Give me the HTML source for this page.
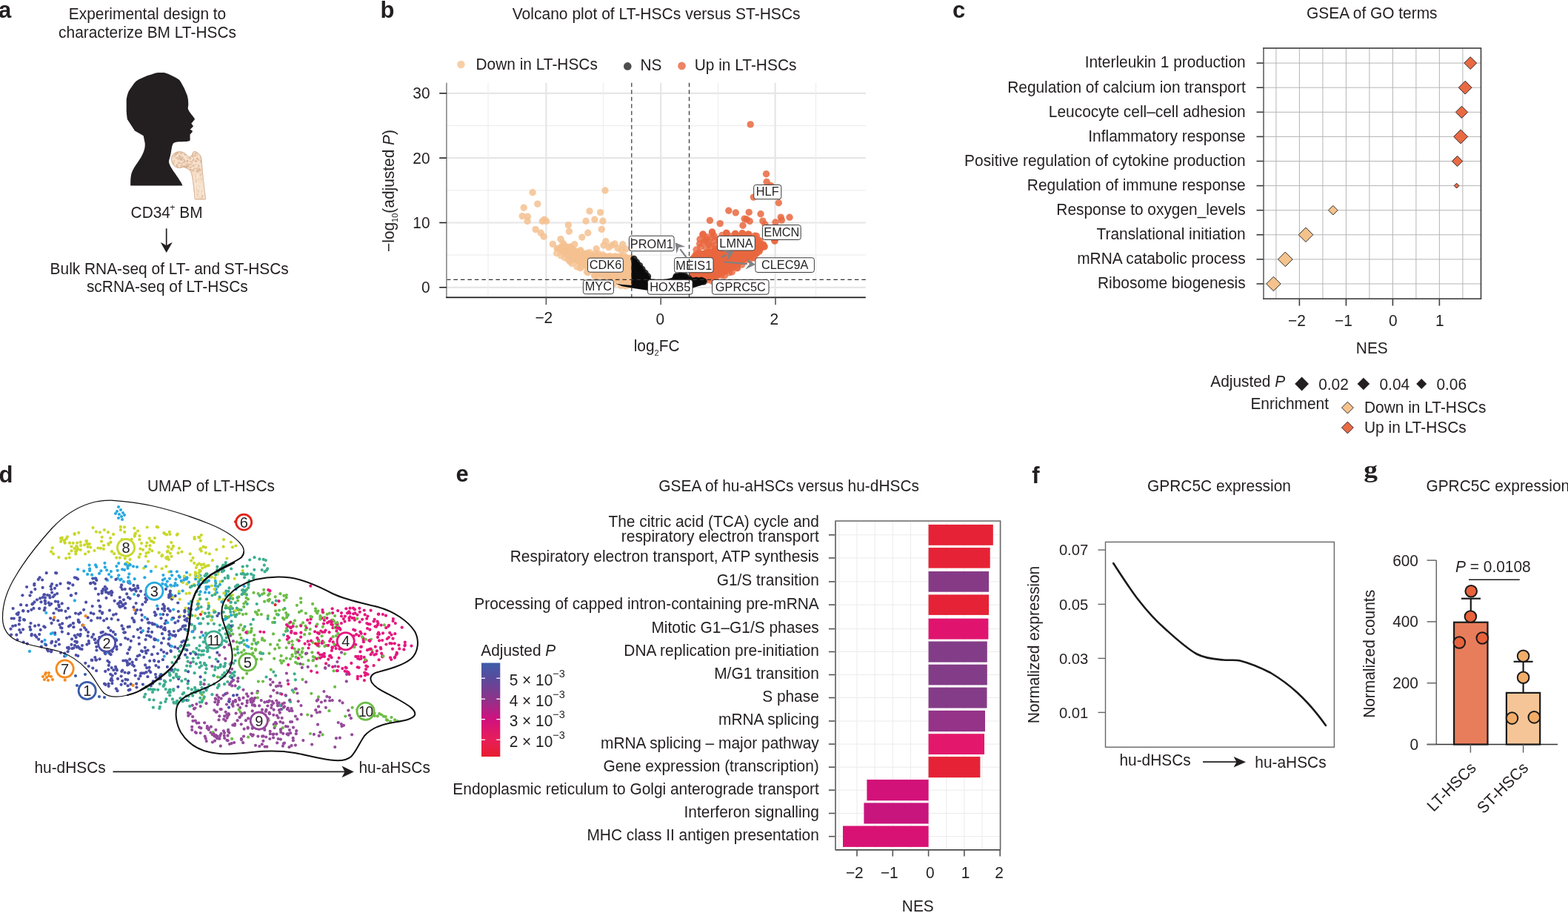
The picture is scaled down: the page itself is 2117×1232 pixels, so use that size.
<!DOCTYPE html>
<html><head><meta charset="utf-8"><title>Figure</title>
<style>html,body{margin:0;padding:0;background:#fff;}svg{display:block;}
text{font-family:'Liberation Sans', sans-serif;fill:#231f20;}</style></head>
<body><svg width="2117" height="1232" viewBox="0 0 2117 1232">
<rect width="2117" height="1232" fill="#fff"/>
<text x="-2" y="24.4" font-size="31" font-weight="bold" style="font-family:'Liberation Sans', sans-serif">a</text>
<text x="513.5" y="24.4" font-size="31" font-weight="bold" style="font-family:'Liberation Sans', sans-serif">b</text>
<text x="1286" y="24.4" font-size="31" font-weight="bold" style="font-family:'Liberation Sans', sans-serif">c</text>
<text x="-1.5" y="651" font-size="31" font-weight="bold" style="font-family:'Liberation Sans', sans-serif">d</text>
<text x="615.5" y="649.5" font-size="31" font-weight="bold" style="font-family:'Liberation Sans', sans-serif">e</text>
<text x="1393.3" y="652" font-size="31" font-weight="bold" style="font-family:'Liberation Sans', sans-serif">f</text>
<text transform="translate(1841.3 644.3) scale(1.17 1)" font-size="32" font-weight="bold" style="font-family:'Liberation Serif', serif">g</text>
<text transform="translate(199 25.6) scale(1 1.035)" font-size="20.9" text-anchor="middle" >Experimental design to</text>
<text transform="translate(199 51.2) scale(1 1.035)" font-size="20.9" text-anchor="middle" >characterize BM LT-HSCs</text>
<path d="M176.2 250.4 C176 243 176.5 238 177.5 234 C179.5 228 183 223 186 219 C190 213 194 207 195.5 199 C196 195 195.8 192 195 190 C194.5 186.5 194 184 193.4 182.9 L182 176.4 L171.9 161 C171 155 170.6 150 170.7 147.2 L170.7 134.2 C171.5 129 172.5 126 173.9 122.8 L181.2 112.3 C183 110 185 108.5 187.7 107 L199.1 102.1 C204 100.5 209 98.3 213.7 97.9 L221.8 97.9 C229 100 236 103.5 242.1 107.8 C244.5 111 246.5 115 248.6 118.8 L252.7 128.5 C253.8 132 254.3 136.5 254.3 140.7 C254.3 143 253.5 145.5 253.9 147.2 C255.5 151 259.5 155.5 262.4 159.4 C263.2 160.5 263 161.2 262.4 161.8 L258.3 166.7 C259.5 168 261 169.5 260.8 170.7 L256.7 174.8 C258 175.5 260 176.3 259.9 177.2 C259.5 178.8 257.5 180 256.7 181.3 C256.3 184 256.8 187 256.5 189.4 C254.5 191.5 248 191.2 242 191.2 C238 191.4 235 192 233.5 194 C231.5 198 231.5 204 230 210 C229 214 227.5 217 228.3 220 C230 226 236 233 240.5 240 C243 244 245.5 247.5 246.4 250.4 Z" fill="#231f20"/>
<defs><clipPath id="bonec"><path d="M231.5 215.2 C231.2 209.5 236 205 241.7 204.8 C246.5 204.6 250 206.5 251.8 209.2 C253 211.2 254.8 212.2 256.5 211.8 C259 211.2 259.5 208 260.5 206 C261.2 204.6 262.3 204.2 263.2 204.5 C267.5 205.8 271 209 271.8 214 C272.5 222 273.5 235 275 248 C276 257 277 264 277.5 268.9 L263.2 268.9 C262.3 258 261 246 259.5 238 C258.5 232.5 256.5 229 253.6 227.8 C251 226.5 248.5 225.2 246.8 225.4 C244.5 226.5 242 226.8 240 226.2 C235 225 231.8 220.5 231.5 215.2 Z"/></clipPath></defs>
<path d="M231.5 215.2 C231.2 209.5 236 205 241.7 204.8 C246.5 204.6 250 206.5 251.8 209.2 C253 211.2 254.8 212.2 256.5 211.8 C259 211.2 259.5 208 260.5 206 C261.2 204.6 262.3 204.2 263.2 204.5 C267.5 205.8 271 209 271.8 214 C272.5 222 273.5 235 275 248 C276 257 277 264 277.5 268.9 L263.2 268.9 C262.3 258 261 246 259.5 238 C258.5 232.5 256.5 229 253.6 227.8 C251 226.5 248.5 225.2 246.8 225.4 C244.5 226.5 242 226.8 240 226.2 C235 225 231.8 220.5 231.5 215.2 Z" fill="#f6ddc6" stroke="#d9b79b" stroke-width="0.8"/>
<g clip-path="url(#bonec)" fill="#c99d7c" fill-opacity="0.45"><circle cx="242.3" cy="220.1" r="0.9"/><circle cx="256.6" cy="222.3" r="0.7"/><circle cx="233.5" cy="227.8" r="0.8"/><circle cx="242.1" cy="231.9" r="1"/><circle cx="265.6" cy="218.4" r="1.2"/><circle cx="238.9" cy="222.5" r="1.4"/><circle cx="253.4" cy="225.3" r="1.2"/><circle cx="235.5" cy="225.7" r="1.1"/><circle cx="244.7" cy="206.8" r="1.4"/><circle cx="251.4" cy="224.7" r="1.4"/><circle cx="260.9" cy="229.9" r="1"/><circle cx="264.2" cy="217.6" r="1.4"/><circle cx="267.3" cy="208.5" r="0.7"/><circle cx="241.5" cy="231.1" r="1"/><circle cx="257.4" cy="213.8" r="1.1"/><circle cx="248" cy="215.1" r="1.1"/><circle cx="255.8" cy="229.5" r="1.2"/><circle cx="269.2" cy="228.3" r="1.5"/><circle cx="259.2" cy="210.2" r="1.4"/><circle cx="270.6" cy="229.5" r="1.1"/><circle cx="260.8" cy="211.5" r="1.3"/><circle cx="255.4" cy="213.4" r="0.7"/><circle cx="266.3" cy="231.7" r="0.7"/><circle cx="264.2" cy="216.7" r="0.7"/><circle cx="244.5" cy="226" r="1.4"/><circle cx="234.7" cy="222" r="0.6"/><circle cx="261" cy="214.6" r="1.4"/><circle cx="271.2" cy="219.1" r="1.5"/><circle cx="245.1" cy="208" r="1.1"/><circle cx="234.2" cy="211.1" r="1"/><circle cx="256.8" cy="210.1" r="0.6"/><circle cx="266.8" cy="214.2" r="1.5"/><circle cx="268" cy="215.8" r="1"/><circle cx="253.3" cy="222.7" r="1.1"/><circle cx="254.8" cy="222.1" r="1.4"/><circle cx="252.8" cy="217.2" r="1.2"/><circle cx="242.3" cy="213.8" r="1.5"/><circle cx="253.3" cy="220.3" r="0.6"/><circle cx="249.2" cy="221.1" r="0.6"/><circle cx="257" cy="222.4" r="0.7"/><circle cx="257.5" cy="218.1" r="1.2"/><circle cx="246.8" cy="224.4" r="1.3"/><circle cx="233.9" cy="207.6" r="1.2"/><circle cx="270.6" cy="212.5" r="1"/><circle cx="256.1" cy="214.3" r="0.9"/><circle cx="245.2" cy="215.6" r="1.1"/><circle cx="244.7" cy="215.8" r="1.3"/><circle cx="234" cy="220.8" r="1.3"/><circle cx="245.1" cy="211.8" r="1.3"/><circle cx="242.3" cy="210.9" r="1"/><circle cx="260.2" cy="208.6" r="0.9"/><circle cx="246" cy="227.7" r="1"/><circle cx="266.4" cy="210.4" r="0.9"/><circle cx="258.4" cy="229" r="1"/><circle cx="241.8" cy="209.1" r="1.1"/><circle cx="240.4" cy="227" r="1.4"/><circle cx="240.2" cy="213.2" r="1.3"/><circle cx="258" cy="227" r="0.9"/><circle cx="238.1" cy="213.6" r="1.3"/><circle cx="243.6" cy="215" r="1"/><circle cx="249.4" cy="216.6" r="1.4"/><circle cx="239.1" cy="206.1" r="1.4"/><circle cx="267.3" cy="231.7" r="1"/><circle cx="270.1" cy="230.1" r="0.8"/><circle cx="262.1" cy="227.8" r="1.2"/><circle cx="253.2" cy="213.5" r="0.9"/><circle cx="241.9" cy="207.8" r="1.1"/><circle cx="244.2" cy="227.1" r="0.6"/><circle cx="268.2" cy="224" r="1.4"/><circle cx="268" cy="229.4" r="1.1"/><circle cx="233.5" cy="225.4" r="0.8"/><circle cx="244.7" cy="223.2" r="1.1"/><circle cx="249.1" cy="230.4" r="1.2"/><circle cx="246.3" cy="212.6" r="1.4"/><circle cx="251.6" cy="226.3" r="0.9"/><circle cx="240.7" cy="219.9" r="1.3"/><circle cx="239.7" cy="226.6" r="1.4"/><circle cx="264.4" cy="227.4" r="0.6"/><circle cx="257.5" cy="228.4" r="0.6"/><circle cx="243.6" cy="213" r="1.1"/><circle cx="249.5" cy="218.3" r="1.3"/><circle cx="233.1" cy="207.4" r="0.7"/><circle cx="237.9" cy="207.8" r="1.5"/><circle cx="266.3" cy="208.2" r="1.1"/><circle cx="245.3" cy="214.2" r="0.9"/><circle cx="258.2" cy="221.3" r="0.9"/><circle cx="240.5" cy="214.5" r="0.7"/><circle cx="254.7" cy="224.6" r="0.9"/><circle cx="236.1" cy="210.6" r="0.9"/><circle cx="256.6" cy="226.3" r="0.9"/><circle cx="264.2" cy="222.2" r="1"/><circle cx="247.5" cy="218.9" r="1.2"/><circle cx="249.4" cy="224" r="1"/><circle cx="242.6" cy="219.9" r="1.2"/><circle cx="235.8" cy="217" r="1"/><circle cx="267.3" cy="230.3" r="0.9"/><circle cx="268" cy="226.6" r="0.8"/><circle cx="251.1" cy="209.2" r="1.3"/><circle cx="258.8" cy="229.1" r="1.3"/><circle cx="259" cy="225.1" r="1.1"/><circle cx="237" cy="221.3" r="0.6"/><circle cx="238.6" cy="226.1" r="0.6"/><circle cx="236.6" cy="208.6" r="1.4"/><circle cx="240" cy="206.6" r="1.4"/><circle cx="237.7" cy="227.9" r="1.2"/><circle cx="265.6" cy="230.8" r="1.1"/><circle cx="264.2" cy="206.9" r="1.3"/><circle cx="252.9" cy="224.6" r="0.7"/><circle cx="262.2" cy="230.3" r="0.7"/><circle cx="245.6" cy="220.7" r="1.3"/><circle cx="242.4" cy="210.7" r="0.8"/><circle cx="257" cy="225.6" r="1"/><circle cx="247.3" cy="216.3" r="0.9"/><circle cx="249.3" cy="208.2" r="1.1"/><circle cx="270.9" cy="216.7" r="1.3"/><circle cx="239.3" cy="224" r="1.3"/><circle cx="259.3" cy="219.4" r="1"/><circle cx="258.1" cy="229.3" r="0.7"/><circle cx="236.7" cy="225.5" r="1.4"/><circle cx="253.2" cy="217.5" r="1.2"/><circle cx="240.3" cy="213" r="0.8"/><circle cx="255.8" cy="214.2" r="0.8"/><circle cx="260" cy="230.8" r="0.9"/><circle cx="260.5" cy="216.7" r="1.4"/><circle cx="255.8" cy="212.9" r="0.8"/><circle cx="233.9" cy="218.5" r="0.9"/><circle cx="239.7" cy="215.4" r="0.9"/><circle cx="263.2" cy="209.7" r="1.5"/><circle cx="251.7" cy="221.6" r="1"/><circle cx="265.5" cy="227.4" r="1.1"/><circle cx="251.8" cy="224.7" r="1.4"/><circle cx="248.6" cy="225.1" r="1.5"/><circle cx="251.2" cy="212" r="0.8"/><circle cx="261" cy="223.6" r="1.5"/><circle cx="266.3" cy="212.3" r="0.8"/><circle cx="243.1" cy="210.9" r="1.2"/><circle cx="266.5" cy="229.4" r="0.8"/><circle cx="266.7" cy="214.1" r="1"/><circle cx="261.4" cy="208.2" r="0.7"/><circle cx="265.5" cy="213.6" r="0.9"/><circle cx="270.1" cy="255.7" r="0.4"/><circle cx="266.7" cy="246.6" r="0.6"/><circle cx="264.9" cy="252.2" r="0.9"/><circle cx="267.5" cy="250.7" r="0.5"/><circle cx="265.8" cy="255.3" r="0.5"/><circle cx="274.4" cy="264.5" r="0.4"/><circle cx="275.2" cy="244.2" r="0.8"/><circle cx="272.6" cy="241.2" r="0.7"/><circle cx="271.2" cy="260.6" r="0.5"/><circle cx="272.6" cy="266.5" r="0.7"/><circle cx="269.5" cy="234.3" r="0.6"/><circle cx="266.9" cy="257.3" r="0.7"/><circle cx="269.9" cy="236.9" r="0.7"/><circle cx="270.8" cy="236.8" r="0.8"/><circle cx="271.2" cy="234.7" r="0.9"/><circle cx="264" cy="242.6" r="0.8"/><circle cx="270.4" cy="251.1" r="0.7"/><circle cx="268.4" cy="241.9" r="0.5"/><circle cx="263" cy="257.2" r="0.8"/><circle cx="269.6" cy="258.1" r="0.6"/><circle cx="265.7" cy="244.6" r="0.8"/><circle cx="262.6" cy="249.2" r="0.5"/><circle cx="272.8" cy="243.5" r="0.6"/><circle cx="267.6" cy="250.6" r="0.8"/><circle cx="266.9" cy="262.2" r="0.5"/><circle cx="265.8" cy="233.8" r="0.5"/><circle cx="272.9" cy="257.6" r="0.5"/><circle cx="264.6" cy="245.8" r="0.8"/><circle cx="273.4" cy="258.5" r="0.7"/><circle cx="264.1" cy="245.1" r="0.5"/><circle cx="269.4" cy="251.6" r="0.5"/><circle cx="265.5" cy="259.7" r="0.4"/><circle cx="273.2" cy="263.9" r="0.9"/><circle cx="267.4" cy="251" r="0.7"/><circle cx="270.9" cy="267.1" r="0.7"/><circle cx="266.2" cy="262.7" r="0.6"/><circle cx="270.4" cy="257.6" r="0.4"/><circle cx="272.8" cy="255.2" r="0.6"/><circle cx="269.3" cy="247.5" r="0.5"/><circle cx="269.4" cy="231.4" r="0.7"/><circle cx="271" cy="246.9" r="0.7"/><circle cx="275.4" cy="263.9" r="0.5"/><circle cx="273.1" cy="253.7" r="0.4"/><circle cx="267" cy="238.9" r="0.4"/><circle cx="269.5" cy="265.3" r="0.6"/><circle cx="274.2" cy="256.4" r="0.5"/><circle cx="274" cy="252.8" r="0.9"/><circle cx="272" cy="258.1" r="0.6"/><circle cx="273.3" cy="265.4" r="0.8"/><circle cx="268.1" cy="258.8" r="0.6"/><circle cx="263.5" cy="231.6" r="0.4"/><circle cx="264.8" cy="236.1" r="0.6"/><circle cx="271.8" cy="250.4" r="0.6"/><circle cx="271.1" cy="241.6" r="0.6"/><circle cx="272.6" cy="245.3" r="0.5"/><circle cx="274.6" cy="257.3" r="0.6"/><circle cx="267.2" cy="250.1" r="0.7"/><circle cx="265.1" cy="230.1" r="0.5"/><circle cx="273" cy="235.5" r="0.6"/><circle cx="264.7" cy="238" r="0.5"/></g>
<g clip-path="url(#bonec)"><path d="M248.5 210.9 l-4.7 -3.1 M240.1 218.3 l-4.4 -3.8 M250.1 216.4 l2 -3.6 M248.5 216.1 l-4.7 3.7 M241.9 209.2 l-0.3 -2.7 M256.4 215 l-3.8 -3.6 M260.2 213.3 l2.9 -0.3 M267.6 213.9 l-2.5 -1.9 M263.3 221.5 l-1.6 -3.3 M258.6 229.3 l0.9 -4 M235.1 209.1 l-3.3 -3.7 M235.9 222 l4 -2.4 M269.1 218 l3 3.3 M267.8 207.8 l-2 0.9 M268.1 209 l-2.1 2.8 M238.1 216 l-1.7 1.4 M267.4 211 l2.4 1.9 M264.1 219.7 l4.2 -1.1 M248.9 212.3 l2.8 -0.2 M243.7 210.9 l2.2 0.8 M259.6 215.9 l-0.1 -2.8 M259.6 207.5 l-0.3 2.1 M258.4 209.2 l-2.6 2.7 M257.1 227.2 l3.7 -0.4 M266.3 223.9 l-1.7 -1 M236.6 216.2 l4.6 -3.2 M254.5 209.5 l-4.2 1.2 M242.7 208.1 l-3.5 1.2 M255.1 207.3 l-2.7 3.7 M241.9 219.9 l-0.8 2.2 M270 255.7 l0.1 5.8 M265.8 234.4 l0.5 5.5 M264.2 261 l-0.5 8.6 M264.9 246 l-0.4 8.3 M270.2 251.3 l0.4 8.5 M267.5 250.1 l-0.1 5.4 M272.4 249.8 l0.5 5.8 M269.4 245.9 l0.4 5.3 M267.5 246.5 l-0.7 7.2 M271.4 244.7 l0.2 7.4 M266.1 242.5 l0.8 6.3 M268.3 234.5 l-0.5 5.7 M273.3 253.8 l0.6 8.9 M270.1 259.9 l0.1 6.7" stroke="#fff4ea" stroke-width="0.8" fill="none" opacity="0.85"/><path d="M264.5 268.9 C263.5 256 262.5 246 261.5 238 M276 268.9 C275 258 274 246 273.3 236" stroke="#f9e6d4" stroke-width="1.6" fill="none"/></g>
<path d="M231.5 215.2 C231.2 209.5 236 205 241.7 204.8 C246.5 204.6 250 206.5 251.8 209.2 C253 211.2 254.8 212.2 256.5 211.8 C259 211.2 259.5 208 260.5 206 C261.2 204.6 262.3 204.2 263.2 204.5 C267.5 205.8 271 209 271.8 214 C272.5 222 273.5 235 275 248 C276 257 277 264 277.5 268.9 L263.2 268.9 C262.3 258 261 246 259.5 238 C258.5 232.5 256.5 229 253.6 227.8 C251 226.5 248.5 225.2 246.8 225.4 C244.5 226.5 242 226.8 240 226.2 C235 225 231.8 220.5 231.5 215.2 Z" fill="none" stroke="#d7b295" stroke-width="0.8"/>
<text transform="translate(176.6 294) scale(1 1.035)" font-size="20.9">CD34<tspan dy="-10" dx="-0.8" font-size="12.5">+</tspan><tspan dy="10"> BM</tspan></text>
<line x1="224.7" y1="308.3" x2="224.7" y2="333" stroke="#231f20" stroke-width="1.7" />
<path d="M216.8 327 Q221 328.5 224.7 331.5 Q228.5 328.5 232.8 327 L224.7 341 Z" fill="#231f20"/>
<text transform="translate(228.7 369.8) scale(1 1.035)" font-size="20.9" text-anchor="middle" >Bulk RNA-seq of LT- and ST-HSCs</text>
<text transform="translate(225.8 394.3) scale(1 1.035)" font-size="20.9" text-anchor="middle" >scRNA-seq of LT-HSCs</text>
<text transform="translate(691.7 25.9) scale(1 1.035)" font-size="21.05" text-anchor="start" >Volcano plot of LT-HSCs versus ST-HSCs</text>
<circle cx="622.4" cy="87" r="5.3" fill="#f7cfa6"/>
<text transform="translate(642.5 94.1) scale(1 1.035)" font-size="20.9" text-anchor="start" >Down in LT-HSCs</text>
<circle cx="847.3" cy="89.4" r="5.3" fill="#4d4d4d"/>
<text transform="translate(864.5 95.3) scale(1 1.035)" font-size="20.9" text-anchor="start" >NS</text>
<circle cx="920.5" cy="88.9" r="5.3" fill="#ed8264"/>
<text transform="translate(937.7 95.3) scale(1 1.035)" font-size="20.9" text-anchor="start" >Up in LT-HSCs</text>
<line x1="602.9" y1="387.8" x2="1168.8" y2="387.8" stroke="#e6e6e6" stroke-width="2.2" />
<line x1="602.9" y1="300.5" x2="1168.8" y2="300.5" stroke="#e6e6e6" stroke-width="2.2" />
<line x1="602.9" y1="213.2" x2="1168.8" y2="213.2" stroke="#e6e6e6" stroke-width="2.2" />
<line x1="602.9" y1="125.9" x2="1168.8" y2="125.9" stroke="#e6e6e6" stroke-width="2.2" />
<line x1="602.9" y1="344.1" x2="1168.8" y2="344.1" stroke="#eeeeee" stroke-width="1.2" />
<line x1="602.9" y1="256.9" x2="1168.8" y2="256.9" stroke="#eeeeee" stroke-width="1.2" />
<line x1="602.9" y1="169.6" x2="1168.8" y2="169.6" stroke="#eeeeee" stroke-width="1.2" />
<line x1="737.4" y1="111.7" x2="737.4" y2="401.4" stroke="#e6e6e6" stroke-width="2.2" />
<line x1="892.2" y1="111.7" x2="892.2" y2="401.4" stroke="#e6e6e6" stroke-width="2.2" />
<line x1="1046.6" y1="111.7" x2="1046.6" y2="401.4" stroke="#e6e6e6" stroke-width="2.2" />
<line x1="659" y1="111.7" x2="659" y2="401.4" stroke="#eeeeee" stroke-width="1.2" />
<line x1="814.5" y1="111.7" x2="814.5" y2="401.4" stroke="#eeeeee" stroke-width="1.2" />
<line x1="969.5" y1="111.7" x2="969.5" y2="401.4" stroke="#eeeeee" stroke-width="1.2" />
<line x1="1101.5" y1="111.7" x2="1101.5" y2="401.4" stroke="#eeeeee" stroke-width="1.2" />
<g><path d="M749 334 L753 331.5 L767 329.5 L776.4 334.5 L790 338.5 L800.5 340.5 L813.9 341.5 L827.3 342.5 L840 343 L853 344.5 L853 385 L840.7 383 L828 380.5 L808.5 373.5 L789 362.5 L768.5 350.5 L754 340.5 L748 337 Z" fill="#f5c190" fill-opacity="1"/><circle cx="752.2" cy="335.2" r="4.7" fill="#f5c190" fill-opacity="0.8"/><circle cx="757.7" cy="333.2" r="4.7" fill="#f5c190" fill-opacity="0.8"/><circle cx="760.4" cy="333.2" r="4.7" fill="#f5c190" fill-opacity="0.8"/><circle cx="763.6" cy="332.6" r="4.7" fill="#f5c190" fill-opacity="0.8"/><circle cx="768.3" cy="334.1" r="4.7" fill="#f5c190" fill-opacity="0.8"/><circle cx="771.3" cy="333.9" r="4.7" fill="#f5c190" fill-opacity="0.8"/><circle cx="775.8" cy="338" r="4.7" fill="#f5c190" fill-opacity="0.8"/><circle cx="783.8" cy="337.7" r="4.7" fill="#f5c190" fill-opacity="0.8"/><circle cx="788.8" cy="342.3" r="4.7" fill="#f5c190" fill-opacity="0.8"/><circle cx="792.9" cy="342" r="4.7" fill="#f5c190" fill-opacity="0.8"/><circle cx="795.9" cy="340.6" r="4.7" fill="#f5c190" fill-opacity="0.8"/><circle cx="804" cy="341.9" r="4.7" fill="#f5c190" fill-opacity="0.8"/><circle cx="808.3" cy="342.8" r="4.7" fill="#f5c190" fill-opacity="0.8"/><circle cx="813.9" cy="343.9" r="4.7" fill="#f5c190" fill-opacity="0.8"/><circle cx="823.3" cy="345.8" r="4.7" fill="#f5c190" fill-opacity="0.8"/><circle cx="830.5" cy="345.6" r="4.7" fill="#f5c190" fill-opacity="0.8"/><circle cx="836.7" cy="345.9" r="4.7" fill="#f5c190" fill-opacity="0.8"/><circle cx="842.8" cy="345.1" r="4.7" fill="#f5c190" fill-opacity="0.8"/><circle cx="852.5" cy="348.6" r="4.7" fill="#f5c190" fill-opacity="0.8"/><circle cx="847.7" cy="385" r="4.7" fill="#f5c190" fill-opacity="0.8"/><circle cx="844.5" cy="386" r="4.7" fill="#f5c190" fill-opacity="0.8"/><circle cx="838.3" cy="385.5" r="4.7" fill="#f5c190" fill-opacity="0.8"/><circle cx="829.1" cy="382.6" r="4.7" fill="#f5c190" fill-opacity="0.8"/><circle cx="823.2" cy="380.8" r="4.7" fill="#f5c190" fill-opacity="0.8"/><circle cx="818.3" cy="377.4" r="4.7" fill="#f5c190" fill-opacity="0.8"/><circle cx="817.4" cy="379.3" r="4.7" fill="#f5c190" fill-opacity="0.8"/><circle cx="808.4" cy="375.2" r="4.7" fill="#f5c190" fill-opacity="0.8"/><circle cx="802.8" cy="372.4" r="4.7" fill="#f5c190" fill-opacity="0.8"/><circle cx="802.7" cy="371.5" r="4.7" fill="#f5c190" fill-opacity="0.8"/><circle cx="793.9" cy="367.8" r="4.7" fill="#f5c190" fill-opacity="0.8"/><circle cx="792.4" cy="366.8" r="4.7" fill="#f5c190" fill-opacity="0.8"/><circle cx="784.7" cy="360.8" r="4.7" fill="#f5c190" fill-opacity="0.8"/><circle cx="783.2" cy="361.8" r="4.7" fill="#f5c190" fill-opacity="0.8"/><circle cx="778.9" cy="360" r="4.7" fill="#f5c190" fill-opacity="0.8"/><circle cx="772.2" cy="355.6" r="4.7" fill="#f5c190" fill-opacity="0.8"/><circle cx="769.5" cy="353" r="4.7" fill="#f5c190" fill-opacity="0.8"/><circle cx="767.1" cy="350.5" r="4.7" fill="#f5c190" fill-opacity="0.8"/><circle cx="762.4" cy="347.6" r="4.7" fill="#f5c190" fill-opacity="0.8"/><circle cx="757.3" cy="344.9" r="4.7" fill="#f5c190" fill-opacity="0.8"/><circle cx="751.6" cy="341.7" r="4.7" fill="#f5c190" fill-opacity="0.8"/><path d="M931 347 L936.8 341.5 L941.9 339 L949.2 338 L956.5 337 L963.8 334.5 L969 332 L985 329 L1000 328.5 L1012 327.5 L1020.8 323 L1029.6 326.5 L1034.5 331.5 L1028.1 341 L1021 347 L1012 350 L1000 358 L990 365 L976 372.5 L962 378 L950 381 L934.6 383.8 L931 384 Z" fill="#e9673f" fill-opacity="1"/><circle cx="939" cy="344.2" r="4.7" fill="#e9673f" fill-opacity="0.8"/><circle cx="940" cy="344.1" r="4.7" fill="#e9673f" fill-opacity="0.8"/><circle cx="943.7" cy="340.9" r="4.7" fill="#e9673f" fill-opacity="0.8"/><circle cx="955.8" cy="340.1" r="4.7" fill="#e9673f" fill-opacity="0.8"/><circle cx="958.5" cy="340.6" r="4.7" fill="#e9673f" fill-opacity="0.8"/><circle cx="965.7" cy="335.5" r="4.7" fill="#e9673f" fill-opacity="0.8"/><circle cx="973.5" cy="333.1" r="4.7" fill="#e9673f" fill-opacity="0.8"/><circle cx="976.1" cy="331.8" r="4.7" fill="#e9673f" fill-opacity="0.8"/><circle cx="980.7" cy="332.6" r="4.7" fill="#e9673f" fill-opacity="0.8"/><circle cx="986.3" cy="331.8" r="4.7" fill="#e9673f" fill-opacity="0.8"/><circle cx="991.9" cy="331.1" r="4.7" fill="#e9673f" fill-opacity="0.8"/><circle cx="999.9" cy="331" r="4.7" fill="#e9673f" fill-opacity="0.8"/><circle cx="1003.8" cy="331.9" r="4.7" fill="#e9673f" fill-opacity="0.8"/><circle cx="1007.2" cy="329.3" r="4.7" fill="#e9673f" fill-opacity="0.8"/><circle cx="1017.6" cy="328.6" r="4.7" fill="#e9673f" fill-opacity="0.8"/><circle cx="1018.2" cy="326" r="4.7" fill="#e9673f" fill-opacity="0.8"/><circle cx="1022.6" cy="327.9" r="4.7" fill="#e9673f" fill-opacity="0.8"/><circle cx="1024.6" cy="328.8" r="4.7" fill="#e9673f" fill-opacity="0.8"/><circle cx="1031.9" cy="332.9" r="4.7" fill="#e9673f" fill-opacity="0.8"/><circle cx="1032.1" cy="332.8" r="4.7" fill="#e9673f" fill-opacity="0.8"/><circle cx="1027.9" cy="334.2" r="4.7" fill="#e9673f" fill-opacity="0.8"/><circle cx="1025.2" cy="339.3" r="4.7" fill="#e9673f" fill-opacity="0.8"/><circle cx="1021.4" cy="342.1" r="4.7" fill="#e9673f" fill-opacity="0.8"/><circle cx="1018.4" cy="348" r="4.7" fill="#e9673f" fill-opacity="0.8"/><circle cx="1015.3" cy="347.6" r="4.7" fill="#e9673f" fill-opacity="0.8"/><circle cx="1011.9" cy="350.5" r="4.7" fill="#e9673f" fill-opacity="0.8"/><circle cx="1004.9" cy="352.8" r="4.7" fill="#e9673f" fill-opacity="0.8"/><circle cx="1001.7" cy="357.1" r="4.7" fill="#e9673f" fill-opacity="0.8"/><circle cx="995.7" cy="361.6" r="4.7" fill="#e9673f" fill-opacity="0.8"/><circle cx="995.1" cy="361.8" r="4.7" fill="#e9673f" fill-opacity="0.8"/><circle cx="988.3" cy="366.9" r="4.7" fill="#e9673f" fill-opacity="0.8"/><circle cx="984.5" cy="367.9" r="4.7" fill="#e9673f" fill-opacity="0.8"/><circle cx="978.3" cy="372" r="4.7" fill="#e9673f" fill-opacity="0.8"/><circle cx="973.7" cy="371.5" r="4.7" fill="#e9673f" fill-opacity="0.8"/><circle cx="966.4" cy="375.2" r="4.7" fill="#e9673f" fill-opacity="0.8"/><circle cx="963.2" cy="376.7" r="4.7" fill="#e9673f" fill-opacity="0.8"/><circle cx="961.4" cy="379.2" r="4.7" fill="#e9673f" fill-opacity="0.8"/><circle cx="955.5" cy="377.8" r="4.7" fill="#e9673f" fill-opacity="0.8"/><circle cx="946" cy="379.7" r="4.7" fill="#e9673f" fill-opacity="0.8"/><circle cx="944.6" cy="381" r="4.7" fill="#e9673f" fill-opacity="0.8"/><circle cx="937" cy="382.1" r="4.7" fill="#e9673f" fill-opacity="0.8"/><circle cx="948.8" cy="316.4" r="4.7" fill="#e9673f" fill-opacity="0.8"/><circle cx="961.4" cy="313.5" r="4.7" fill="#e9673f" fill-opacity="0.8"/><circle cx="962.4" cy="320.3" r="4.7" fill="#e9673f" fill-opacity="0.8"/><circle cx="954.6" cy="323.2" r="4.7" fill="#e9673f" fill-opacity="0.8"/><circle cx="950.7" cy="326.1" r="4.7" fill="#e9673f" fill-opacity="0.8"/><circle cx="957.5" cy="327.1" r="4.7" fill="#e9673f" fill-opacity="0.8"/><circle cx="964.3" cy="325.2" r="4.7" fill="#e9673f" fill-opacity="0.8"/><circle cx="944.5" cy="329" r="4.7" fill="#e9673f" fill-opacity="0.8"/><circle cx="980.9" cy="314.5" r="4.7" fill="#e9673f" fill-opacity="0.8"/><circle cx="992.6" cy="315.4" r="4.7" fill="#e9673f" fill-opacity="0.8"/><circle cx="1002.3" cy="314.9" r="4.7" fill="#e9673f" fill-opacity="0.8"/><circle cx="1010.1" cy="315.9" r="4.7" fill="#e9673f" fill-opacity="0.8"/><circle cx="1018.9" cy="318.3" r="4.7" fill="#e9673f" fill-opacity="0.8"/><circle cx="975" cy="317.4" r="4.7" fill="#e9673f" fill-opacity="0.8"/><circle cx="1022.8" cy="323.2" r="4.7" fill="#e9673f" fill-opacity="0.8"/><circle cx="1030.6" cy="330" r="4.7" fill="#e9673f" fill-opacity="0.8"/><circle cx="1024.7" cy="328.1" r="4.7" fill="#e9673f" fill-opacity="0.8"/><circle cx="1046.1" cy="325.2" r="4.7" fill="#e9673f" fill-opacity="0.8"/><circle cx="986" cy="319" r="4.7" fill="#e9673f" fill-opacity="0.8"/><circle cx="997" cy="320" r="4.7" fill="#e9673f" fill-opacity="0.8"/><circle cx="1008" cy="321" r="4.7" fill="#e9673f" fill-opacity="0.8"/><circle cx="970" cy="323" r="4.7" fill="#e9673f" fill-opacity="0.8"/><circle cx="1015" cy="324" r="4.7" fill="#e9673f" fill-opacity="0.8"/><circle cx="978" cy="325" r="4.7" fill="#e9673f" fill-opacity="0.8"/><circle cx="992" cy="326" r="4.7" fill="#e9673f" fill-opacity="0.8"/><circle cx="1004" cy="327" r="4.7" fill="#e9673f" fill-opacity="0.8"/><circle cx="946" cy="333" r="4.7" fill="#e9673f" fill-opacity="0.8"/><circle cx="953" cy="334" r="4.7" fill="#e9673f" fill-opacity="0.8"/><circle cx="960" cy="333" r="4.7" fill="#e9673f" fill-opacity="0.8"/><circle cx="966" cy="331" r="4.7" fill="#e9673f" fill-opacity="0.8"/><circle cx="940" cy="337" r="4.7" fill="#e9673f" fill-opacity="0.8"/><circle cx="957" cy="330.5" r="4.7" fill="#e9673f" fill-opacity="0.8"/><circle cx="719.1" cy="259.7" r="4.7" fill="#f5c190" fill-opacity="0.85"/><circle cx="817" cy="257" r="4.7" fill="#f5c190" fill-opacity="0.85"/><circle cx="725.8" cy="275.1" r="4.7" fill="#f5c190" fill-opacity="0.85"/><circle cx="707.2" cy="280.2" r="4.7" fill="#f5c190" fill-opacity="0.85"/><circle cx="705.2" cy="291.6" r="4.7" fill="#f5c190" fill-opacity="0.85"/><circle cx="712.4" cy="292.2" r="4.7" fill="#f5c190" fill-opacity="0.85"/><circle cx="712.1" cy="298.5" r="4.7" fill="#f5c190" fill-opacity="0.85"/><circle cx="734.9" cy="296.2" r="4.7" fill="#f5c190" fill-opacity="0.85"/><circle cx="732.2" cy="298.5" r="4.7" fill="#f5c190" fill-opacity="0.85"/><circle cx="737.6" cy="298.5" r="4.7" fill="#f5c190" fill-opacity="0.85"/><circle cx="723.1" cy="309.6" r="4.7" fill="#f5c190" fill-opacity="0.85"/><circle cx="730.2" cy="314.3" r="4.7" fill="#f5c190" fill-opacity="0.85"/><circle cx="734.2" cy="319.3" r="4.7" fill="#f5c190" fill-opacity="0.85"/><circle cx="796" cy="284.9" r="4.7" fill="#f5c190" fill-opacity="0.85"/><circle cx="810.6" cy="286.6" r="4.7" fill="#f5c190" fill-opacity="0.85"/><circle cx="791.1" cy="298.2" r="4.7" fill="#f5c190" fill-opacity="0.85"/><circle cx="802.9" cy="296.2" r="4.7" fill="#f5c190" fill-opacity="0.85"/><circle cx="813.9" cy="298.2" r="4.7" fill="#f5c190" fill-opacity="0.85"/><circle cx="767.3" cy="303.6" r="4.7" fill="#f5c190" fill-opacity="0.85"/><circle cx="768.4" cy="312.3" r="4.7" fill="#f5c190" fill-opacity="0.85"/><circle cx="793.8" cy="314.3" r="4.7" fill="#f5c190" fill-opacity="0.85"/><circle cx="812.3" cy="309.4" r="4.7" fill="#f5c190" fill-opacity="0.85"/><circle cx="785.8" cy="320.1" r="4.7" fill="#f5c190" fill-opacity="0.85"/><circle cx="757" cy="322.6" r="4.7" fill="#f5c190" fill-opacity="0.85"/><circle cx="746.3" cy="329.4" r="4.7" fill="#f5c190" fill-opacity="0.85"/><circle cx="817.9" cy="325.7" r="4.7" fill="#f5c190" fill-opacity="0.85"/><circle cx="830" cy="329" r="4.7" fill="#f5c190" fill-opacity="0.85"/><circle cx="840.7" cy="329.7" r="4.7" fill="#f5c190" fill-opacity="0.85"/><circle cx="821.9" cy="333.7" r="4.7" fill="#f5c190" fill-opacity="0.85"/><circle cx="839.3" cy="337.8" r="4.7" fill="#f5c190" fill-opacity="0.85"/><circle cx="805.2" cy="335.7" r="4.7" fill="#f5c190" fill-opacity="0.85"/><circle cx="783.8" cy="339.1" r="4.7" fill="#f5c190" fill-opacity="0.85"/><circle cx="775.7" cy="329.7" r="4.7" fill="#f5c190" fill-opacity="0.85"/><circle cx="762" cy="331" r="4.7" fill="#f5c190" fill-opacity="0.85"/><circle cx="770" cy="333" r="4.7" fill="#f5c190" fill-opacity="0.85"/><circle cx="826" cy="331" r="4.7" fill="#f5c190" fill-opacity="0.85"/><circle cx="834" cy="335" r="4.7" fill="#f5c190" fill-opacity="0.85"/><circle cx="815" cy="331" r="4.7" fill="#f5c190" fill-opacity="0.85"/><circle cx="760" cy="328" r="4.7" fill="#f5c190" fill-opacity="0.85"/><circle cx="845" cy="336" r="4.7" fill="#f5c190" fill-opacity="0.85"/><circle cx="1013.2" cy="167.9" r="4.7" fill="#e9673f" fill-opacity="0.85"/><circle cx="1034.5" cy="234.8" r="4.7" fill="#e9673f" fill-opacity="0.85"/><circle cx="1035.1" cy="245.4" r="4.7" fill="#e9673f" fill-opacity="0.85"/><circle cx="1040.6" cy="250.4" r="4.7" fill="#e9673f" fill-opacity="0.85"/><circle cx="1017.3" cy="266.1" r="4.7" fill="#e9673f" fill-opacity="0.85"/><circle cx="1051.3" cy="273.8" r="4.7" fill="#e9673f" fill-opacity="0.85"/><circle cx="983.8" cy="284.3" r="4.7" fill="#e9673f" fill-opacity="0.85"/><circle cx="993.3" cy="287" r="4.7" fill="#e9673f" fill-opacity="0.85"/><circle cx="1011.2" cy="286.4" r="4.7" fill="#e9673f" fill-opacity="0.85"/><circle cx="1027" cy="288.8" r="4.7" fill="#e9673f" fill-opacity="0.85"/><circle cx="1054.2" cy="293.1" r="4.7" fill="#e9673f" fill-opacity="0.85"/><circle cx="1066" cy="293.3" r="4.7" fill="#e9673f" fill-opacity="0.85"/><circle cx="1055.4" cy="297.1" r="4.7" fill="#e9673f" fill-opacity="0.85"/><circle cx="1005.1" cy="295.1" r="4.7" fill="#e9673f" fill-opacity="0.85"/><circle cx="1012.2" cy="298.5" r="4.7" fill="#e9673f" fill-opacity="0.85"/><circle cx="1029.8" cy="298.1" r="4.7" fill="#e9673f" fill-opacity="0.85"/><circle cx="1003" cy="304.2" r="4.7" fill="#e9673f" fill-opacity="0.85"/><circle cx="958.4" cy="297.5" r="4.7" fill="#e9673f" fill-opacity="0.85"/><circle cx="972.2" cy="301.6" r="4.7" fill="#e9673f" fill-opacity="0.85"/><circle cx="949.3" cy="316" r="4.7" fill="#e9673f" fill-opacity="0.85"/><circle cx="961.5" cy="313" r="4.7" fill="#e9673f" fill-opacity="0.85"/><circle cx="980.7" cy="314.4" r="4.7" fill="#e9673f" fill-opacity="0.85"/><circle cx="992.9" cy="315.4" r="4.7" fill="#e9673f" fill-opacity="0.85"/><circle cx="1002" cy="314.8" r="4.7" fill="#e9673f" fill-opacity="0.85"/><circle cx="1011.2" cy="316.4" r="4.7" fill="#e9673f" fill-opacity="0.85"/><circle cx="1021.3" cy="318.4" r="4.7" fill="#e9673f" fill-opacity="0.85"/><circle cx="1045.7" cy="324.5" r="4.7" fill="#e9673f" fill-opacity="0.85"/><circle cx="1030.4" cy="330.6" r="4.7" fill="#e9673f" fill-opacity="0.85"/><circle cx="952.3" cy="324.5" r="4.7" fill="#e9673f" fill-opacity="0.85"/><circle cx="1008" cy="296" r="4.7" fill="#e9673f" fill-opacity="0.85"/><circle cx="1033" cy="303" r="4.7" fill="#e9673f" fill-opacity="0.85"/><circle cx="1040" cy="310" r="4.7" fill="#e9673f" fill-opacity="0.85"/><circle cx="1036" cy="318" r="4.7" fill="#e9673f" fill-opacity="0.85"/><circle cx="1026" cy="325" r="4.7" fill="#e9673f" fill-opacity="0.85"/><circle cx="1016" cy="322" r="4.7" fill="#e9673f" fill-opacity="0.85"/><circle cx="955" cy="320" r="4.7" fill="#e9673f" fill-opacity="0.85"/><circle cx="964" cy="318" r="4.7" fill="#e9673f" fill-opacity="0.85"/><circle cx="945" cy="323" r="4.7" fill="#e9673f" fill-opacity="0.85"/><circle cx="1042" cy="257" r="4.7" fill="#e9673f" fill-opacity="0.85"/><circle cx="1047" cy="300" r="4.7" fill="#e9673f" fill-opacity="0.85"/><path d="M852.5 345.5 L857 349 L862 354 L866 359 L871 366 L876.5 372.5 L879 376.5 L891 377 L900 376.5 L907 375 L911 370 L917 368 L923 368.5 L928 371.5 L932 374.5 L945 374.5 L951 375.5 L954 379.5 L951 383.5 L934 389 L917 391.8 L900 392.6 L885 392.4 L874 391.7 L857 389.3 L840 386.3 L831 382.5 L840 384 L852.5 385 Z" fill="#0b0b0b" fill-opacity="1"/><circle cx="856" cy="349.5" r="4.7" fill="#0b0b0b" fill-opacity="0.85"/><circle cx="859.5" cy="354" r="4.7" fill="#0b0b0b" fill-opacity="0.85"/><circle cx="863.5" cy="358.5" r="4.7" fill="#0b0b0b" fill-opacity="0.85"/><circle cx="867" cy="363.5" r="4.7" fill="#0b0b0b" fill-opacity="0.85"/><circle cx="871" cy="368.5" r="4.7" fill="#0b0b0b" fill-opacity="0.85"/><circle cx="874.5" cy="373" r="4.7" fill="#0b0b0b" fill-opacity="0.85"/><circle cx="913" cy="373" r="4.7" fill="#0b0b0b" fill-opacity="0.85"/><circle cx="919" cy="371.5" r="4.7" fill="#0b0b0b" fill-opacity="0.85"/><circle cx="925" cy="372.5" r="4.7" fill="#0b0b0b" fill-opacity="0.85"/><circle cx="930" cy="376" r="4.7" fill="#0b0b0b" fill-opacity="0.85"/><circle cx="940" cy="378.5" r="4.7" fill="#0b0b0b" fill-opacity="0.85"/><circle cx="947" cy="378.5" r="4.7" fill="#0b0b0b" fill-opacity="0.85"/><circle cx="950" cy="380" r="4.7" fill="#0b0b0b" fill-opacity="0.85"/></g>
<rect x="793.5" y="348.2" width="47.9" height="19" rx="3" fill="#fff" stroke="#3a3a3a" stroke-width="1"/>
<text transform="translate(817.5 362.9) scale(1 1.035)" font-size="16.3" text-anchor="middle">CDK6</text>
<rect x="787.4" y="377.9" width="41" height="18.8" rx="3" fill="#fff" stroke="#3a3a3a" stroke-width="1"/>
<text transform="translate(807.9 392.4) scale(1 1.035)" font-size="16.3" text-anchor="middle">MYC</text>
<rect x="849.4" y="318.3" width="60.7" height="20.5" rx="3" fill="#fff" stroke="#3a3a3a" stroke-width="1"/>
<text transform="translate(879.8 334.5) scale(1 1.035)" font-size="16.3" text-anchor="middle">PROM1</text>
<rect x="910.6" y="347.7" width="52.4" height="20.1" rx="3" fill="#fff" stroke="#3a3a3a" stroke-width="1"/>
<text transform="translate(936.8 363.5) scale(1 1.035)" font-size="16.3" text-anchor="middle">MEIS1</text>
<rect x="874.5" y="377.6" width="60.5" height="19.6" rx="3" fill="#fff" stroke="#3a3a3a" stroke-width="1"/>
<text transform="translate(904.8 392.9) scale(1 1.035)" font-size="16.3" text-anchor="middle">HOXB5</text>
<rect x="961.5" y="377.5" width="76.5" height="19.7" rx="3" fill="#fff" stroke="#3a3a3a" stroke-width="1"/>
<text transform="translate(999.8 392.9) scale(1 1.035)" font-size="16.3" text-anchor="middle">GPRC5C</text>
<rect x="968.7" y="318.4" width="50.6" height="19.6" rx="3" fill="#fff" stroke="#3a3a3a" stroke-width="1"/>
<text transform="translate(994 333.7) scale(1 1.035)" font-size="16.3" text-anchor="middle">LMNA</text>
<rect x="1017.7" y="249.4" width="37.1" height="19.3" rx="3" fill="#fff" stroke="#3a3a3a" stroke-width="1"/>
<text transform="translate(1036.2 264.4) scale(1 1.035)" font-size="16.3" text-anchor="middle">HLF</text>
<rect x="1029.4" y="303.6" width="51.8" height="19.9" rx="3" fill="#fff" stroke="#3a3a3a" stroke-width="1"/>
<text transform="translate(1055.3 319.2) scale(1 1.035)" font-size="16.3" text-anchor="middle">EMCN</text>
<rect x="1019.9" y="347.8" width="79.5" height="19.7" rx="3" fill="#fff" stroke="#3a3a3a" stroke-width="1"/>
<text transform="translate(1059.7 363.2) scale(1 1.035)" font-size="16.3" text-anchor="middle">CLEC9A</text>
<line x1="926.5" y1="347" x2="918.2" y2="336.1" stroke="#808285" stroke-width="2.2" />
<path d="M911.6 327.3 L925.4 333.1 L916.5 333.7 L913.5 342.2 Z" fill="#808285"/>
<line x1="973.6" y1="347.2" x2="980.9" y2="343.8" stroke="#808285" stroke-width="2.2" />
<path d="M990.9 339.1 L982.3 351.4 L983.6 342.5 L975.9 337.8 Z" fill="#808285"/>
<line x1="977.7" y1="353.5" x2="1008.9" y2="356.1" stroke="#808285" stroke-width="2.2" />
<path d="M1019.9 357 L1006.3 363.4 L1011.9 356.3 L1007.6 348.5 Z" fill="#808285"/>
<line x1="852.8" y1="111.7" x2="852.8" y2="401.4" stroke="#333" stroke-width="1.2" stroke-dasharray="5.5 4"/>
<line x1="930.5" y1="111.7" x2="930.5" y2="401.4" stroke="#333" stroke-width="1.2" stroke-dasharray="5.5 4"/>
<line x1="602.9" y1="377.4" x2="1168.8" y2="377.4" stroke="#333" stroke-width="1.2" stroke-dasharray="5.5 4"/>
<line x1="602.9" y1="111.7" x2="602.9" y2="401.4" stroke="#888" stroke-width="1.6" />
<line x1="602.1" y1="401.4" x2="1168.8" y2="401.4" stroke="#1a1a1a" stroke-width="1.6" />
<line x1="593.2" y1="387.8" x2="602.9" y2="387.8" stroke="#222" stroke-width="1.6" />
<text transform="translate(580.6 395.1) scale(1 1.035)" font-size="20.9" text-anchor="end" >0</text>
<line x1="593.2" y1="300.5" x2="602.9" y2="300.5" stroke="#222" stroke-width="1.6" />
<text transform="translate(580.6 307.8) scale(1 1.035)" font-size="20.9" text-anchor="end" >10</text>
<line x1="593.2" y1="213.2" x2="602.9" y2="213.2" stroke="#222" stroke-width="1.6" />
<text transform="translate(580.6 220.5) scale(1 1.035)" font-size="20.9" text-anchor="end" >20</text>
<line x1="593.2" y1="125.9" x2="602.9" y2="125.9" stroke="#222" stroke-width="1.6" />
<text transform="translate(580.6 133.2) scale(1 1.035)" font-size="20.9" text-anchor="end" >30</text>
<line x1="737.4" y1="401.4" x2="737.4" y2="411.2" stroke="#5a5a5a" stroke-width="1.6" />
<text transform="translate(734.3 435.6) scale(1 1.035)" font-size="20.9" text-anchor="middle" >−2</text>
<line x1="892.2" y1="401.4" x2="892.2" y2="411.2" stroke="#5a5a5a" stroke-width="1.6" />
<text transform="translate(891.2 437.5) scale(1 1.035)" font-size="20.9" text-anchor="middle" >0</text>
<line x1="1047" y1="401.4" x2="1047" y2="411.2" stroke="#5a5a5a" stroke-width="1.6" />
<text transform="translate(1045.2 437.5) scale(1 1.035)" font-size="20.9" text-anchor="middle" >2</text>
<text transform="translate(855.7 474) scale(1 1.035)" font-size="20.9">log<tspan dy="5.5" font-size="11">2</tspan><tspan dy="-5.5">FC</tspan></text>
<text transform="translate(531.5 257.5) rotate(-90) scale(1 1.035)" font-size="20.9" text-anchor="middle">−log<tspan dy="5.5" font-size="11">10</tspan><tspan dy="-5.5">(adjusted </tspan><tspan font-style="italic">P</tspan>)</text>
<text transform="translate(1852.3 25.3) scale(1 1.035)" font-size="20.9" text-anchor="middle" >GSEA of GO terms</text>
<line x1="1722.9" y1="65" x2="1722.9" y2="403.2" stroke="#b5b5b5" stroke-width="1" />
<line x1="1754.4" y1="65" x2="1754.4" y2="403.2" stroke="#b5b5b5" stroke-width="1" />
<line x1="1785.9" y1="65" x2="1785.9" y2="403.2" stroke="#b5b5b5" stroke-width="1" />
<line x1="1817.4" y1="65" x2="1817.4" y2="403.2" stroke="#b5b5b5" stroke-width="1" />
<line x1="1848.9" y1="65" x2="1848.9" y2="403.2" stroke="#b5b5b5" stroke-width="1" />
<line x1="1880.4" y1="65" x2="1880.4" y2="403.2" stroke="#b5b5b5" stroke-width="1" />
<line x1="1911.9" y1="65" x2="1911.9" y2="403.2" stroke="#b5b5b5" stroke-width="1" />
<line x1="1943.4" y1="65" x2="1943.4" y2="403.2" stroke="#b5b5b5" stroke-width="1" />
<line x1="1974.9" y1="65" x2="1974.9" y2="403.2" stroke="#b5b5b5" stroke-width="1" />
<line x1="1705.8" y1="85.1" x2="1999.5" y2="85.1" stroke="#b5b5b5" stroke-width="1" />
<line x1="1705.8" y1="118.2" x2="1999.5" y2="118.2" stroke="#b5b5b5" stroke-width="1" />
<line x1="1705.8" y1="151.3" x2="1999.5" y2="151.3" stroke="#b5b5b5" stroke-width="1" />
<line x1="1705.8" y1="184.4" x2="1999.5" y2="184.4" stroke="#b5b5b5" stroke-width="1" />
<line x1="1705.8" y1="217.5" x2="1999.5" y2="217.5" stroke="#b5b5b5" stroke-width="1" />
<line x1="1705.8" y1="250.6" x2="1999.5" y2="250.6" stroke="#b5b5b5" stroke-width="1" />
<line x1="1705.8" y1="283.7" x2="1999.5" y2="283.7" stroke="#b5b5b5" stroke-width="1" />
<line x1="1705.8" y1="316.8" x2="1999.5" y2="316.8" stroke="#b5b5b5" stroke-width="1" />
<line x1="1705.8" y1="349.9" x2="1999.5" y2="349.9" stroke="#b5b5b5" stroke-width="1" />
<line x1="1705.8" y1="383" x2="1999.5" y2="383" stroke="#b5b5b5" stroke-width="1" />
<rect x="1705.8" y="65" width="293.7" height="338.2" fill="none" stroke="#3c3c3c" stroke-width="1.6"/>
<line x1="1705.8" y1="65.8" x2="1705.8" y2="402.4" stroke="#7f7f7f" stroke-width="1.6" />
<line x1="1696.5" y1="85.1" x2="1705.8" y2="85.1" stroke="#3c3c3c" stroke-width="1.6" />
<text transform="translate(1681.7 91.4) scale(1 1.035)" font-size="20.9" text-anchor="end" >Interleukin 1 production</text>
<line x1="1696.5" y1="118.2" x2="1705.8" y2="118.2" stroke="#3c3c3c" stroke-width="1.6" />
<text transform="translate(1681.7 124.5) scale(1 1.035)" font-size="20.9" text-anchor="end" >Regulation of calcium ion transport</text>
<line x1="1696.5" y1="151.3" x2="1705.8" y2="151.3" stroke="#3c3c3c" stroke-width="1.6" />
<text transform="translate(1681.7 157.6) scale(1 1.035)" font-size="20.9" text-anchor="end" >Leucocyte cell–cell adhesion</text>
<line x1="1696.5" y1="184.4" x2="1705.8" y2="184.4" stroke="#3c3c3c" stroke-width="1.6" />
<text transform="translate(1681.7 190.7) scale(1 1.035)" font-size="20.9" text-anchor="end" >Inflammatory response</text>
<line x1="1696.5" y1="217.5" x2="1705.8" y2="217.5" stroke="#3c3c3c" stroke-width="1.6" />
<text transform="translate(1681.7 223.8) scale(1 1.035)" font-size="20.9" text-anchor="end" >Positive regulation of cytokine production</text>
<line x1="1696.5" y1="250.6" x2="1705.8" y2="250.6" stroke="#3c3c3c" stroke-width="1.6" />
<text transform="translate(1681.7 256.9) scale(1 1.035)" font-size="20.9" text-anchor="end" >Regulation of immune response</text>
<line x1="1696.5" y1="283.7" x2="1705.8" y2="283.7" stroke="#3c3c3c" stroke-width="1.6" />
<text transform="translate(1681.7 290) scale(1 1.035)" font-size="20.9" text-anchor="end" >Response to oxygen_levels</text>
<line x1="1696.5" y1="316.8" x2="1705.8" y2="316.8" stroke="#3c3c3c" stroke-width="1.6" />
<text transform="translate(1681.7 323.1) scale(1 1.035)" font-size="20.9" text-anchor="end" >Translational initiation</text>
<line x1="1696.5" y1="349.9" x2="1705.8" y2="349.9" stroke="#3c3c3c" stroke-width="1.6" />
<text transform="translate(1681.7 356.2) scale(1 1.035)" font-size="20.9" text-anchor="end" >mRNA catabolic process</text>
<line x1="1696.5" y1="383" x2="1705.8" y2="383" stroke="#3c3c3c" stroke-width="1.6" />
<text transform="translate(1681.7 389.3) scale(1 1.035)" font-size="20.9" text-anchor="end" >Ribosome biogenesis</text>
<line x1="1754.4" y1="403.2" x2="1754.4" y2="412.6" stroke="#3c3c3c" stroke-width="1.6" />
<text transform="translate(1750.9 440.2) scale(1 1.035)" font-size="20.9" text-anchor="middle" >−2</text>
<line x1="1817.4" y1="403.2" x2="1817.4" y2="412.6" stroke="#3c3c3c" stroke-width="1.6" />
<text transform="translate(1813.9 440.2) scale(1 1.035)" font-size="20.9" text-anchor="middle" >−1</text>
<line x1="1880.4" y1="403.2" x2="1880.4" y2="412.6" stroke="#3c3c3c" stroke-width="1.6" />
<text transform="translate(1880.9 440.2) scale(1 1.035)" font-size="20.9" text-anchor="middle" >0</text>
<line x1="1943.4" y1="403.2" x2="1943.4" y2="412.6" stroke="#3c3c3c" stroke-width="1.6" />
<text transform="translate(1943.9 440.2) scale(1 1.035)" font-size="20.9" text-anchor="middle" >1</text>
<text transform="translate(1852.3 476.5) scale(1 1.035)" font-size="20.9" text-anchor="middle" >NES</text>
<path d="M1985.2 76.7 L1993.6 85.1 L1985.2 93.5 L1976.8 85.1 Z" fill="#e96a43" stroke="#2a2a2a" stroke-width="1"/>
<path d="M1978.2 109.3 L1987.1 118.2 L1978.2 127.1 L1969.3 118.2 Z" fill="#e96a43" stroke="#2a2a2a" stroke-width="1"/>
<path d="M1973.5 143.2 L1981.6 151.3 L1973.5 159.4 L1965.4 151.3 Z" fill="#e96a43" stroke="#2a2a2a" stroke-width="1"/>
<path d="M1972.2 174.9 L1981.7 184.4 L1972.2 193.9 L1962.7 184.4 Z" fill="#e96a43" stroke="#2a2a2a" stroke-width="1"/>
<path d="M1967.6 210.4 L1974.7 217.5 L1967.6 224.6 L1960.5 217.5 Z" fill="#e96a43" stroke="#2a2a2a" stroke-width="1"/>
<path d="M1966.6 247.2 L1970 250.6 L1966.6 254 L1963.2 250.6 Z" fill="#e96a43" stroke="#2a2a2a" stroke-width="1"/>
<path d="M1799.8 277.4 L1806.1 283.7 L1799.8 290 L1793.5 283.7 Z" fill="#f6c28c" stroke="#2a2a2a" stroke-width="1"/>
<path d="M1763 307.1 L1772.7 316.8 L1763 326.5 L1753.3 316.8 Z" fill="#f6c28c" stroke="#2a2a2a" stroke-width="1"/>
<path d="M1735.3 340.1 L1745.1 349.9 L1735.3 359.7 L1725.5 349.9 Z" fill="#f6c28c" stroke="#2a2a2a" stroke-width="1"/>
<path d="M1719.4 373.3 L1729.1 383 L1719.4 392.7 L1709.7 383 Z" fill="#f6c28c" stroke="#2a2a2a" stroke-width="1"/>
<text transform="translate(1634.2 522.1) scale(1 1.035)" font-size="20.9">Adjusted <tspan font-style="italic">P</tspan></text>
<path d="M1757.6 508.6 L1767 518 L1757.6 527.4 L1748.2 518 Z" fill="#231f20" stroke="none" stroke-width="1"/>
<text transform="translate(1780.2 525.5) scale(1 1.035)" font-size="20.9" text-anchor="start" >0.02</text>
<path d="M1840.9 509.7 L1849.2 518 L1840.9 526.3 L1832.6 518 Z" fill="#231f20" stroke="none" stroke-width="1"/>
<text transform="translate(1862.5 525.5) scale(1 1.035)" font-size="20.9" text-anchor="start" >0.04</text>
<path d="M1919.2 511 L1926.2 518 L1919.2 525 L1912.2 518 Z" fill="#231f20" stroke="none" stroke-width="1"/>
<text transform="translate(1939.4 525.5) scale(1 1.035)" font-size="20.9" text-anchor="start" >0.06</text>
<text transform="translate(1688.4 552.4) scale(1 1.035)" font-size="20.9" text-anchor="start" >Enrichment</text>
<path d="M1819.4 542.2 L1827.3 550.1 L1819.4 558 L1811.5 550.1 Z" fill="#f6c28c" stroke="#2a2a2a" stroke-width="1"/>
<text transform="translate(1842 557.1) scale(1 1.035)" font-size="20.9" text-anchor="start" >Down in LT-HSCs</text>
<path d="M1819.4 569.1 L1827.3 577 L1819.4 584.9 L1811.5 577 Z" fill="#e96a43" stroke="#2a2a2a" stroke-width="1"/>
<text transform="translate(1842 583.6) scale(1 1.035)" font-size="20.9" text-anchor="start" >Up in LT-HSCs</text>
<text transform="translate(198.9 662.9) scale(1 1.035)" font-size="20.9" text-anchor="start" >UMAP of LT-HSCs</text>
<g><circle cx="143" cy="865.9" r="2.1" fill="#29a9e0"/><circle cx="521.4" cy="869.5" r="2.1" fill="#e5177e"/><circle cx="270.9" cy="829" r="2.1" fill="#e2231a"/><circle cx="42.2" cy="799.2" r="2.1" fill="#4c4fa6"/><circle cx="399.2" cy="881.6" r="2.1" fill="#6cbd45"/><circle cx="241.9" cy="739.8" r="2.1" fill="#c9d82c"/><circle cx="186.3" cy="793.5" r="2.1" fill="#4c4fa6"/><circle cx="135.3" cy="833.9" r="2.1" fill="#4c4fa6"/><circle cx="246.5" cy="845.7" r="2.1" fill="#4c4fa6"/><circle cx="313.2" cy="925.4" r="2.1" fill="#954a9b"/><circle cx="276.5" cy="785.8" r="2.1" fill="#29a9e0"/><circle cx="493" cy="911.3" r="2.1" fill="#e5177e"/><circle cx="416.4" cy="891.2" r="2.1" fill="#6cbd45"/><circle cx="215.9" cy="912.5" r="2.1" fill="#4c4fa6"/><circle cx="459.5" cy="849.6" r="2.1" fill="#e5177e"/><circle cx="438.3" cy="852.8" r="2.1" fill="#e5177e"/><circle cx="255.7" cy="828.9" r="2.1" fill="#3dae8f"/><circle cx="250.5" cy="820.6" r="2.1" fill="#c9d82c"/><circle cx="324.4" cy="960.8" r="2.1" fill="#6cbd45"/><circle cx="134.8" cy="824.6" r="2.1" fill="#4c4fa6"/><circle cx="470.4" cy="907.3" r="2.1" fill="#e5177e"/><circle cx="289.3" cy="958.4" r="2.1" fill="#954a9b"/><circle cx="298.7" cy="957.2" r="2.1" fill="#954a9b"/><circle cx="151.7" cy="879.1" r="2.1" fill="#4c4fa6"/><circle cx="158.9" cy="780.3" r="2.1" fill="#29a9e0"/><circle cx="397.6" cy="875.6" r="2.1" fill="#6cbd45"/><circle cx="444" cy="898.1" r="2.1" fill="#954a9b"/><circle cx="397.9" cy="854.6" r="2.1" fill="#e5177e"/><circle cx="326.2" cy="964.9" r="2.1" fill="#954a9b"/><circle cx="483.1" cy="888.6" r="2.1" fill="#e5177e"/><circle cx="229.7" cy="871.3" r="2.1" fill="#4c4fa6"/><circle cx="89.2" cy="753.4" r="2.1" fill="#c9d82c"/><circle cx="225.9" cy="829.6" r="2.1" fill="#4c4fa6"/><circle cx="46.4" cy="787.8" r="2.1" fill="#4c4fa6"/><circle cx="507.9" cy="882.6" r="2.1" fill="#e5177e"/><circle cx="274.9" cy="934" r="2.1" fill="#3dae8f"/><circle cx="477.2" cy="849.6" r="2.1" fill="#e5177e"/><circle cx="462.3" cy="902.1" r="2.1" fill="#e5177e"/><circle cx="172.7" cy="846" r="2.1" fill="#4c4fa6"/><circle cx="394.9" cy="870.2" r="2.1" fill="#6cbd45"/><circle cx="355.1" cy="882" r="2.1" fill="#3dae8f"/><circle cx="292.9" cy="938.1" r="2.1" fill="#954a9b"/><circle cx="304.6" cy="855.3" r="2.1" fill="#3dae8f"/><circle cx="258.6" cy="935.7" r="2.1" fill="#3dae8f"/><circle cx="253.1" cy="850" r="2.1" fill="#3dae8f"/><circle cx="272.7" cy="781.9" r="2.1" fill="#3dae8f"/><circle cx="274.3" cy="857.4" r="2.1" fill="#29a9e0"/><circle cx="213.3" cy="864.1" r="2.1" fill="#29a9e0"/><circle cx="131.7" cy="833.8" r="2.1" fill="#4c4fa6"/><circle cx="313.1" cy="902.8" r="2.1" fill="#954a9b"/><circle cx="321.1" cy="919.3" r="2.1" fill="#954a9b"/><circle cx="485.3" cy="889.3" r="2.1" fill="#e5177e"/><circle cx="400.2" cy="986.2" r="2.1" fill="#954a9b"/><circle cx="358.1" cy="964.9" r="2.1" fill="#954a9b"/><circle cx="169" cy="820.5" r="2.1" fill="#4c4fa6"/><circle cx="325" cy="843.4" r="2.1" fill="#6cbd45"/><circle cx="166.2" cy="848.4" r="2.1" fill="#4c4fa6"/><circle cx="172.1" cy="897.5" r="2.1" fill="#4c4fa6"/><circle cx="303" cy="923.2" r="2.1" fill="#3dae8f"/><circle cx="293.1" cy="996.3" r="2.1" fill="#954a9b"/><circle cx="436.3" cy="826.4" r="2.1" fill="#6cbd45"/><circle cx="546.8" cy="870" r="2.1" fill="#e5177e"/><circle cx="229.1" cy="860.7" r="2.1" fill="#29a9e0"/><circle cx="18.8" cy="834.6" r="2.1" fill="#4c4fa6"/><circle cx="245.3" cy="918.9" r="2.1" fill="#3dae8f"/><circle cx="295.8" cy="808.6" r="2.1" fill="#c9d82c"/><circle cx="194.8" cy="940.4" r="2.1" fill="#3dae8f"/><circle cx="163.7" cy="781.6" r="2.1" fill="#29a9e0"/><circle cx="87.2" cy="885.5" r="2.1" fill="#4c4fa6"/><circle cx="142.3" cy="882.3" r="2.1" fill="#4c4fa6"/><circle cx="325.9" cy="996.9" r="2.1" fill="#954a9b"/><circle cx="364" cy="963.2" r="2.1" fill="#954a9b"/><circle cx="399.4" cy="879.3" r="2.1" fill="#6cbd45"/><circle cx="307.5" cy="852.1" r="2.1" fill="#3dae8f"/><circle cx="309.6" cy="943.5" r="2.1" fill="#954a9b"/><circle cx="28.1" cy="816.2" r="2.1" fill="#4c4fa6"/><circle cx="259.3" cy="830.5" r="2.1" fill="#3dae8f"/><circle cx="322.5" cy="847.4" r="2.1" fill="#6cbd45"/><circle cx="92.1" cy="786.4" r="2.1" fill="#4c4fa6"/><circle cx="142.4" cy="796.7" r="2.1" fill="#4c4fa6"/><circle cx="192.3" cy="815.7" r="2.1" fill="#4c4fa6"/><circle cx="457" cy="845.9" r="2.1" fill="#6cbd45"/><circle cx="426.9" cy="898.7" r="2.1" fill="#6cbd45"/><circle cx="362.3" cy="796.1" r="2.1" fill="#e5177e"/><circle cx="408.9" cy="896.5" r="2.1" fill="#6cbd45"/><circle cx="31.7" cy="866.6" r="2.1" fill="#4c4fa6"/><circle cx="284.5" cy="988.5" r="2.1" fill="#954a9b"/><circle cx="294.3" cy="901.1" r="2.1" fill="#3dae8f"/><circle cx="496" cy="848" r="2.1" fill="#e5177e"/><circle cx="281.8" cy="982.7" r="2.1" fill="#954a9b"/><circle cx="396" cy="841.4" r="2.1" fill="#6cbd45"/><circle cx="209.6" cy="830.5" r="2.1" fill="#4c4fa6"/><circle cx="471.4" cy="834" r="2.1" fill="#e5177e"/><circle cx="306.6" cy="968.8" r="2.1" fill="#954a9b"/><circle cx="420.2" cy="905.6" r="2.1" fill="#e5177e"/><circle cx="305.2" cy="803.3" r="2.1" fill="#3dae8f"/><circle cx="113.3" cy="770.6" r="2.1" fill="#29a9e0"/><circle cx="198.4" cy="802.8" r="2.1" fill="#4c4fa6"/><circle cx="454.4" cy="851.4" r="2.1" fill="#e5177e"/><circle cx="456.7" cy="975" r="2.1" fill="#954a9b"/><circle cx="430.1" cy="887.8" r="2.1" fill="#6cbd45"/><circle cx="306.3" cy="753.5" r="2.1" fill="#c9d82c"/><circle cx="223.5" cy="789" r="2.1" fill="#29a9e0"/><circle cx="490.5" cy="861.3" r="2.1" fill="#e5177e"/><circle cx="24.1" cy="829.3" r="2.1" fill="#4c4fa6"/><circle cx="502.2" cy="877.6" r="2.1" fill="#6cbd45"/><circle cx="146" cy="718.2" r="2.1" fill="#c9d82c"/><circle cx="452.4" cy="899" r="2.1" fill="#954a9b"/><circle cx="94.2" cy="787.1" r="2.1" fill="#4c4fa6"/><circle cx="78.3" cy="837.5" r="2.1" fill="#4c4fa6"/><circle cx="105.1" cy="768.3" r="2.1" fill="#29a9e0"/><circle cx="267.6" cy="887.5" r="2.1" fill="#3dae8f"/><circle cx="470.3" cy="958.6" r="2.1" fill="#954a9b"/><circle cx="137.1" cy="862.6" r="2.1" fill="#4c4fa6"/><circle cx="301.3" cy="769.4" r="2.1" fill="#3dae8f"/><circle cx="231.6" cy="790.7" r="2.1" fill="#29a9e0"/><circle cx="87.2" cy="881.5" r="2.1" fill="#4c4fa6"/><circle cx="205.5" cy="841.1" r="2.1" fill="#4c4fa6"/><circle cx="239.4" cy="946" r="2.1" fill="#3dae8f"/><circle cx="271.5" cy="883.8" r="2.1" fill="#3dae8f"/><circle cx="253.4" cy="851.4" r="2.1" fill="#4c4fa6"/><circle cx="375.7" cy="829.7" r="2.1" fill="#3dae8f"/><circle cx="401.4" cy="863.3" r="2.1" fill="#6cbd45"/><circle cx="280" cy="927.8" r="2.1" fill="#3dae8f"/><circle cx="341.9" cy="835.9" r="2.1" fill="#3dae8f"/><circle cx="271.8" cy="722.1" r="2.1" fill="#c9d82c"/><circle cx="474.3" cy="894.9" r="2.1" fill="#e5177e"/><circle cx="495.3" cy="841.1" r="2.1" fill="#e5177e"/><circle cx="501" cy="862.8" r="2.1" fill="#6cbd45"/><circle cx="403.4" cy="876.6" r="2.1" fill="#6cbd45"/><circle cx="236.5" cy="903.2" r="2.1" fill="#3dae8f"/><circle cx="157.4" cy="764.1" r="2.1" fill="#29a9e0"/><circle cx="239.2" cy="789.8" r="2.1" fill="#29a9e0"/><circle cx="419.3" cy="790.7" r="2.1" fill="#e5177e"/><circle cx="95.1" cy="843.7" r="2.1" fill="#4c4fa6"/><circle cx="308.8" cy="847.9" r="2.1" fill="#3dae8f"/><circle cx="306.4" cy="998.8" r="2.1" fill="#954a9b"/><circle cx="125.5" cy="712.1" r="2.1" fill="#c9d82c"/><circle cx="509.5" cy="838.5" r="2.1" fill="#e5177e"/><circle cx="115.3" cy="894.8" r="2.1" fill="#4c4fa6"/><circle cx="178.6" cy="893.6" r="2.1" fill="#4c4fa6"/><circle cx="506.5" cy="845.3" r="2.1" fill="#e5177e"/><circle cx="125.3" cy="901.6" r="2.1" fill="#4c4fa6"/><circle cx="357.1" cy="811.7" r="2.1" fill="#6cbd45"/><circle cx="369.2" cy="948.8" r="2.1" fill="#954a9b"/><circle cx="240.1" cy="904.3" r="2.1" fill="#3dae8f"/><circle cx="249.3" cy="781.9" r="2.1" fill="#c9d82c"/><circle cx="313.5" cy="950.5" r="2.1" fill="#954a9b"/><circle cx="419.4" cy="831.8" r="2.1" fill="#6cbd45"/><circle cx="363.5" cy="881.7" r="2.1" fill="#6cbd45"/><circle cx="316.7" cy="906.9" r="2.1" fill="#3dae8f"/><circle cx="258.1" cy="756.5" r="2.1" fill="#c9d82c"/><circle cx="316.3" cy="875.8" r="2.1" fill="#6cbd45"/><circle cx="297.4" cy="785.1" r="2.1" fill="#c9d82c"/><circle cx="293.3" cy="764.8" r="2.1" fill="#3dae8f"/><circle cx="282" cy="924.1" r="2.1" fill="#3dae8f"/><circle cx="274.7" cy="866.3" r="2.1" fill="#3dae8f"/><circle cx="342.7" cy="886.1" r="2.1" fill="#6cbd45"/><circle cx="309.1" cy="843.4" r="2.1" fill="#3dae8f"/><circle cx="102.5" cy="800.8" r="2.1" fill="#4c4fa6"/><circle cx="297.5" cy="767.8" r="2.1" fill="#3dae8f"/><circle cx="173.8" cy="786.3" r="2.1" fill="#4c4fa6"/><circle cx="69.2" cy="814.8" r="2.1" fill="#4c4fa6"/><circle cx="456.7" cy="899.5" r="2.1" fill="#e5177e"/><circle cx="210.1" cy="797.3" r="2.1" fill="#4c4fa6"/><circle cx="149" cy="799" r="2.1" fill="#4c4fa6"/><circle cx="526.2" cy="853.8" r="2.1" fill="#e5177e"/><circle cx="279.2" cy="763.6" r="2.1" fill="#c9d82c"/><circle cx="161.1" cy="817.8" r="2.1" fill="#4c4fa6"/><circle cx="254" cy="928.7" r="2.1" fill="#3dae8f"/><circle cx="252.4" cy="838" r="2.1" fill="#4c4fa6"/><circle cx="262.7" cy="849" r="2.1" fill="#3dae8f"/><circle cx="403.7" cy="864.7" r="2.1" fill="#e5177e"/><circle cx="77.1" cy="801" r="2.1" fill="#4c4fa6"/><circle cx="173.3" cy="779.1" r="2.1" fill="#29a9e0"/><circle cx="74" cy="793.8" r="2.1" fill="#4c4fa6"/><circle cx="386.8" cy="803" r="2.1" fill="#6cbd45"/><circle cx="390.2" cy="841" r="2.1" fill="#6cbd45"/><circle cx="465.7" cy="905.7" r="2.1" fill="#e5177e"/><circle cx="405.4" cy="895.8" r="2.1" fill="#954a9b"/><circle cx="354" cy="957.7" r="2.1" fill="#954a9b"/><circle cx="263.4" cy="955.5" r="2.1" fill="#954a9b"/><circle cx="304.5" cy="972.6" r="2.1" fill="#954a9b"/><circle cx="299.9" cy="771.5" r="2.1" fill="#3dae8f"/><circle cx="186.8" cy="803.3" r="2.1" fill="#4c4fa6"/><circle cx="238.5" cy="949.3" r="2.1" fill="#3dae8f"/><circle cx="249.5" cy="875.9" r="2.1" fill="#3dae8f"/><circle cx="310" cy="923.7" r="2.1" fill="#954a9b"/><circle cx="327.7" cy="764.6" r="2.1" fill="#3dae8f"/><circle cx="164" cy="697" r="2.1" fill="#29a9e0"/><circle cx="325.8" cy="774.3" r="2.1" fill="#3dae8f"/><circle cx="272.4" cy="780.8" r="2.1" fill="#3dae8f"/><circle cx="119.8" cy="865" r="2.1" fill="#4c4fa6"/><circle cx="256.7" cy="747.4" r="2.1" fill="#c9d82c"/><circle cx="294.9" cy="771" r="2.1" fill="#3dae8f"/><circle cx="378.4" cy="801.2" r="2.1" fill="#6cbd45"/><circle cx="305.4" cy="801.4" r="2.1" fill="#29a9e0"/><circle cx="527" cy="887.3" r="2.1" fill="#e5177e"/><circle cx="192.9" cy="923.5" r="2.1" fill="#4c4fa6"/><circle cx="308.1" cy="779.9" r="2.1" fill="#3dae8f"/><circle cx="528.5" cy="856.6" r="2.1" fill="#e5177e"/><circle cx="342" cy="896.2" r="2.1" fill="#3dae8f"/><circle cx="327.9" cy="829.1" r="2.1" fill="#6cbd45"/><circle cx="401.4" cy="935.5" r="2.1" fill="#954a9b"/><circle cx="227.4" cy="868.9" r="2.1" fill="#4c4fa6"/><circle cx="259.8" cy="951.8" r="2.1" fill="#954a9b"/><circle cx="120.1" cy="868" r="2.1" fill="#4c4fa6"/><circle cx="379.6" cy="884.9" r="2.1" fill="#6cbd45"/><circle cx="350.4" cy="754.4" r="2.1" fill="#3dae8f"/><circle cx="15.7" cy="834.5" r="2.1" fill="#4c4fa6"/><circle cx="168.2" cy="717.9" r="2.1" fill="#c9d82c"/><circle cx="440.6" cy="871" r="2.1" fill="#e5177e"/><circle cx="105.1" cy="856.3" r="2.1" fill="#4c4fa6"/><circle cx="291.8" cy="795.1" r="2.1" fill="#29a9e0"/><circle cx="293.8" cy="774.8" r="2.1" fill="#c9d82c"/><circle cx="372.8" cy="810.7" r="2.1" fill="#3dae8f"/><circle cx="269.4" cy="900.7" r="2.1" fill="#3dae8f"/><circle cx="282" cy="827" r="2.1" fill="#3dae8f"/><circle cx="461" cy="827.1" r="2.1" fill="#e5177e"/><circle cx="468.5" cy="906.4" r="2.1" fill="#e5177e"/><circle cx="347.8" cy="941.5" r="2.1" fill="#6cbd45"/><circle cx="440.1" cy="895.4" r="2.1" fill="#e5177e"/><circle cx="196.6" cy="807" r="2.1" fill="#4c4fa6"/><circle cx="206" cy="933.9" r="2.1" fill="#3dae8f"/><circle cx="343.3" cy="857" r="2.1" fill="#6cbd45"/><circle cx="482.9" cy="912.8" r="2.1" fill="#e5177e"/><circle cx="321.4" cy="915.2" r="2.1" fill="#954a9b"/><circle cx="269.3" cy="769.7" r="2.1" fill="#c9d82c"/><circle cx="203.8" cy="925.3" r="2.1" fill="#4c4fa6"/><circle cx="291.9" cy="992.3" r="2.1" fill="#954a9b"/><circle cx="407.8" cy="900.9" r="2.1" fill="#954a9b"/><circle cx="255.1" cy="821.5" r="2.1" fill="#c9d82c"/><circle cx="475.1" cy="991.3" r="2.1" fill="#954a9b"/><circle cx="517" cy="854.4" r="2.1" fill="#e5177e"/><circle cx="399" cy="893.8" r="2.1" fill="#6cbd45"/><circle cx="42.8" cy="855.8" r="2.1" fill="#4c4fa6"/><circle cx="324" cy="967.6" r="2.1" fill="#954a9b"/><circle cx="448.6" cy="874.4" r="2.1" fill="#e5177e"/><circle cx="271.6" cy="762.2" r="2.1" fill="#c9d82c"/><circle cx="108.3" cy="875.5" r="2.1" fill="#4c4fa6"/><circle cx="401.4" cy="970.4" r="2.1" fill="#954a9b"/><circle cx="240.2" cy="813.5" r="2.1" fill="#4c4fa6"/><circle cx="181.8" cy="723.7" r="2.1" fill="#c9d82c"/><circle cx="468.1" cy="909.9" r="2.1" fill="#954a9b"/><circle cx="229.6" cy="930.5" r="2.1" fill="#3dae8f"/><circle cx="260.5" cy="852.1" r="2.1" fill="#954a9b"/><circle cx="281.7" cy="817" r="2.1" fill="#3dae8f"/><circle cx="373" cy="926.2" r="2.1" fill="#954a9b"/><circle cx="278.3" cy="862.9" r="2.1" fill="#3dae8f"/><circle cx="88.5" cy="824.8" r="2.1" fill="#4c4fa6"/><circle cx="99.3" cy="874.5" r="2.1" fill="#4c4fa6"/><circle cx="465.9" cy="869.7" r="2.1" fill="#e5177e"/><circle cx="143.8" cy="880.6" r="2.1" fill="#29a9e0"/><circle cx="398.9" cy="917.3" r="2.1" fill="#3dae8f"/><circle cx="278.5" cy="949.2" r="2.1" fill="#954a9b"/><circle cx="116.4" cy="730.2" r="2.1" fill="#c9d82c"/><circle cx="129" cy="762.4" r="2.1" fill="#29a9e0"/><circle cx="231.8" cy="872.2" r="2.1" fill="#29a9e0"/><circle cx="96.5" cy="869.8" r="2.1" fill="#4c4fa6"/><circle cx="422.1" cy="814.9" r="2.1" fill="#6cbd45"/><circle cx="321" cy="706" r="2.1" fill="#e2231a"/><circle cx="345.1" cy="972.9" r="2.1" fill="#954a9b"/><circle cx="144" cy="794.4" r="2.1" fill="#4c4fa6"/><circle cx="220.2" cy="829.1" r="2.1" fill="#4c4fa6"/><circle cx="140.9" cy="715.1" r="2.1" fill="#c9d82c"/><circle cx="308.9" cy="946.3" r="2.1" fill="#954a9b"/><circle cx="265.4" cy="950.1" r="2.1" fill="#954a9b"/><circle cx="249.6" cy="836.5" r="2.1" fill="#4c4fa6"/><circle cx="185" cy="765.1" r="2.1" fill="#29a9e0"/><circle cx="252.3" cy="834.6" r="2.1" fill="#4c4fa6"/><circle cx="198.7" cy="711.5" r="2.1" fill="#c9d82c"/><circle cx="211.7" cy="843.6" r="2.1" fill="#29a9e0"/><circle cx="273.5" cy="782" r="2.1" fill="#c9d82c"/><circle cx="156" cy="899.9" r="2.1" fill="#4c4fa6"/><circle cx="340.1" cy="942.3" r="2.1" fill="#954a9b"/><circle cx="140.2" cy="837.4" r="2.1" fill="#4c4fa6"/><circle cx="528.8" cy="868.3" r="2.1" fill="#e5177e"/><circle cx="314.2" cy="807.7" r="2.1" fill="#6cbd45"/><circle cx="60.7" cy="869.1" r="2.1" fill="#29a9e0"/><circle cx="210" cy="863.2" r="2.1" fill="#4c4fa6"/><circle cx="372.1" cy="911.7" r="2.1" fill="#3dae8f"/><circle cx="149.2" cy="909.8" r="2.1" fill="#4c4fa6"/><circle cx="238.9" cy="771.3" r="2.1" fill="#29a9e0"/><circle cx="280.5" cy="878.4" r="2.1" fill="#3dae8f"/><circle cx="92.7" cy="873.7" r="2.1" fill="#4c4fa6"/><circle cx="165.1" cy="795.3" r="2.1" fill="#4c4fa6"/><circle cx="25" cy="826.8" r="2.1" fill="#4c4fa6"/><circle cx="89.6" cy="726.9" r="2.1" fill="#c9d82c"/><circle cx="202.2" cy="891.8" r="2.1" fill="#4c4fa6"/><circle cx="225" cy="721.4" r="2.1" fill="#c9d82c"/><circle cx="293.3" cy="880.7" r="2.1" fill="#4c4fa6"/><circle cx="388.3" cy="858.5" r="2.1" fill="#e5177e"/><circle cx="250.5" cy="904.9" r="2.1" fill="#3dae8f"/><circle cx="59.4" cy="802.6" r="2.1" fill="#4c4fa6"/><circle cx="124.1" cy="775.7" r="2.1" fill="#29a9e0"/><circle cx="502.6" cy="880.3" r="2.1" fill="#e5177e"/><circle cx="150.7" cy="901.1" r="2.1" fill="#4c4fa6"/><circle cx="490.1" cy="962.3" r="2.1" fill="#6cbd45"/><circle cx="333.1" cy="871.6" r="2.1" fill="#29a9e0"/><circle cx="309.6" cy="802.5" r="2.1" fill="#3dae8f"/><circle cx="427.7" cy="945.7" r="2.1" fill="#954a9b"/><circle cx="180.4" cy="819.4" r="2.1" fill="#4c4fa6"/><circle cx="230.4" cy="807.3" r="2.1" fill="#c9d82c"/><circle cx="516.9" cy="829" r="2.1" fill="#e5177e"/><circle cx="22.3" cy="856.7" r="2.1" fill="#4c4fa6"/><circle cx="268.7" cy="877.4" r="2.1" fill="#3dae8f"/><circle cx="397.6" cy="909.3" r="2.1" fill="#3dae8f"/><circle cx="499.3" cy="864.9" r="2.1" fill="#e5177e"/><circle cx="243.4" cy="831.4" r="2.1" fill="#c9d82c"/><circle cx="384.4" cy="821.2" r="2.1" fill="#3dae8f"/><circle cx="329.6" cy="983.7" r="2.1" fill="#954a9b"/><circle cx="299.8" cy="768.2" r="2.1" fill="#3dae8f"/><circle cx="277" cy="861.2" r="2.1" fill="#3dae8f"/><circle cx="268.3" cy="975.5" r="2.1" fill="#954a9b"/><circle cx="313.9" cy="908.6" r="2.1" fill="#3dae8f"/><circle cx="228.5" cy="856.7" r="2.1" fill="#4c4fa6"/><circle cx="242.8" cy="808.7" r="2.1" fill="#c9d82c"/><circle cx="452.1" cy="926.8" r="2.1" fill="#6cbd45"/><circle cx="275.1" cy="942.5" r="2.1" fill="#6cbd45"/><circle cx="221.9" cy="820.8" r="2.1" fill="#4c4fa6"/><circle cx="449.5" cy="847.2" r="2.1" fill="#e5177e"/><circle cx="398.9" cy="966.6" r="2.1" fill="#954a9b"/><circle cx="102" cy="827.6" r="2.1" fill="#4c4fa6"/><circle cx="240.4" cy="838.1" r="2.1" fill="#4c4fa6"/><circle cx="252.7" cy="887.2" r="2.1" fill="#3dae8f"/><circle cx="422.8" cy="886.2" r="2.1" fill="#6cbd45"/><circle cx="160.2" cy="760.1" r="2.1" fill="#29a9e0"/><circle cx="180.2" cy="795.5" r="2.1" fill="#4c4fa6"/><circle cx="270.3" cy="941.8" r="2.1" fill="#3dae8f"/><circle cx="381.3" cy="949.8" r="2.1" fill="#954a9b"/><circle cx="362.2" cy="803.2" r="2.1" fill="#6cbd45"/><circle cx="542.7" cy="846.7" r="2.1" fill="#e5177e"/><circle cx="150.5" cy="802.9" r="2.1" fill="#4c4fa6"/><circle cx="339.1" cy="774.7" r="2.1" fill="#3dae8f"/><circle cx="373.9" cy="965.5" r="2.1" fill="#954a9b"/><circle cx="134.7" cy="817.8" r="2.1" fill="#4c4fa6"/><circle cx="195.4" cy="779.3" r="2.1" fill="#29a9e0"/><circle cx="311.6" cy="818.3" r="2.1" fill="#6cbd45"/><circle cx="535.7" cy="880.6" r="2.1" fill="#e5177e"/><circle cx="428.3" cy="827.6" r="2.1" fill="#6cbd45"/><circle cx="466.6" cy="900.6" r="2.1" fill="#e5177e"/><circle cx="225.3" cy="881.7" r="2.1" fill="#4c4fa6"/><circle cx="141" cy="941" r="2.1" fill="#3a5dab"/><circle cx="278" cy="776.6" r="2.1" fill="#3dae8f"/><circle cx="298.6" cy="942.6" r="2.1" fill="#954a9b"/><circle cx="311.6" cy="812.6" r="2.1" fill="#3dae8f"/><circle cx="124.7" cy="818" r="2.1" fill="#4c4fa6"/><circle cx="321.1" cy="810.5" r="2.1" fill="#6cbd45"/><circle cx="222.7" cy="841.4" r="2.1" fill="#4c4fa6"/><circle cx="396.5" cy="934.1" r="2.1" fill="#6cbd45"/><circle cx="102.3" cy="747.4" r="2.1" fill="#c9d82c"/><circle cx="108.6" cy="827.2" r="2.1" fill="#4c4fa6"/><circle cx="364.4" cy="797.2" r="2.1" fill="#e5177e"/><circle cx="365.2" cy="924.1" r="2.1" fill="#954a9b"/><circle cx="462.5" cy="948.4" r="2.1" fill="#954a9b"/><circle cx="197.6" cy="746.3" r="2.1" fill="#c9d82c"/><circle cx="406.8" cy="964.1" r="2.1" fill="#954a9b"/><circle cx="42.4" cy="822.8" r="2.1" fill="#4c4fa6"/><circle cx="338.4" cy="943.4" r="2.1" fill="#954a9b"/><circle cx="229.8" cy="746.6" r="2.1" fill="#c9d82c"/><circle cx="180.3" cy="859" r="2.1" fill="#4c4fa6"/><circle cx="280.9" cy="841.6" r="2.1" fill="#3dae8f"/><circle cx="96.5" cy="737.5" r="2.1" fill="#c9d82c"/><circle cx="116.2" cy="849.9" r="2.1" fill="#4c4fa6"/><circle cx="87.7" cy="917.7" r="2.1" fill="#f58a1f"/><circle cx="333.2" cy="908.9" r="2.1" fill="#6cbd45"/><circle cx="197" cy="750.7" r="2.1" fill="#c9d82c"/><circle cx="197.4" cy="881.3" r="2.1" fill="#4c4fa6"/><circle cx="326" cy="880.3" r="2.1" fill="#6cbd45"/><circle cx="106.2" cy="718.8" r="2.1" fill="#c9d82c"/><circle cx="217" cy="846.4" r="2.1" fill="#4c4fa6"/><circle cx="487.7" cy="854.8" r="2.1" fill="#e5177e"/><circle cx="308.4" cy="797.9" r="2.1" fill="#3dae8f"/><circle cx="297.9" cy="914.3" r="2.1" fill="#3dae8f"/><circle cx="269" cy="792.6" r="2.1" fill="#29a9e0"/><circle cx="452.2" cy="1008.1" r="2.1" fill="#954a9b"/><circle cx="336.4" cy="783.7" r="2.1" fill="#3dae8f"/><circle cx="173.8" cy="760.7" r="2.1" fill="#c9d82c"/><circle cx="386.2" cy="827.1" r="2.1" fill="#6cbd45"/><circle cx="223.6" cy="788.5" r="2.1" fill="#29a9e0"/><circle cx="434.9" cy="834.1" r="2.1" fill="#e5177e"/><circle cx="117.5" cy="733.6" r="2.1" fill="#c9d82c"/><circle cx="508" cy="845.7" r="2.1" fill="#e5177e"/><circle cx="435.4" cy="823" r="2.1" fill="#e5177e"/><circle cx="248.3" cy="782.7" r="2.1" fill="#29a9e0"/><circle cx="221.2" cy="924.4" r="2.1" fill="#3dae8f"/><circle cx="465.5" cy="838.7" r="2.1" fill="#e5177e"/><circle cx="69.3" cy="867.6" r="2.1" fill="#4c4fa6"/><circle cx="486.4" cy="879.4" r="2.1" fill="#e5177e"/><circle cx="369.6" cy="957.7" r="2.1" fill="#954a9b"/><circle cx="245.5" cy="866.3" r="2.1" fill="#4c4fa6"/><circle cx="254.5" cy="939.3" r="2.1" fill="#3dae8f"/><circle cx="181.7" cy="781.2" r="2.1" fill="#29a9e0"/><circle cx="382.7" cy="822.3" r="2.1" fill="#6cbd45"/><circle cx="118.6" cy="737.9" r="2.1" fill="#c9d82c"/><circle cx="308.6" cy="963" r="2.1" fill="#954a9b"/><circle cx="156.4" cy="862.4" r="2.1" fill="#29a9e0"/><circle cx="200" cy="852.3" r="2.1" fill="#4c4fa6"/><circle cx="415.7" cy="899.9" r="2.1" fill="#954a9b"/><circle cx="387.8" cy="862.8" r="2.1" fill="#e5177e"/><circle cx="182.5" cy="794.4" r="2.1" fill="#4c4fa6"/><circle cx="251.5" cy="801" r="2.1" fill="#c9d82c"/><circle cx="302.3" cy="800.4" r="2.1" fill="#c9d82c"/><circle cx="93.3" cy="747.3" r="2.1" fill="#c9d82c"/><circle cx="255.2" cy="834" r="2.1" fill="#4c4fa6"/><circle cx="546.5" cy="871.5" r="2.1" fill="#e5177e"/><circle cx="291.7" cy="960.7" r="2.1" fill="#954a9b"/><circle cx="178.6" cy="834.1" r="2.1" fill="#4c4fa6"/><circle cx="267.5" cy="789" r="2.1" fill="#3dae8f"/><circle cx="449.1" cy="827.1" r="2.1" fill="#e5177e"/><circle cx="247" cy="786.1" r="2.1" fill="#c9d82c"/><circle cx="512.1" cy="855.8" r="2.1" fill="#e5177e"/><circle cx="328.5" cy="930.8" r="2.1" fill="#954a9b"/><circle cx="295.2" cy="941.1" r="2.1" fill="#954a9b"/><circle cx="439" cy="901.1" r="2.1" fill="#954a9b"/><circle cx="176.7" cy="923.2" r="2.1" fill="#4c4fa6"/><circle cx="249.3" cy="870.4" r="2.1" fill="#3dae8f"/><circle cx="236.1" cy="886.6" r="2.1" fill="#3dae8f"/><circle cx="444.4" cy="959.2" r="2.1" fill="#6cbd45"/><circle cx="227" cy="821.3" r="2.1" fill="#4c4fa6"/><circle cx="461" cy="831.5" r="2.1" fill="#e5177e"/><circle cx="274.2" cy="834.8" r="2.1" fill="#3dae8f"/><circle cx="536.7" cy="973.2" r="2.1" fill="#6cbd45"/><circle cx="321.4" cy="929.1" r="2.1" fill="#3dae8f"/><circle cx="168.1" cy="769.1" r="2.1" fill="#29a9e0"/><circle cx="317.5" cy="925.4" r="2.1" fill="#954a9b"/><circle cx="41.2" cy="849.9" r="2.1" fill="#29a9e0"/><circle cx="186.6" cy="803.8" r="2.1" fill="#4c4fa6"/><circle cx="331.9" cy="882.1" r="2.1" fill="#6cbd45"/><circle cx="75.1" cy="773.1" r="2.1" fill="#4c4fa6"/><circle cx="338.4" cy="853.2" r="2.1" fill="#6cbd45"/><circle cx="50" cy="809.3" r="2.1" fill="#4c4fa6"/><circle cx="71" cy="917" r="2.1" fill="#f58a1f"/><circle cx="263.6" cy="880.9" r="2.1" fill="#3dae8f"/><circle cx="146.6" cy="922.8" r="2.1" fill="#4c4fa6"/><circle cx="363.5" cy="961.7" r="2.1" fill="#954a9b"/><circle cx="105.3" cy="885.1" r="2.1" fill="#4c4fa6"/><circle cx="418" cy="855.2" r="2.1" fill="#6cbd45"/><circle cx="357.3" cy="947.6" r="2.1" fill="#954a9b"/><circle cx="315.1" cy="938.4" r="2.1" fill="#4c4fa6"/><circle cx="306" cy="950.5" r="2.1" fill="#954a9b"/><circle cx="307.6" cy="999.3" r="2.1" fill="#954a9b"/><circle cx="417.4" cy="869.8" r="2.1" fill="#e5177e"/><circle cx="175.7" cy="787.2" r="2.1" fill="#29a9e0"/><circle cx="316" cy="829.7" r="2.1" fill="#6cbd45"/><circle cx="33" cy="836.7" r="2.1" fill="#4c4fa6"/><circle cx="318.1" cy="946.6" r="2.1" fill="#954a9b"/><circle cx="255.7" cy="800.4" r="2.1" fill="#c9d82c"/><circle cx="332.6" cy="952.5" r="2.1" fill="#954a9b"/><circle cx="487.9" cy="962.3" r="2.1" fill="#6cbd45"/><circle cx="478.1" cy="834" r="2.1" fill="#e5177e"/><circle cx="311.2" cy="857.7" r="2.1" fill="#954a9b"/><circle cx="345" cy="1005.8" r="2.1" fill="#954a9b"/><circle cx="146.9" cy="800.9" r="2.1" fill="#4c4fa6"/><circle cx="369.3" cy="906.7" r="2.1" fill="#3dae8f"/><circle cx="403.9" cy="826.1" r="2.1" fill="#6cbd45"/><circle cx="293.7" cy="928.1" r="2.1" fill="#3dae8f"/><circle cx="252.2" cy="898.6" r="2.1" fill="#3dae8f"/><circle cx="229.6" cy="824.6" r="2.1" fill="#4c4fa6"/><circle cx="445" cy="941.1" r="2.1" fill="#954a9b"/><circle cx="242.3" cy="878.8" r="2.1" fill="#3dae8f"/><circle cx="78.3" cy="812.1" r="2.1" fill="#4c4fa6"/><circle cx="283.1" cy="831.1" r="2.1" fill="#29a9e0"/><circle cx="216.8" cy="916" r="2.1" fill="#4c4fa6"/><circle cx="471.2" cy="825.3" r="2.1" fill="#e5177e"/><circle cx="329" cy="993.6" r="2.1" fill="#954a9b"/><circle cx="100.9" cy="857.5" r="2.1" fill="#4c4fa6"/><circle cx="206.9" cy="954.7" r="2.1" fill="#3dae8f"/><circle cx="118.6" cy="858.1" r="2.1" fill="#4c4fa6"/><circle cx="313.9" cy="738.3" r="2.1" fill="#c9d82c"/><circle cx="315.1" cy="895" r="2.1" fill="#3dae8f"/><circle cx="300.5" cy="784" r="2.1" fill="#3dae8f"/><circle cx="500.5" cy="964.9" r="2.1" fill="#6cbd45"/><circle cx="524.9" cy="860.1" r="2.1" fill="#e5177e"/><circle cx="415.2" cy="836.7" r="2.1" fill="#e5177e"/><circle cx="68.1" cy="834.3" r="2.1" fill="#4c4fa6"/><circle cx="99.4" cy="846.2" r="2.1" fill="#4c4fa6"/><circle cx="330" cy="869.7" r="2.1" fill="#6cbd45"/><circle cx="394.5" cy="883.5" r="2.1" fill="#6cbd45"/><circle cx="268" cy="883.3" r="2.1" fill="#3dae8f"/><circle cx="406.3" cy="812.9" r="2.1" fill="#6cbd45"/><circle cx="150.6" cy="915.6" r="2.1" fill="#4c4fa6"/><circle cx="387.5" cy="990.6" r="2.1" fill="#954a9b"/><circle cx="66" cy="912" r="2.1" fill="#f58a1f"/><circle cx="295.5" cy="923.9" r="2.1" fill="#3dae8f"/><circle cx="465.5" cy="882.3" r="2.1" fill="#6cbd45"/><circle cx="53.1" cy="821.2" r="2.1" fill="#4c4fa6"/><circle cx="357.3" cy="984.9" r="2.1" fill="#954a9b"/><circle cx="467.3" cy="869.1" r="2.1" fill="#6cbd45"/><circle cx="171.6" cy="892" r="2.1" fill="#4c4fa6"/><circle cx="279.1" cy="785.4" r="2.1" fill="#3dae8f"/><circle cx="301.8" cy="826" r="2.1" fill="#3dae8f"/><circle cx="458.7" cy="945.6" r="2.1" fill="#954a9b"/><circle cx="426.2" cy="824.5" r="2.1" fill="#6cbd45"/><circle cx="175.6" cy="807.7" r="2.1" fill="#4c4fa6"/><circle cx="81.5" cy="787.7" r="2.1" fill="#4c4fa6"/><circle cx="323.1" cy="927.3" r="2.1" fill="#3dae8f"/><circle cx="151" cy="744.2" r="2.1" fill="#c9d82c"/><circle cx="304.4" cy="936.3" r="2.1" fill="#4c4fa6"/><circle cx="183.7" cy="814" r="2.1" fill="#4c4fa6"/><circle cx="276" cy="894.8" r="2.1" fill="#3dae8f"/><circle cx="237" cy="857.1" r="2.1" fill="#4c4fa6"/><circle cx="79.8" cy="818.8" r="2.1" fill="#4c4fa6"/><circle cx="188.5" cy="723.1" r="2.1" fill="#c9d82c"/><circle cx="281.8" cy="984.7" r="2.1" fill="#954a9b"/><circle cx="505.4" cy="883.6" r="2.1" fill="#e5177e"/><circle cx="448.8" cy="945.1" r="2.1" fill="#954a9b"/><circle cx="267.5" cy="820.2" r="2.1" fill="#4c4fa6"/><circle cx="309" cy="820.4" r="2.1" fill="#6cbd45"/><circle cx="213.2" cy="930.8" r="2.1" fill="#3dae8f"/><circle cx="399.7" cy="929.6" r="2.1" fill="#954a9b"/><circle cx="305.9" cy="820.2" r="2.1" fill="#3dae8f"/><circle cx="69.2" cy="878.2" r="2.1" fill="#4c4fa6"/><circle cx="386.6" cy="874.1" r="2.1" fill="#6cbd45"/><circle cx="180" cy="764.3" r="2.1" fill="#29a9e0"/><circle cx="203.6" cy="859.4" r="2.1" fill="#4c4fa6"/><circle cx="471.5" cy="909.8" r="2.1" fill="#e5177e"/><circle cx="205.1" cy="852.9" r="2.1" fill="#4c4fa6"/><circle cx="288.5" cy="823.7" r="2.1" fill="#c9d82c"/><circle cx="323.5" cy="968.1" r="2.1" fill="#954a9b"/><circle cx="496.1" cy="899.6" r="2.1" fill="#e5177e"/><circle cx="513.9" cy="873.8" r="2.1" fill="#e5177e"/><circle cx="175.6" cy="762.2" r="2.1" fill="#29a9e0"/><circle cx="122.3" cy="738.5" r="2.1" fill="#c9d82c"/><circle cx="232.4" cy="894" r="2.1" fill="#3dae8f"/><circle cx="514.6" cy="843.6" r="2.1" fill="#e5177e"/><circle cx="439.9" cy="954.8" r="2.1" fill="#954a9b"/><circle cx="353.6" cy="769.1" r="2.1" fill="#3dae8f"/><circle cx="183.3" cy="823.9" r="2.1" fill="#4c4fa6"/><circle cx="275.7" cy="940.4" r="2.1" fill="#3dae8f"/><circle cx="290.5" cy="900.1" r="2.1" fill="#3dae8f"/><circle cx="379.7" cy="952.1" r="2.1" fill="#954a9b"/><circle cx="308.4" cy="809.9" r="2.1" fill="#e2231a"/><circle cx="196.6" cy="878.6" r="2.1" fill="#4c4fa6"/><circle cx="276.7" cy="993.7" r="2.1" fill="#954a9b"/><circle cx="260.1" cy="967.2" r="2.1" fill="#954a9b"/><circle cx="226.7" cy="743.6" r="2.1" fill="#c9d82c"/><circle cx="138.1" cy="797.9" r="2.1" fill="#4c4fa6"/><circle cx="100.9" cy="810.4" r="2.1" fill="#29a9e0"/><circle cx="444.6" cy="853.2" r="2.1" fill="#e5177e"/><circle cx="194.1" cy="766.7" r="2.1" fill="#c9d82c"/><circle cx="382" cy="833.9" r="2.1" fill="#6cbd45"/><circle cx="311" cy="922.1" r="2.1" fill="#954a9b"/><circle cx="271.7" cy="743.6" r="2.1" fill="#c9d82c"/><circle cx="276.6" cy="765.1" r="2.1" fill="#c9d82c"/><circle cx="461" cy="880.4" r="2.1" fill="#954a9b"/><circle cx="106.8" cy="874.1" r="2.1" fill="#4c4fa6"/><circle cx="330" cy="801.3" r="2.1" fill="#6cbd45"/><circle cx="184.2" cy="922.7" r="2.1" fill="#4c4fa6"/><circle cx="105" cy="872.4" r="2.1" fill="#4c4fa6"/><circle cx="433.9" cy="947.5" r="2.1" fill="#954a9b"/><circle cx="256.3" cy="952.9" r="2.1" fill="#3dae8f"/><circle cx="393.5" cy="851.8" r="2.1" fill="#e5177e"/><circle cx="73.9" cy="802.8" r="2.1" fill="#4c4fa6"/><circle cx="82" cy="726.4" r="2.1" fill="#c9d82c"/><circle cx="532.9" cy="887.6" r="2.1" fill="#e5177e"/><circle cx="217.7" cy="845.6" r="2.1" fill="#4c4fa6"/><circle cx="390.5" cy="1008.2" r="2.1" fill="#954a9b"/><circle cx="314.3" cy="978.4" r="2.1" fill="#954a9b"/><circle cx="438.9" cy="945.7" r="2.1" fill="#954a9b"/><circle cx="382.9" cy="1003.3" r="2.1" fill="#954a9b"/><circle cx="240.2" cy="875" r="2.1" fill="#4c4fa6"/><circle cx="311.3" cy="912.6" r="2.1" fill="#6cbd45"/><circle cx="445.2" cy="945.5" r="2.1" fill="#954a9b"/><circle cx="521.2" cy="847.2" r="2.1" fill="#e5177e"/><circle cx="248.8" cy="831.6" r="2.1" fill="#4c4fa6"/><circle cx="220.9" cy="861.4" r="2.1" fill="#4c4fa6"/><circle cx="260.5" cy="752.8" r="2.1" fill="#c9d82c"/><circle cx="343" cy="862.6" r="2.1" fill="#6cbd45"/><circle cx="262.5" cy="725" r="2.1" fill="#c9d82c"/><circle cx="307.7" cy="832.9" r="2.1" fill="#6cbd45"/><circle cx="203.3" cy="907.1" r="2.1" fill="#4c4fa6"/><circle cx="346.3" cy="869.1" r="2.1" fill="#6cbd45"/><circle cx="352.7" cy="889.4" r="2.1" fill="#6cbd45"/><circle cx="416.5" cy="874.5" r="2.1" fill="#e5177e"/><circle cx="383.1" cy="856.7" r="2.1" fill="#3dae8f"/><circle cx="257" cy="792.3" r="2.1" fill="#3dae8f"/><circle cx="80.6" cy="843.2" r="2.1" fill="#4c4fa6"/><circle cx="482.9" cy="960.2" r="2.1" fill="#6cbd45"/><circle cx="313.1" cy="844.7" r="2.1" fill="#4c4fa6"/><circle cx="395.7" cy="995.9" r="2.1" fill="#954a9b"/><circle cx="228.3" cy="771.6" r="2.1" fill="#c9d82c"/><circle cx="217.6" cy="877" r="2.1" fill="#4c4fa6"/><circle cx="500.6" cy="823.7" r="2.1" fill="#e5177e"/><circle cx="378.4" cy="974.1" r="2.1" fill="#954a9b"/><circle cx="128.3" cy="780.4" r="2.1" fill="#29a9e0"/><circle cx="356.4" cy="800.4" r="2.1" fill="#6cbd45"/><circle cx="132.9" cy="801.8" r="2.1" fill="#4c4fa6"/><circle cx="352.8" cy="829.1" r="2.1" fill="#6cbd45"/><circle cx="437" cy="841.7" r="2.1" fill="#e5177e"/><circle cx="378.9" cy="985.1" r="2.1" fill="#954a9b"/><circle cx="316.2" cy="911.8" r="2.1" fill="#3dae8f"/><circle cx="359.5" cy="957.9" r="2.1" fill="#954a9b"/><circle cx="362.7" cy="971.9" r="2.1" fill="#6cbd45"/><circle cx="394.8" cy="931.3" r="2.1" fill="#3dae8f"/><circle cx="220.8" cy="849" r="2.1" fill="#4c4fa6"/><circle cx="323.4" cy="944.4" r="2.1" fill="#954a9b"/><circle cx="71.7" cy="805.3" r="2.1" fill="#4c4fa6"/><circle cx="320.6" cy="806.4" r="2.1" fill="#3dae8f"/><circle cx="190" cy="797.8" r="2.1" fill="#4c4fa6"/><circle cx="298.8" cy="869.8" r="2.1" fill="#3dae8f"/><circle cx="163.6" cy="923.8" r="2.1" fill="#4c4fa6"/><circle cx="74.2" cy="856.2" r="2.1" fill="#29a9e0"/><circle cx="223.3" cy="920.2" r="2.1" fill="#3dae8f"/><circle cx="329.7" cy="791.2" r="2.1" fill="#29a9e0"/><circle cx="224.1" cy="837.7" r="2.1" fill="#4c4fa6"/><circle cx="270.2" cy="782.4" r="2.1" fill="#3dae8f"/><circle cx="389.2" cy="991.7" r="2.1" fill="#954a9b"/><circle cx="322.4" cy="805.4" r="2.1" fill="#6cbd45"/><circle cx="162.8" cy="715.1" r="2.1" fill="#c9d82c"/><circle cx="65.7" cy="813.4" r="2.1" fill="#4c4fa6"/><circle cx="83.7" cy="814.4" r="2.1" fill="#4c4fa6"/><circle cx="346.6" cy="889.8" r="2.1" fill="#6cbd45"/><circle cx="514.3" cy="875.5" r="2.1" fill="#e5177e"/><circle cx="269.2" cy="802.3" r="2.1" fill="#3dae8f"/><circle cx="435.6" cy="853" r="2.1" fill="#e5177e"/><circle cx="521.9" cy="971.2" r="2.1" fill="#6cbd45"/><circle cx="347.8" cy="932.9" r="2.1" fill="#954a9b"/><circle cx="458.4" cy="875.7" r="2.1" fill="#e5177e"/><circle cx="117.1" cy="730" r="2.1" fill="#c9d82c"/><circle cx="215.3" cy="956" r="2.1" fill="#3dae8f"/><circle cx="73.3" cy="833.2" r="2.1" fill="#f58a1f"/><circle cx="292.9" cy="960.7" r="2.1" fill="#954a9b"/><circle cx="23.4" cy="863.3" r="2.1" fill="#4c4fa6"/><circle cx="116.1" cy="812.7" r="2.1" fill="#4c4fa6"/><circle cx="245.4" cy="944.1" r="2.1" fill="#3dae8f"/><circle cx="496.6" cy="910" r="2.1" fill="#e5177e"/><circle cx="422.9" cy="891.1" r="2.1" fill="#954a9b"/><circle cx="378.7" cy="891.3" r="2.1" fill="#6cbd45"/><circle cx="455.1" cy="905.2" r="2.1" fill="#e5177e"/><circle cx="494.3" cy="898.6" r="2.1" fill="#e5177e"/><circle cx="191.6" cy="829.9" r="2.1" fill="#4c4fa6"/><circle cx="355" cy="919.5" r="2.1" fill="#6cbd45"/><circle cx="248.9" cy="778.8" r="2.1" fill="#29a9e0"/><circle cx="280.9" cy="821.5" r="2.1" fill="#3dae8f"/><circle cx="427.5" cy="869.3" r="2.1" fill="#e5177e"/><circle cx="272.5" cy="947.3" r="2.1" fill="#3dae8f"/><circle cx="435.7" cy="826" r="2.1" fill="#e5177e"/><circle cx="233.8" cy="736.8" r="2.1" fill="#c9d82c"/><circle cx="297.8" cy="897.2" r="2.1" fill="#3dae8f"/><circle cx="357.6" cy="1007.6" r="2.1" fill="#954a9b"/><circle cx="172.5" cy="764.2" r="2.1" fill="#29a9e0"/><circle cx="238" cy="911.7" r="2.1" fill="#3dae8f"/><circle cx="389.2" cy="990" r="2.1" fill="#954a9b"/><circle cx="133.7" cy="866" r="2.1" fill="#4c4fa6"/><circle cx="300" cy="765.3" r="2.1" fill="#3dae8f"/><circle cx="327.6" cy="770" r="2.1" fill="#c9d82c"/><circle cx="319.5" cy="775.4" r="2.1" fill="#3dae8f"/><circle cx="247.9" cy="844.6" r="2.1" fill="#4c4fa6"/><circle cx="141.5" cy="880.9" r="2.1" fill="#4c4fa6"/><circle cx="505.5" cy="962.6" r="2.1" fill="#6cbd45"/><circle cx="232.1" cy="776.3" r="2.1" fill="#29a9e0"/><circle cx="231.3" cy="904.5" r="2.1" fill="#4c4fa6"/><circle cx="226.4" cy="751.7" r="2.1" fill="#c9d82c"/><circle cx="267.8" cy="816.4" r="2.1" fill="#c9d82c"/><circle cx="221.8" cy="885.7" r="2.1" fill="#29a9e0"/><circle cx="250.1" cy="883.7" r="2.1" fill="#4c4fa6"/><circle cx="304" cy="895.2" r="2.1" fill="#3dae8f"/><circle cx="343.9" cy="895.4" r="2.1" fill="#6cbd45"/><circle cx="70.1" cy="788.1" r="2.1" fill="#4c4fa6"/><circle cx="294.6" cy="864.1" r="2.1" fill="#3dae8f"/><circle cx="126.4" cy="828.3" r="2.1" fill="#4c4fa6"/><circle cx="335" cy="808.5" r="2.1" fill="#6cbd45"/><circle cx="207.6" cy="732" r="2.1" fill="#c9d82c"/><circle cx="392.1" cy="947" r="2.1" fill="#3dae8f"/><circle cx="319.8" cy="820.7" r="2.1" fill="#3dae8f"/><circle cx="307.1" cy="855.9" r="2.1" fill="#6cbd45"/><circle cx="289.5" cy="993.3" r="2.1" fill="#954a9b"/><circle cx="175.5" cy="930.7" r="2.1" fill="#4c4fa6"/><circle cx="82" cy="880.8" r="2.1" fill="#4c4fa6"/><circle cx="189.4" cy="740.5" r="2.1" fill="#c9d82c"/><circle cx="149.5" cy="917.8" r="2.1" fill="#4c4fa6"/><circle cx="47.1" cy="844.7" r="2.1" fill="#4c4fa6"/><circle cx="477.1" cy="828.3" r="2.1" fill="#e5177e"/><circle cx="442.4" cy="871.3" r="2.1" fill="#6cbd45"/><circle cx="332.3" cy="828.3" r="2.1" fill="#6cbd45"/><circle cx="224.4" cy="764.4" r="2.1" fill="#c9d82c"/><circle cx="373.5" cy="990.6" r="2.1" fill="#954a9b"/><circle cx="346.2" cy="826.8" r="2.1" fill="#6cbd45"/><circle cx="365.4" cy="939.7" r="2.1" fill="#954a9b"/><circle cx="361.6" cy="834.9" r="2.1" fill="#3dae8f"/><circle cx="310.7" cy="896.2" r="2.1" fill="#3dae8f"/><circle cx="312.7" cy="1003.1" r="2.1" fill="#954a9b"/><circle cx="198" cy="809.3" r="2.1" fill="#4c4fa6"/><circle cx="270.4" cy="894.2" r="2.1" fill="#3dae8f"/><circle cx="358.8" cy="756.1" r="2.1" fill="#3dae8f"/><circle cx="242" cy="832.7" r="2.1" fill="#4c4fa6"/><circle cx="456.3" cy="854.9" r="2.1" fill="#6cbd45"/><circle cx="347.2" cy="935" r="2.1" fill="#6cbd45"/><circle cx="244" cy="849.1" r="2.1" fill="#4c4fa6"/><circle cx="20.9" cy="844.1" r="2.1" fill="#4c4fa6"/><circle cx="291" cy="866.4" r="2.1" fill="#29a9e0"/><circle cx="313.8" cy="802.8" r="2.1" fill="#c9d82c"/><circle cx="41.5" cy="841" r="2.1" fill="#4c4fa6"/><circle cx="245.1" cy="784.8" r="2.1" fill="#c9d82c"/><circle cx="289.2" cy="826.2" r="2.1" fill="#3dae8f"/><circle cx="396" cy="981.7" r="2.1" fill="#954a9b"/><circle cx="254.1" cy="906.3" r="2.1" fill="#4c4fa6"/><circle cx="331.3" cy="775.5" r="2.1" fill="#3dae8f"/><circle cx="115.1" cy="747.5" r="2.1" fill="#c9d82c"/><circle cx="392.2" cy="989.2" r="2.1" fill="#954a9b"/><circle cx="339.7" cy="848.1" r="2.1" fill="#6cbd45"/><circle cx="389.2" cy="897.1" r="2.1" fill="#e5177e"/><circle cx="241.5" cy="777.1" r="2.1" fill="#29a9e0"/><circle cx="299.5" cy="812.2" r="2.1" fill="#3dae8f"/><circle cx="61.2" cy="814.6" r="2.1" fill="#4c4fa6"/><circle cx="148" cy="823.7" r="2.1" fill="#4c4fa6"/><circle cx="198.4" cy="732.5" r="2.1" fill="#c9d82c"/><circle cx="315.1" cy="917.8" r="2.1" fill="#954a9b"/><circle cx="316.1" cy="1002" r="2.1" fill="#954a9b"/><circle cx="103" cy="779.8" r="2.1" fill="#4c4fa6"/><circle cx="249.4" cy="823.8" r="2.1" fill="#4c4fa6"/><circle cx="257.2" cy="881.8" r="2.1" fill="#4c4fa6"/><circle cx="362.4" cy="947" r="2.1" fill="#954a9b"/><circle cx="26.2" cy="850" r="2.1" fill="#4c4fa6"/><circle cx="526.4" cy="868.1" r="2.1" fill="#e5177e"/><circle cx="90.9" cy="874.1" r="2.1" fill="#4c4fa6"/><circle cx="426.9" cy="845.1" r="2.1" fill="#e5177e"/><circle cx="316.6" cy="780.8" r="2.1" fill="#c9d82c"/><circle cx="263.7" cy="780" r="2.1" fill="#c9d82c"/><circle cx="128.2" cy="862.5" r="2.1" fill="#4c4fa6"/><circle cx="293.7" cy="950.7" r="2.1" fill="#954a9b"/><circle cx="399.8" cy="990.2" r="2.1" fill="#954a9b"/><circle cx="333" cy="795.4" r="2.1" fill="#6cbd45"/><circle cx="83.8" cy="852.6" r="2.1" fill="#4c4fa6"/><circle cx="243.5" cy="942.2" r="2.1" fill="#3dae8f"/><circle cx="278.6" cy="931.4" r="2.1" fill="#3dae8f"/><circle cx="240.4" cy="926.8" r="2.1" fill="#4c4fa6"/><circle cx="199.1" cy="835.4" r="2.1" fill="#4c4fa6"/><circle cx="364.8" cy="990.2" r="2.1" fill="#954a9b"/><circle cx="298.5" cy="990.1" r="2.1" fill="#954a9b"/><circle cx="270.9" cy="770.6" r="2.1" fill="#c9d82c"/><circle cx="409.3" cy="999.1" r="2.1" fill="#954a9b"/><circle cx="270.9" cy="729.7" r="2.1" fill="#c9d82c"/><circle cx="469" cy="827.3" r="2.1" fill="#e5177e"/><circle cx="72" cy="747.3" r="2.1" fill="#c9d82c"/><circle cx="258.8" cy="930.3" r="2.1" fill="#3dae8f"/><circle cx="399.6" cy="886.7" r="2.1" fill="#6cbd45"/><circle cx="296.4" cy="850.6" r="2.1" fill="#3dae8f"/><circle cx="270.8" cy="935" r="2.1" fill="#3dae8f"/><circle cx="295.4" cy="827.8" r="2.1" fill="#4c4fa6"/><circle cx="425.1" cy="852.3" r="2.1" fill="#e5177e"/><circle cx="165.1" cy="768.3" r="2.1" fill="#29a9e0"/><circle cx="60.7" cy="810.5" r="2.1" fill="#4c4fa6"/><circle cx="236.2" cy="873.2" r="2.1" fill="#4c4fa6"/><circle cx="157.4" cy="872.5" r="2.1" fill="#4c4fa6"/><circle cx="339.8" cy="874.9" r="2.1" fill="#6cbd45"/><circle cx="158" cy="690" r="2.1" fill="#29a9e0"/><circle cx="214.7" cy="745.7" r="2.1" fill="#c9d82c"/><circle cx="266.7" cy="815.5" r="2.1" fill="#3dae8f"/><circle cx="222.1" cy="824.1" r="2.1" fill="#4c4fa6"/><circle cx="137" cy="730.6" r="2.1" fill="#c9d82c"/><circle cx="147.2" cy="861.5" r="2.1" fill="#4c4fa6"/><circle cx="264.9" cy="766" r="2.1" fill="#c9d82c"/><circle cx="234.9" cy="852" r="2.1" fill="#4c4fa6"/><circle cx="395.9" cy="999.2" r="2.1" fill="#954a9b"/><circle cx="277" cy="928.8" r="2.1" fill="#4c4fa6"/><circle cx="361.7" cy="969.6" r="2.1" fill="#954a9b"/><circle cx="171.2" cy="801.4" r="2.1" fill="#4c4fa6"/><circle cx="274.5" cy="883.5" r="2.1" fill="#3dae8f"/><circle cx="428.1" cy="907.5" r="2.1" fill="#e5177e"/><circle cx="25.8" cy="842.4" r="2.1" fill="#4c4fa6"/><circle cx="123.7" cy="890.7" r="2.1" fill="#4c4fa6"/><circle cx="233.1" cy="857.3" r="2.1" fill="#4c4fa6"/><circle cx="60.5" cy="863.8" r="2.1" fill="#29a9e0"/><circle cx="168.2" cy="748.9" r="2.1" fill="#c9d82c"/><circle cx="173.2" cy="749.8" r="2.1" fill="#c9d82c"/><circle cx="496.3" cy="959.6" r="2.1" fill="#6cbd45"/><circle cx="104" cy="925" r="2.1" fill="#3a5dab"/><circle cx="293.8" cy="770.5" r="2.1" fill="#3dae8f"/><circle cx="219.1" cy="821.5" r="2.1" fill="#4c4fa6"/><circle cx="194.8" cy="908.3" r="2.1" fill="#4c4fa6"/><circle cx="381.7" cy="982.2" r="2.1" fill="#6cbd45"/><circle cx="406.1" cy="859.7" r="2.1" fill="#e5177e"/><circle cx="334.7" cy="982.7" r="2.1" fill="#954a9b"/><circle cx="263.2" cy="847.6" r="2.1" fill="#3dae8f"/><circle cx="516.5" cy="884.7" r="2.1" fill="#e5177e"/><circle cx="230.9" cy="771.3" r="2.1" fill="#29a9e0"/><circle cx="62.3" cy="827" r="2.1" fill="#29a9e0"/><circle cx="36.8" cy="868.6" r="2.1" fill="#4c4fa6"/><circle cx="419" cy="990" r="2.1" fill="#6cbd45"/><circle cx="394.7" cy="885.5" r="2.1" fill="#6cbd45"/><circle cx="460.8" cy="977" r="2.1" fill="#954a9b"/><circle cx="263.8" cy="988" r="2.1" fill="#954a9b"/><circle cx="76" cy="821.6" r="2.1" fill="#4c4fa6"/><circle cx="321.9" cy="822.8" r="2.1" fill="#3dae8f"/><circle cx="132.4" cy="739.5" r="2.1" fill="#c9d82c"/><circle cx="371.6" cy="816.1" r="2.1" fill="#e2231a"/><circle cx="261.9" cy="788.7" r="2.1" fill="#c9d82c"/><circle cx="229.4" cy="911.4" r="2.1" fill="#3dae8f"/><circle cx="505.8" cy="966" r="2.1" fill="#6cbd45"/><circle cx="265.7" cy="975.6" r="2.1" fill="#954a9b"/><circle cx="118.7" cy="833.4" r="2.1" fill="#4c4fa6"/><circle cx="394.4" cy="959.2" r="2.1" fill="#954a9b"/><circle cx="281.6" cy="763.1" r="2.1" fill="#c9d82c"/><circle cx="330" cy="779.3" r="2.1" fill="#3dae8f"/><circle cx="441.4" cy="834.1" r="2.1" fill="#e5177e"/><circle cx="256.8" cy="963.5" r="2.1" fill="#954a9b"/><circle cx="228" cy="806.1" r="2.1" fill="#4c4fa6"/><circle cx="305" cy="817.4" r="2.1" fill="#6cbd45"/><circle cx="392.8" cy="847.2" r="2.1" fill="#e5177e"/><circle cx="312.3" cy="851" r="2.1" fill="#3dae8f"/><circle cx="385.8" cy="851.8" r="2.1" fill="#6cbd45"/><circle cx="88.9" cy="884.7" r="2.1" fill="#29a9e0"/><circle cx="292.3" cy="741.7" r="2.1" fill="#c9d82c"/><circle cx="15.1" cy="856.6" r="2.1" fill="#4c4fa6"/><circle cx="445.1" cy="865.1" r="2.1" fill="#e5177e"/><circle cx="192.2" cy="879.1" r="2.1" fill="#4c4fa6"/><circle cx="106.2" cy="828.6" r="2.1" fill="#4c4fa6"/><circle cx="452" cy="846.6" r="2.1" fill="#6cbd45"/><circle cx="80" cy="869.5" r="2.1" fill="#4c4fa6"/><circle cx="287.6" cy="988.2" r="2.1" fill="#6cbd45"/><circle cx="196.1" cy="897.4" r="2.1" fill="#4c4fa6"/><circle cx="415.7" cy="865.4" r="2.1" fill="#e5177e"/><circle cx="473.9" cy="969.2" r="2.1" fill="#954a9b"/><circle cx="277.7" cy="996.6" r="2.1" fill="#954a9b"/><circle cx="465.9" cy="831.6" r="2.1" fill="#e5177e"/><circle cx="279.9" cy="832" r="2.1" fill="#3dae8f"/><circle cx="391" cy="945.2" r="2.1" fill="#3dae8f"/><circle cx="476.1" cy="872.6" r="2.1" fill="#6cbd45"/><circle cx="258.1" cy="811.5" r="2.1" fill="#3dae8f"/><circle cx="506.8" cy="872.7" r="2.1" fill="#e5177e"/><circle cx="147.1" cy="775.1" r="2.1" fill="#29a9e0"/><circle cx="533.3" cy="855.2" r="2.1" fill="#e5177e"/><circle cx="234.2" cy="822.5" r="2.1" fill="#29a9e0"/><circle cx="326.7" cy="963.2" r="2.1" fill="#954a9b"/><circle cx="104.2" cy="732.6" r="2.1" fill="#c9d82c"/><circle cx="313.1" cy="914.7" r="2.1" fill="#4c4fa6"/><circle cx="290.5" cy="825.7" r="2.1" fill="#3dae8f"/><circle cx="163.4" cy="792.3" r="2.1" fill="#4c4fa6"/><circle cx="121.1" cy="767.5" r="2.1" fill="#29a9e0"/><circle cx="221" cy="879.8" r="2.1" fill="#4c4fa6"/><circle cx="409.1" cy="840.3" r="2.1" fill="#6cbd45"/><circle cx="309" cy="832.4" r="2.1" fill="#6cbd45"/><circle cx="205.3" cy="743.3" r="2.1" fill="#c9d82c"/><circle cx="69" cy="855.2" r="2.1" fill="#29a9e0"/><circle cx="252" cy="772.6" r="2.1" fill="#29a9e0"/><circle cx="159.1" cy="814.7" r="2.1" fill="#4c4fa6"/><circle cx="241.6" cy="888.3" r="2.1" fill="#4c4fa6"/><circle cx="454" cy="996.2" r="2.1" fill="#954a9b"/><circle cx="217.1" cy="948.4" r="2.1" fill="#3dae8f"/><circle cx="412.4" cy="844.7" r="2.1" fill="#6cbd45"/><circle cx="509.7" cy="966.3" r="2.1" fill="#6cbd45"/><circle cx="378.9" cy="997.6" r="2.1" fill="#954a9b"/><circle cx="187.5" cy="860.5" r="2.1" fill="#4c4fa6"/><circle cx="156.9" cy="929.3" r="2.1" fill="#4c4fa6"/><circle cx="217" cy="910" r="2.1" fill="#3dae8f"/><circle cx="241.1" cy="916.1" r="2.1" fill="#4c4fa6"/><circle cx="176.8" cy="864.9" r="2.1" fill="#4c4fa6"/><circle cx="157.1" cy="902.7" r="2.1" fill="#4c4fa6"/><circle cx="246.5" cy="936.5" r="2.1" fill="#3dae8f"/><circle cx="305" cy="804.1" r="2.1" fill="#3dae8f"/><circle cx="240.9" cy="885.1" r="2.1" fill="#3dae8f"/><circle cx="277" cy="799.4" r="2.1" fill="#29a9e0"/><circle cx="533.2" cy="886.7" r="2.1" fill="#e5177e"/><circle cx="309.5" cy="793.4" r="2.1" fill="#3dae8f"/><circle cx="172.7" cy="862.5" r="2.1" fill="#4c4fa6"/><circle cx="388.1" cy="851.1" r="2.1" fill="#3dae8f"/><circle cx="259.1" cy="790.8" r="2.1" fill="#3dae8f"/><circle cx="408.6" cy="875" r="2.1" fill="#6cbd45"/><circle cx="302.3" cy="899.6" r="2.1" fill="#3dae8f"/><circle cx="394.1" cy="974" r="2.1" fill="#954a9b"/><circle cx="208.3" cy="862.1" r="2.1" fill="#4c4fa6"/><circle cx="219.9" cy="890.2" r="2.1" fill="#4c4fa6"/><circle cx="324.1" cy="954.9" r="2.1" fill="#954a9b"/><circle cx="264.4" cy="776.4" r="2.1" fill="#29a9e0"/><circle cx="83.8" cy="725.6" r="2.1" fill="#c9d82c"/><circle cx="111.6" cy="843.7" r="2.1" fill="#4c4fa6"/><circle cx="154.9" cy="863.7" r="2.1" fill="#4c4fa6"/><circle cx="208.8" cy="826.2" r="2.1" fill="#4c4fa6"/><circle cx="304.4" cy="831.8" r="2.1" fill="#6cbd45"/><circle cx="297.8" cy="1006.7" r="2.1" fill="#954a9b"/><circle cx="278.2" cy="897.7" r="2.1" fill="#3dae8f"/><circle cx="360.3" cy="1007.7" r="2.1" fill="#954a9b"/><circle cx="491.7" cy="823.5" r="2.1" fill="#e5177e"/><circle cx="339" cy="947.5" r="2.1" fill="#954a9b"/><circle cx="480.2" cy="869.8" r="2.1" fill="#e5177e"/><circle cx="238.8" cy="721.8" r="2.1" fill="#c9d82c"/><circle cx="100.6" cy="720.9" r="2.1" fill="#c9d82c"/><circle cx="264.4" cy="882.8" r="2.1" fill="#4c4fa6"/><circle cx="172.2" cy="881.7" r="2.1" fill="#4c4fa6"/><circle cx="130.1" cy="890.6" r="2.1" fill="#4c4fa6"/><circle cx="136.5" cy="853.7" r="2.1" fill="#4c4fa6"/><circle cx="290.1" cy="863.1" r="2.1" fill="#3dae8f"/><circle cx="32" cy="836" r="2.1" fill="#4c4fa6"/><circle cx="134" cy="940" r="2.1" fill="#3a5dab"/><circle cx="527.1" cy="973.6" r="2.1" fill="#6cbd45"/><circle cx="58" cy="913" r="2.1" fill="#f58a1f"/><circle cx="418.2" cy="840.7" r="2.1" fill="#e5177e"/><circle cx="458.9" cy="995.7" r="2.1" fill="#954a9b"/><circle cx="183" cy="827.8" r="2.1" fill="#4c4fa6"/><circle cx="398.9" cy="1005.6" r="2.1" fill="#954a9b"/><circle cx="283.8" cy="830.8" r="2.1" fill="#c9d82c"/><circle cx="182.1" cy="721.4" r="2.1" fill="#c9d82c"/><circle cx="331.8" cy="812.1" r="2.1" fill="#6cbd45"/><circle cx="308" cy="986.8" r="2.1" fill="#954a9b"/><circle cx="479.4" cy="827.4" r="2.1" fill="#e5177e"/><circle cx="530" cy="875.7" r="2.1" fill="#e5177e"/><circle cx="426" cy="821.3" r="2.1" fill="#6cbd45"/><circle cx="352.7" cy="945.1" r="2.1" fill="#954a9b"/><circle cx="388.7" cy="955.5" r="2.1" fill="#954a9b"/><circle cx="199" cy="799.7" r="2.1" fill="#4c4fa6"/><circle cx="372.1" cy="824.3" r="2.1" fill="#6cbd45"/><circle cx="277.8" cy="746.1" r="2.1" fill="#c9d82c"/><circle cx="471.6" cy="836.9" r="2.1" fill="#e5177e"/><circle cx="377.7" cy="951.8" r="2.1" fill="#3dae8f"/><circle cx="99" cy="841" r="2.1" fill="#4c4fa6"/><circle cx="326.9" cy="949.6" r="2.1" fill="#954a9b"/><circle cx="163.3" cy="812.8" r="2.1" fill="#4c4fa6"/><circle cx="321.3" cy="951.3" r="2.1" fill="#954a9b"/><circle cx="333" cy="802.4" r="2.1" fill="#3dae8f"/><circle cx="354.1" cy="861.4" r="2.1" fill="#6cbd45"/><circle cx="309.9" cy="854.9" r="2.1" fill="#6cbd45"/><circle cx="177.6" cy="727.8" r="2.1" fill="#c9d82c"/><circle cx="199.6" cy="877.5" r="2.1" fill="#4c4fa6"/><circle cx="356.8" cy="762.7" r="2.1" fill="#3dae8f"/><circle cx="150.6" cy="835.1" r="2.1" fill="#4c4fa6"/><circle cx="510.5" cy="841.1" r="2.1" fill="#e5177e"/><circle cx="261" cy="879.6" r="2.1" fill="#3dae8f"/><circle cx="290.3" cy="947.3" r="2.1" fill="#954a9b"/><circle cx="61" cy="811.4" r="2.1" fill="#4c4fa6"/><circle cx="390.1" cy="867.4" r="2.1" fill="#e5177e"/><circle cx="236.6" cy="787.1" r="2.1" fill="#29a9e0"/><circle cx="419.6" cy="835.4" r="2.1" fill="#e5177e"/><circle cx="452.3" cy="871.3" r="2.1" fill="#e5177e"/><circle cx="335.3" cy="787.3" r="2.1" fill="#3dae8f"/><circle cx="220.3" cy="815.7" r="2.1" fill="#4c4fa6"/><circle cx="232" cy="803.2" r="2.1" fill="#29a9e0"/><circle cx="335.6" cy="788.9" r="2.1" fill="#3dae8f"/><circle cx="135.3" cy="818.8" r="2.1" fill="#4c4fa6"/><circle cx="425.2" cy="887.3" r="2.1" fill="#6cbd45"/><circle cx="264.1" cy="931.1" r="2.1" fill="#3dae8f"/><circle cx="224.7" cy="753.7" r="2.1" fill="#c9d82c"/><circle cx="216.5" cy="829" r="2.1" fill="#29a9e0"/><circle cx="108.7" cy="731.7" r="2.1" fill="#c9d82c"/><circle cx="342" cy="946.3" r="2.1" fill="#954a9b"/><circle cx="449.7" cy="866.4" r="2.1" fill="#e5177e"/><circle cx="157.2" cy="752.6" r="2.1" fill="#c9d82c"/><circle cx="52.2" cy="843.6" r="2.1" fill="#4c4fa6"/><circle cx="115" cy="910" r="2.1" fill="#3a5dab"/><circle cx="129.4" cy="780.7" r="2.1" fill="#4c4fa6"/><circle cx="278.7" cy="873.9" r="2.1" fill="#3dae8f"/><circle cx="264.5" cy="773.8" r="2.1" fill="#c9d82c"/><circle cx="317.6" cy="883.9" r="2.1" fill="#6cbd45"/><circle cx="487.9" cy="872.7" r="2.1" fill="#e5177e"/><circle cx="195.6" cy="833.1" r="2.1" fill="#29a9e0"/><circle cx="312.4" cy="894.3" r="2.1" fill="#954a9b"/><circle cx="68.6" cy="791.2" r="2.1" fill="#4c4fa6"/><circle cx="169.1" cy="761.2" r="2.1" fill="#29a9e0"/><circle cx="159.5" cy="836.5" r="2.1" fill="#4c4fa6"/><circle cx="166.6" cy="848.8" r="2.1" fill="#4c4fa6"/><circle cx="185.9" cy="849.6" r="2.1" fill="#4c4fa6"/><circle cx="478.9" cy="836.7" r="2.1" fill="#e5177e"/><circle cx="390" cy="860.4" r="2.1" fill="#e5177e"/><circle cx="234.2" cy="930.2" r="2.1" fill="#3dae8f"/><circle cx="320.6" cy="972.2" r="2.1" fill="#954a9b"/><circle cx="279.2" cy="859.1" r="2.1" fill="#3dae8f"/><circle cx="534.9" cy="883.6" r="2.1" fill="#e5177e"/><circle cx="431.9" cy="960.8" r="2.1" fill="#954a9b"/><circle cx="63" cy="914" r="2.1" fill="#f58a1f"/><circle cx="168" cy="695" r="2.1" fill="#29a9e0"/><circle cx="407.5" cy="886.5" r="2.1" fill="#6cbd45"/><circle cx="59.8" cy="823.4" r="2.1" fill="#4c4fa6"/><circle cx="303.1" cy="966.3" r="2.1" fill="#954a9b"/><circle cx="230.3" cy="790.6" r="2.1" fill="#c9d82c"/><circle cx="176.8" cy="732.8" r="2.1" fill="#c9d82c"/><circle cx="296.2" cy="884" r="2.1" fill="#954a9b"/><circle cx="59.3" cy="845.3" r="2.1" fill="#4c4fa6"/><circle cx="444.5" cy="838.8" r="2.1" fill="#e5177e"/><circle cx="262.2" cy="860.6" r="2.1" fill="#3dae8f"/><circle cx="161.9" cy="738.1" r="2.1" fill="#c9d82c"/><circle cx="328.7" cy="848.4" r="2.1" fill="#6cbd45"/><circle cx="149" cy="875.1" r="2.1" fill="#4c4fa6"/><circle cx="229.3" cy="824" r="2.1" fill="#4c4fa6"/><circle cx="524.3" cy="845.1" r="2.1" fill="#e5177e"/><circle cx="221.8" cy="923.8" r="2.1" fill="#3dae8f"/><circle cx="330.5" cy="845.5" r="2.1" fill="#3dae8f"/><circle cx="264.1" cy="781.5" r="2.1" fill="#29a9e0"/><circle cx="222.4" cy="781" r="2.1" fill="#29a9e0"/><circle cx="383.1" cy="954.6" r="2.1" fill="#954a9b"/><circle cx="476.9" cy="820.6" r="2.1" fill="#e5177e"/><circle cx="278.7" cy="1000.1" r="2.1" fill="#954a9b"/><circle cx="359.2" cy="994.5" r="2.1" fill="#954a9b"/><circle cx="341.8" cy="991.5" r="2.1" fill="#954a9b"/><circle cx="214.2" cy="892.7" r="2.1" fill="#4c4fa6"/><circle cx="266.3" cy="762.4" r="2.1" fill="#c9d82c"/><circle cx="211.6" cy="710.9" r="2.1" fill="#c9d82c"/><circle cx="392.1" cy="889.1" r="2.1" fill="#6cbd45"/><circle cx="269.9" cy="947.6" r="2.1" fill="#3dae8f"/><circle cx="142.4" cy="877.3" r="2.1" fill="#4c4fa6"/><circle cx="234.2" cy="914.7" r="2.1" fill="#3dae8f"/><circle cx="309.6" cy="946.8" r="2.1" fill="#4c4fa6"/><circle cx="100.4" cy="740.1" r="2.1" fill="#c9d82c"/><circle cx="161.1" cy="746.7" r="2.1" fill="#c9d82c"/><circle cx="249.4" cy="825.6" r="2.1" fill="#4c4fa6"/><circle cx="155.8" cy="908.8" r="2.1" fill="#4c4fa6"/><circle cx="480.3" cy="885.9" r="2.1" fill="#e5177e"/><circle cx="530.9" cy="835.1" r="2.1" fill="#e5177e"/><circle cx="359.5" cy="913.5" r="2.1" fill="#3dae8f"/><circle cx="314.2" cy="807.8" r="2.1" fill="#6cbd45"/><circle cx="316.8" cy="978.9" r="2.1" fill="#954a9b"/><circle cx="313.9" cy="844.2" r="2.1" fill="#3dae8f"/><circle cx="181.2" cy="839.2" r="2.1" fill="#4c4fa6"/><circle cx="231.3" cy="732.1" r="2.1" fill="#c9d82c"/><circle cx="187.9" cy="868.9" r="2.1" fill="#4c4fa6"/><circle cx="439.5" cy="850.5" r="2.1" fill="#e5177e"/><circle cx="389" cy="829.7" r="2.1" fill="#6cbd45"/><circle cx="201.7" cy="944.2" r="2.1" fill="#3dae8f"/><circle cx="115.6" cy="831.2" r="2.1" fill="#f58a1f"/><circle cx="340.2" cy="976.9" r="2.1" fill="#954a9b"/><circle cx="451.5" cy="869.3" r="2.1" fill="#6cbd45"/><circle cx="342.1" cy="779.9" r="2.1" fill="#3dae8f"/><circle cx="435.5" cy="865.3" r="2.1" fill="#e5177e"/><circle cx="297.6" cy="957.1" r="2.1" fill="#954a9b"/><circle cx="296.8" cy="843.5" r="2.1" fill="#3dae8f"/><circle cx="96.5" cy="743.3" r="2.1" fill="#c9d82c"/><circle cx="107.1" cy="839.7" r="2.1" fill="#4c4fa6"/><circle cx="259.2" cy="985" r="2.1" fill="#954a9b"/><circle cx="481.1" cy="856.1" r="2.1" fill="#e5177e"/><circle cx="112.6" cy="843.6" r="2.1" fill="#f58a1f"/><circle cx="321.5" cy="881.2" r="2.1" fill="#3dae8f"/><circle cx="22.7" cy="828.4" r="2.1" fill="#4c4fa6"/><circle cx="528.5" cy="968" r="2.1" fill="#6cbd45"/><circle cx="141" cy="922.7" r="2.1" fill="#4c4fa6"/><circle cx="146.4" cy="733.6" r="2.1" fill="#c9d82c"/><circle cx="325.6" cy="823" r="2.1" fill="#3dae8f"/><circle cx="521" cy="830.7" r="2.1" fill="#e5177e"/><circle cx="225.9" cy="744.7" r="2.1" fill="#c9d82c"/><circle cx="390.9" cy="985.1" r="2.1" fill="#954a9b"/><circle cx="212.1" cy="817.5" r="2.1" fill="#29a9e0"/><circle cx="246.6" cy="797.3" r="2.1" fill="#29a9e0"/><circle cx="163.3" cy="736.1" r="2.1" fill="#c9d82c"/><circle cx="392" cy="974.1" r="2.1" fill="#954a9b"/><circle cx="294.3" cy="771.1" r="2.1" fill="#3dae8f"/><circle cx="31.4" cy="824.4" r="2.1" fill="#4c4fa6"/><circle cx="270.9" cy="923.4" r="2.1" fill="#3dae8f"/><circle cx="254.9" cy="870.5" r="2.1" fill="#3dae8f"/><circle cx="304" cy="835.9" r="2.1" fill="#6cbd45"/><circle cx="412.9" cy="827.6" r="2.1" fill="#6cbd45"/><circle cx="267.5" cy="779.3" r="2.1" fill="#c9d82c"/><circle cx="307.4" cy="848" r="2.1" fill="#6cbd45"/><circle cx="262.2" cy="956.5" r="2.1" fill="#6cbd45"/><circle cx="119" cy="853.1" r="2.1" fill="#4c4fa6"/><circle cx="314.3" cy="949" r="2.1" fill="#954a9b"/><circle cx="101" cy="870.9" r="2.1" fill="#4c4fa6"/><circle cx="291.4" cy="799.4" r="2.1" fill="#c9d82c"/><circle cx="232.2" cy="808.5" r="2.1" fill="#4c4fa6"/><circle cx="301.9" cy="986.3" r="2.1" fill="#954a9b"/><circle cx="210.6" cy="829.3" r="2.1" fill="#4c4fa6"/><circle cx="17.2" cy="844.8" r="2.1" fill="#4c4fa6"/><circle cx="270.8" cy="740.4" r="2.1" fill="#c9d82c"/><circle cx="134.9" cy="718.3" r="2.1" fill="#c9d82c"/><circle cx="279.7" cy="982.6" r="2.1" fill="#954a9b"/><circle cx="316.2" cy="911.5" r="2.1" fill="#3dae8f"/><circle cx="333.7" cy="945.5" r="2.1" fill="#954a9b"/><circle cx="435.2" cy="885.9" r="2.1" fill="#e5177e"/><circle cx="276.1" cy="917.7" r="2.1" fill="#3dae8f"/><circle cx="328.8" cy="864.4" r="2.1" fill="#3dae8f"/><circle cx="108.7" cy="855.9" r="2.1" fill="#4c4fa6"/><circle cx="312.2" cy="767.5" r="2.1" fill="#3dae8f"/><circle cx="255.7" cy="832.5" r="2.1" fill="#c9d82c"/><circle cx="252.3" cy="779.4" r="2.1" fill="#29a9e0"/><circle cx="201.6" cy="900.7" r="2.1" fill="#4c4fa6"/><circle cx="361.4" cy="952.5" r="2.1" fill="#954a9b"/><circle cx="304.8" cy="759.2" r="2.1" fill="#3dae8f"/><circle cx="422.5" cy="891.4" r="2.1" fill="#6cbd45"/><circle cx="161.2" cy="813.6" r="2.1" fill="#4c4fa6"/><circle cx="470.5" cy="826.6" r="2.1" fill="#e5177e"/><circle cx="145" cy="782.9" r="2.1" fill="#29a9e0"/><circle cx="270.3" cy="807.6" r="2.1" fill="#c9d82c"/><circle cx="102" cy="912" r="2.1" fill="#3a5dab"/><circle cx="329.3" cy="799.3" r="2.1" fill="#c9d82c"/><circle cx="334" cy="854.3" r="2.1" fill="#6cbd45"/><circle cx="108.8" cy="742.1" r="2.1" fill="#c9d82c"/><circle cx="124.2" cy="859.7" r="2.1" fill="#4c4fa6"/><circle cx="404.9" cy="883.6" r="2.1" fill="#6cbd45"/><circle cx="485.3" cy="820.8" r="2.1" fill="#e5177e"/><circle cx="223.3" cy="946.8" r="2.1" fill="#3dae8f"/><circle cx="346.7" cy="815" r="2.1" fill="#3dae8f"/><circle cx="221.9" cy="818" r="2.1" fill="#4c4fa6"/><circle cx="489.1" cy="859.4" r="2.1" fill="#6cbd45"/><circle cx="485.6" cy="839.3" r="2.1" fill="#e5177e"/><circle cx="390.9" cy="959.2" r="2.1" fill="#954a9b"/><circle cx="230.5" cy="878.1" r="2.1" fill="#4c4fa6"/><circle cx="195.8" cy="873.8" r="2.1" fill="#4c4fa6"/><circle cx="120.8" cy="734" r="2.1" fill="#c9d82c"/><circle cx="335.1" cy="994.7" r="2.1" fill="#6cbd45"/><circle cx="60.7" cy="820.4" r="2.1" fill="#4c4fa6"/><circle cx="53.6" cy="779.3" r="2.1" fill="#4c4fa6"/><circle cx="439.2" cy="901.8" r="2.1" fill="#954a9b"/><circle cx="158.7" cy="769.8" r="2.1" fill="#29a9e0"/><circle cx="533.1" cy="971.4" r="2.1" fill="#6cbd45"/><circle cx="448.7" cy="873.3" r="2.1" fill="#e5177e"/><circle cx="455.7" cy="905" r="2.1" fill="#e5177e"/><circle cx="67.5" cy="806.5" r="2.1" fill="#4c4fa6"/><circle cx="87.1" cy="729.1" r="2.1" fill="#c9d82c"/><circle cx="262.8" cy="727.2" r="2.1" fill="#c9d82c"/><circle cx="260.4" cy="972.8" r="2.1" fill="#954a9b"/><circle cx="69" cy="913" r="2.1" fill="#f58a1f"/><circle cx="328.5" cy="941.7" r="2.1" fill="#954a9b"/><circle cx="386.1" cy="938.8" r="2.1" fill="#3dae8f"/><circle cx="375.9" cy="925.5" r="2.1" fill="#954a9b"/><circle cx="317.9" cy="791.7" r="2.1" fill="#3dae8f"/><circle cx="258.8" cy="842.8" r="2.1" fill="#3dae8f"/><circle cx="158.5" cy="932.2" r="2.1" fill="#4c4fa6"/><circle cx="430" cy="940.4" r="2.1" fill="#6cbd45"/><circle cx="203.1" cy="930.1" r="2.1" fill="#3dae8f"/><circle cx="159" cy="915.9" r="2.1" fill="#4c4fa6"/><circle cx="375.7" cy="997" r="2.1" fill="#954a9b"/><circle cx="340.4" cy="892.7" r="2.1" fill="#6cbd45"/><circle cx="306.6" cy="935.3" r="2.1" fill="#954a9b"/><circle cx="302.2" cy="770" r="2.1" fill="#3dae8f"/><circle cx="270.1" cy="808.3" r="2.1" fill="#3dae8f"/><circle cx="335.1" cy="969.4" r="2.1" fill="#954a9b"/><circle cx="234.3" cy="834" r="2.1" fill="#4c4fa6"/><circle cx="181.4" cy="823" r="2.1" fill="#f58a1f"/><circle cx="182.7" cy="904.6" r="2.1" fill="#4c4fa6"/><circle cx="43.5" cy="815.3" r="2.1" fill="#4c4fa6"/><circle cx="255.8" cy="841.2" r="2.1" fill="#4c4fa6"/><circle cx="281.8" cy="783.7" r="2.1" fill="#29a9e0"/><circle cx="151.4" cy="922.1" r="2.1" fill="#4c4fa6"/><circle cx="271.4" cy="982.4" r="2.1" fill="#954a9b"/><circle cx="411.6" cy="868.7" r="2.1" fill="#e5177e"/><circle cx="270.6" cy="913.4" r="2.1" fill="#4c4fa6"/><circle cx="438" cy="885.9" r="2.1" fill="#e5177e"/><circle cx="280.4" cy="875.5" r="2.1" fill="#3dae8f"/><circle cx="367.5" cy="946.7" r="2.1" fill="#954a9b"/><circle cx="40" cy="878.9" r="2.1" fill="#29a9e0"/><circle cx="60.9" cy="806.7" r="2.1" fill="#4c4fa6"/><circle cx="448.6" cy="821.3" r="2.1" fill="#e5177e"/><circle cx="213" cy="845.6" r="2.1" fill="#4c4fa6"/><circle cx="310.6" cy="913" r="2.1" fill="#3dae8f"/><circle cx="292.9" cy="799.7" r="2.1" fill="#29a9e0"/><circle cx="349.7" cy="983.7" r="2.1" fill="#954a9b"/><circle cx="338.4" cy="945" r="2.1" fill="#954a9b"/><circle cx="314" cy="821" r="2.1" fill="#3dae8f"/><circle cx="246.7" cy="946.4" r="2.1" fill="#3dae8f"/><circle cx="380.5" cy="957.1" r="2.1" fill="#3dae8f"/><circle cx="270.2" cy="860" r="2.1" fill="#3dae8f"/><circle cx="384" cy="953.3" r="2.1" fill="#954a9b"/><circle cx="449.6" cy="859.2" r="2.1" fill="#6cbd45"/><circle cx="314.2" cy="855.6" r="2.1" fill="#6cbd45"/><circle cx="134.6" cy="889.3" r="2.1" fill="#4c4fa6"/><circle cx="520.7" cy="967.1" r="2.1" fill="#6cbd45"/><circle cx="244.7" cy="783.9" r="2.1" fill="#29a9e0"/><circle cx="277.8" cy="854.3" r="2.1" fill="#3dae8f"/><circle cx="464.8" cy="868.7" r="2.1" fill="#e5177e"/><circle cx="76.2" cy="773.3" r="2.1" fill="#4c4fa6"/><circle cx="137.6" cy="797.7" r="2.1" fill="#4c4fa6"/><circle cx="174.9" cy="895.8" r="2.1" fill="#4c4fa6"/><circle cx="437.1" cy="867.1" r="2.1" fill="#6cbd45"/><circle cx="320.1" cy="789.6" r="2.1" fill="#3dae8f"/><circle cx="250.2" cy="844.3" r="2.1" fill="#4c4fa6"/><circle cx="411.1" cy="856.2" r="2.1" fill="#6cbd45"/><circle cx="224.4" cy="752.3" r="2.1" fill="#c9d82c"/><circle cx="57.1" cy="782.5" r="2.1" fill="#4c4fa6"/><circle cx="153.1" cy="720.9" r="2.1" fill="#c9d82c"/><circle cx="341.3" cy="881.4" r="2.1" fill="#6cbd45"/><circle cx="210.7" cy="914" r="2.1" fill="#4c4fa6"/><circle cx="184.5" cy="927.5" r="2.1" fill="#4c4fa6"/><circle cx="221.9" cy="918.7" r="2.1" fill="#3dae8f"/><circle cx="382" cy="975.4" r="2.1" fill="#954a9b"/><circle cx="106" cy="838.9" r="2.1" fill="#4c4fa6"/><circle cx="14.5" cy="848.7" r="2.1" fill="#4c4fa6"/><circle cx="378.3" cy="935.9" r="2.1" fill="#3dae8f"/><circle cx="328.2" cy="850.2" r="2.1" fill="#6cbd45"/><circle cx="57.7" cy="806" r="2.1" fill="#4c4fa6"/><circle cx="355.7" cy="754.9" r="2.1" fill="#3dae8f"/><circle cx="92.2" cy="855.2" r="2.1" fill="#4c4fa6"/><circle cx="262.6" cy="845.1" r="2.1" fill="#3dae8f"/><circle cx="165" cy="701" r="2.1" fill="#29a9e0"/><circle cx="426.1" cy="868.6" r="2.1" fill="#e2231a"/><circle cx="245.5" cy="744.7" r="2.1" fill="#c9d82c"/><circle cx="165.7" cy="815.5" r="2.1" fill="#4c4fa6"/><circle cx="376.6" cy="948.4" r="2.1" fill="#954a9b"/><circle cx="490.6" cy="863.8" r="2.1" fill="#e5177e"/><circle cx="356.3" cy="853" r="2.1" fill="#e5177e"/><circle cx="327.9" cy="914.8" r="2.1" fill="#6cbd45"/><circle cx="323.9" cy="856.3" r="2.1" fill="#6cbd45"/><circle cx="156" cy="693" r="2.1" fill="#29a9e0"/><circle cx="190.6" cy="853.2" r="2.1" fill="#4c4fa6"/><circle cx="511.3" cy="828.7" r="2.1" fill="#e5177e"/><circle cx="291.4" cy="984.9" r="2.1" fill="#954a9b"/><circle cx="432.4" cy="835.7" r="2.1" fill="#6cbd45"/><circle cx="41.3" cy="849.5" r="2.1" fill="#4c4fa6"/><circle cx="300.8" cy="764.8" r="2.1" fill="#3dae8f"/><circle cx="166.7" cy="817" r="2.1" fill="#4c4fa6"/><circle cx="408.5" cy="916.9" r="2.1" fill="#6cbd45"/><circle cx="311.6" cy="812.8" r="2.1" fill="#3dae8f"/><circle cx="103.4" cy="741.9" r="2.1" fill="#c9d82c"/><circle cx="262" cy="956.4" r="2.1" fill="#954a9b"/><circle cx="253.1" cy="863.1" r="2.1" fill="#3dae8f"/><circle cx="235.5" cy="790.4" r="2.1" fill="#29a9e0"/><circle cx="360" cy="769.5" r="2.1" fill="#3dae8f"/><circle cx="141.8" cy="765.4" r="2.1" fill="#29a9e0"/><circle cx="91.6" cy="879.3" r="2.1" fill="#4c4fa6"/><circle cx="301.6" cy="737.7" r="2.1" fill="#c9d82c"/><circle cx="252.4" cy="780.1" r="2.1" fill="#29a9e0"/><circle cx="383.5" cy="835.6" r="2.1" fill="#6cbd45"/><circle cx="281.4" cy="814.1" r="2.1" fill="#c9d82c"/><circle cx="435.5" cy="991.4" r="2.1" fill="#6cbd45"/><circle cx="382.2" cy="989.9" r="2.1" fill="#954a9b"/><circle cx="254.7" cy="825" r="2.1" fill="#3dae8f"/><circle cx="320" cy="937.8" r="2.1" fill="#4c4fa6"/><circle cx="185.8" cy="790.6" r="2.1" fill="#4c4fa6"/><circle cx="365" cy="869.7" r="2.1" fill="#6cbd45"/><circle cx="210" cy="910" r="2.1" fill="#4c4fa6"/><circle cx="293.1" cy="769" r="2.1" fill="#3dae8f"/><circle cx="213.8" cy="804.9" r="2.1" fill="#4c4fa6"/><circle cx="451" cy="838.3" r="2.1" fill="#6cbd45"/><circle cx="369.7" cy="977.4" r="2.1" fill="#954a9b"/><circle cx="387" cy="848.1" r="2.1" fill="#6cbd45"/><circle cx="92.9" cy="845.2" r="2.1" fill="#4c4fa6"/><circle cx="229.5" cy="910.7" r="2.1" fill="#3dae8f"/><circle cx="406.3" cy="843.3" r="2.1" fill="#6cbd45"/><circle cx="428.3" cy="842.4" r="2.1" fill="#6cbd45"/><circle cx="522.7" cy="862" r="2.1" fill="#e5177e"/><circle cx="344.1" cy="952.5" r="2.1" fill="#954a9b"/><circle cx="314.9" cy="865.2" r="2.1" fill="#954a9b"/><circle cx="546.8" cy="866.5" r="2.1" fill="#e5177e"/><circle cx="308.1" cy="984.8" r="2.1" fill="#954a9b"/><circle cx="126.2" cy="786" r="2.1" fill="#4c4fa6"/><circle cx="288.9" cy="841.8" r="2.1" fill="#3dae8f"/><circle cx="30.4" cy="803.3" r="2.1" fill="#4c4fa6"/><circle cx="122.1" cy="787.3" r="2.1" fill="#4c4fa6"/><circle cx="328.2" cy="773.6" r="2.1" fill="#3dae8f"/><circle cx="484.6" cy="900.8" r="2.1" fill="#e5177e"/><circle cx="278.7" cy="902.4" r="2.1" fill="#3dae8f"/><circle cx="364.9" cy="916.8" r="2.1" fill="#954a9b"/><circle cx="387.9" cy="957.1" r="2.1" fill="#954a9b"/><circle cx="340.2" cy="947.8" r="2.1" fill="#954a9b"/><circle cx="138.8" cy="852.8" r="2.1" fill="#4c4fa6"/><circle cx="272.8" cy="937.3" r="2.1" fill="#6cbd45"/><circle cx="252.4" cy="944.9" r="2.1" fill="#4c4fa6"/><circle cx="95.8" cy="803.5" r="2.1" fill="#4c4fa6"/><circle cx="248.8" cy="777.5" r="2.1" fill="#c9d82c"/><circle cx="309.1" cy="964" r="2.1" fill="#954a9b"/><circle cx="479.3" cy="850.6" r="2.1" fill="#e5177e"/><circle cx="255.1" cy="814.5" r="2.1" fill="#29a9e0"/><circle cx="499.5" cy="842.3" r="2.1" fill="#e5177e"/><circle cx="435.3" cy="883.3" r="2.1" fill="#e5177e"/><circle cx="379.5" cy="957.1" r="2.1" fill="#954a9b"/><circle cx="114" cy="735.3" r="2.1" fill="#c9d82c"/><circle cx="385.9" cy="980.2" r="2.1" fill="#954a9b"/><circle cx="315.8" cy="825.6" r="2.1" fill="#3dae8f"/><circle cx="512.2" cy="963.1" r="2.1" fill="#6cbd45"/><circle cx="313.1" cy="996.9" r="2.1" fill="#6cbd45"/><circle cx="421.1" cy="1004.6" r="2.1" fill="#954a9b"/><circle cx="457.6" cy="887.8" r="2.1" fill="#e5177e"/><circle cx="40.3" cy="846.1" r="2.1" fill="#4c4fa6"/><circle cx="228.3" cy="852.2" r="2.1" fill="#4c4fa6"/><circle cx="385.6" cy="938.2" r="2.1" fill="#954a9b"/><circle cx="349.2" cy="823.7" r="2.1" fill="#6cbd45"/><circle cx="164.3" cy="906" r="2.1" fill="#4c4fa6"/><circle cx="169.2" cy="861" r="2.1" fill="#4c4fa6"/><circle cx="350.6" cy="803.8" r="2.1" fill="#3dae8f"/><circle cx="434.6" cy="858.3" r="2.1" fill="#6cbd45"/><circle cx="334.6" cy="981.5" r="2.1" fill="#954a9b"/><circle cx="240.9" cy="851.1" r="2.1" fill="#4c4fa6"/><circle cx="121.1" cy="769.9" r="2.1" fill="#29a9e0"/><circle cx="175.2" cy="889.7" r="2.1" fill="#4c4fa6"/><circle cx="437.4" cy="933" r="2.1" fill="#954a9b"/><circle cx="285.8" cy="836.6" r="2.1" fill="#29a9e0"/><circle cx="130.5" cy="877.5" r="2.1" fill="#4c4fa6"/><circle cx="103.7" cy="873.3" r="2.1" fill="#4c4fa6"/><circle cx="149.6" cy="883.2" r="2.1" fill="#4c4fa6"/><circle cx="500.8" cy="964.4" r="2.1" fill="#6cbd45"/><circle cx="510.2" cy="855.6" r="2.1" fill="#e5177e"/><circle cx="63.8" cy="876.4" r="2.1" fill="#4c4fa6"/><circle cx="516.3" cy="886.3" r="2.1" fill="#e5177e"/><circle cx="294.8" cy="947.4" r="2.1" fill="#954a9b"/><circle cx="82.1" cy="730.8" r="2.1" fill="#c9d82c"/><circle cx="510.8" cy="828.8" r="2.1" fill="#e5177e"/><circle cx="291.7" cy="889.5" r="2.1" fill="#3dae8f"/><circle cx="55.8" cy="872.6" r="2.1" fill="#4c4fa6"/><circle cx="128.3" cy="787.7" r="2.1" fill="#4c4fa6"/><circle cx="312.1" cy="830.2" r="2.1" fill="#29a9e0"/><circle cx="36.1" cy="792" r="2.1" fill="#4c4fa6"/><circle cx="407.9" cy="879.3" r="2.1" fill="#6cbd45"/><circle cx="105.3" cy="741.2" r="2.1" fill="#c9d82c"/><circle cx="187.7" cy="751.9" r="2.1" fill="#c9d82c"/><circle cx="301.7" cy="809" r="2.1" fill="#c9d82c"/><circle cx="318.6" cy="962.6" r="2.1" fill="#954a9b"/><circle cx="369" cy="995.4" r="2.1" fill="#954a9b"/><circle cx="297.4" cy="899.6" r="2.1" fill="#3dae8f"/><circle cx="272.8" cy="878.4" r="2.1" fill="#3dae8f"/><circle cx="420.3" cy="935.8" r="2.1" fill="#6cbd45"/><circle cx="293" cy="866.2" r="2.1" fill="#3dae8f"/><circle cx="306.4" cy="964.4" r="2.1" fill="#954a9b"/><circle cx="196.3" cy="802.4" r="2.1" fill="#4c4fa6"/><circle cx="60" cy="802.3" r="2.1" fill="#4c4fa6"/><circle cx="118.1" cy="774.9" r="2.1" fill="#29a9e0"/><circle cx="117.4" cy="869.7" r="2.1" fill="#4c4fa6"/><circle cx="139.4" cy="794.9" r="2.1" fill="#4c4fa6"/><circle cx="130.1" cy="905.1" r="2.1" fill="#4c4fa6"/><circle cx="335.3" cy="793" r="2.1" fill="#3dae8f"/><circle cx="455.4" cy="893.1" r="2.1" fill="#954a9b"/><circle cx="172.5" cy="766.8" r="2.1" fill="#29a9e0"/><circle cx="457.6" cy="864.2" r="2.1" fill="#6cbd45"/><circle cx="290.4" cy="802.1" r="2.1" fill="#c9d82c"/><circle cx="530.6" cy="838" r="2.1" fill="#e5177e"/><circle cx="219.3" cy="787.8" r="2.1" fill="#29a9e0"/><circle cx="369.3" cy="964.8" r="2.1" fill="#954a9b"/><circle cx="311.9" cy="731.5" r="2.1" fill="#c9d82c"/><circle cx="233.6" cy="806" r="2.1" fill="#c9d82c"/><circle cx="351.1" cy="881.5" r="2.1" fill="#6cbd45"/><circle cx="500.6" cy="883.2" r="2.1" fill="#e5177e"/><circle cx="102.2" cy="744.3" r="2.1" fill="#c9d82c"/><circle cx="295.7" cy="996.6" r="2.1" fill="#954a9b"/><circle cx="327.8" cy="801.1" r="2.1" fill="#3dae8f"/><circle cx="369.3" cy="931.6" r="2.1" fill="#954a9b"/><circle cx="269.1" cy="981.4" r="2.1" fill="#954a9b"/><circle cx="134" cy="773.9" r="2.1" fill="#29a9e0"/><circle cx="377.2" cy="864.2" r="2.1" fill="#6cbd45"/><circle cx="494.6" cy="891.7" r="2.1" fill="#e5177e"/><circle cx="79.3" cy="816.3" r="2.1" fill="#4c4fa6"/><circle cx="307.2" cy="920" r="2.1" fill="#3dae8f"/><circle cx="296.9" cy="788.8" r="2.1" fill="#29a9e0"/><circle cx="231.8" cy="740.9" r="2.1" fill="#c9d82c"/><circle cx="482.4" cy="829.7" r="2.1" fill="#e5177e"/><circle cx="196.6" cy="863.1" r="2.1" fill="#4c4fa6"/><circle cx="186.1" cy="716.5" r="2.1" fill="#c9d82c"/><circle cx="447.7" cy="837.1" r="2.1" fill="#e5177e"/><circle cx="225.9" cy="899.9" r="2.1" fill="#4c4fa6"/><circle cx="151.4" cy="799.5" r="2.1" fill="#4c4fa6"/><circle cx="303" cy="988.9" r="2.1" fill="#954a9b"/><circle cx="330.1" cy="962" r="2.1" fill="#954a9b"/><circle cx="130.2" cy="764.9" r="2.1" fill="#29a9e0"/><circle cx="204.8" cy="798.8" r="2.1" fill="#4c4fa6"/><circle cx="482.4" cy="957.6" r="2.1" fill="#6cbd45"/><circle cx="270.5" cy="933.5" r="2.1" fill="#3dae8f"/><circle cx="333.5" cy="863.9" r="2.1" fill="#29a9e0"/><circle cx="482.2" cy="834.8" r="2.1" fill="#6cbd45"/><circle cx="92.9" cy="875.6" r="2.1" fill="#4c4fa6"/><circle cx="261.9" cy="934.1" r="2.1" fill="#3dae8f"/><circle cx="364.3" cy="997" r="2.1" fill="#954a9b"/><circle cx="67.1" cy="816.4" r="2.1" fill="#4c4fa6"/><circle cx="427.5" cy="889" r="2.1" fill="#e5177e"/><circle cx="487.8" cy="957.1" r="2.1" fill="#6cbd45"/><circle cx="370.6" cy="982.1" r="2.1" fill="#954a9b"/><circle cx="143.2" cy="781.3" r="2.1" fill="#4c4fa6"/><circle cx="500.6" cy="875.6" r="2.1" fill="#e5177e"/><circle cx="353.8" cy="1004.3" r="2.1" fill="#954a9b"/><circle cx="490.9" cy="866.2" r="2.1" fill="#e5177e"/><circle cx="62" cy="908" r="2.1" fill="#f58a1f"/><circle cx="288.8" cy="911.7" r="2.1" fill="#3dae8f"/><circle cx="449.2" cy="899.9" r="2.1" fill="#e5177e"/><circle cx="66.8" cy="803.7" r="2.1" fill="#4c4fa6"/><circle cx="241.9" cy="913.5" r="2.1" fill="#3dae8f"/><circle cx="262.8" cy="790.1" r="2.1" fill="#3dae8f"/><circle cx="333.5" cy="853.9" r="2.1" fill="#6cbd45"/><circle cx="101.4" cy="865.5" r="2.1" fill="#4c4fa6"/><circle cx="208.8" cy="863.3" r="2.1" fill="#4c4fa6"/><circle cx="130.4" cy="783" r="2.1" fill="#4c4fa6"/><circle cx="472.6" cy="820.7" r="2.1" fill="#e5177e"/><circle cx="340.9" cy="951.4" r="2.1" fill="#954a9b"/><circle cx="374.2" cy="1002.4" r="2.1" fill="#954a9b"/><circle cx="103.6" cy="867" r="2.1" fill="#4c4fa6"/><circle cx="162.2" cy="811.7" r="2.1" fill="#4c4fa6"/><circle cx="239.8" cy="720.7" r="2.1" fill="#c9d82c"/><circle cx="146.7" cy="735" r="2.1" fill="#c9d82c"/><circle cx="156.5" cy="781.9" r="2.1" fill="#4c4fa6"/><circle cx="328.1" cy="1002.2" r="2.1" fill="#954a9b"/><circle cx="400.9" cy="816.8" r="2.1" fill="#6cbd45"/><circle cx="172.6" cy="925.3" r="2.1" fill="#4c4fa6"/><circle cx="428.4" cy="860.9" r="2.1" fill="#e5177e"/><circle cx="475.7" cy="833.9" r="2.1" fill="#e5177e"/><circle cx="179.6" cy="924.9" r="2.1" fill="#f58a1f"/><circle cx="263.8" cy="772.3" r="2.1" fill="#c9d82c"/><circle cx="62.7" cy="773.2" r="2.1" fill="#4c4fa6"/><circle cx="237.4" cy="781.7" r="2.1" fill="#29a9e0"/><circle cx="229" cy="780.8" r="2.1" fill="#29a9e0"/><circle cx="484.6" cy="857.8" r="2.1" fill="#e5177e"/><circle cx="321.3" cy="789.7" r="2.1" fill="#3dae8f"/><circle cx="52.2" cy="862.7" r="2.1" fill="#4c4fa6"/><circle cx="283.3" cy="862.9" r="2.1" fill="#954a9b"/><circle cx="174.4" cy="774.6" r="2.1" fill="#29a9e0"/><circle cx="285.9" cy="790.5" r="2.1" fill="#c9d82c"/><circle cx="482.8" cy="915.9" r="2.1" fill="#e5177e"/><circle cx="171.4" cy="758.9" r="2.1" fill="#c9d82c"/><circle cx="174.9" cy="845.7" r="2.1" fill="#4c4fa6"/><circle cx="76.6" cy="789.9" r="2.1" fill="#4c4fa6"/><circle cx="357.5" cy="771.4" r="2.1" fill="#3dae8f"/><circle cx="248.2" cy="934.9" r="2.1" fill="#3dae8f"/><circle cx="328.5" cy="796" r="2.1" fill="#3dae8f"/><circle cx="342.5" cy="799.8" r="2.1" fill="#6cbd45"/><circle cx="304.7" cy="960.8" r="2.1" fill="#954a9b"/><circle cx="307.5" cy="992.7" r="2.1" fill="#954a9b"/><circle cx="145" cy="878" r="2.1" fill="#4c4fa6"/><circle cx="311.8" cy="845.2" r="2.1" fill="#4c4fa6"/><circle cx="172.2" cy="917.3" r="2.1" fill="#4c4fa6"/><circle cx="366.3" cy="955.1" r="2.1" fill="#954a9b"/><circle cx="129.3" cy="890.6" r="2.1" fill="#4c4fa6"/><circle cx="236.4" cy="858.4" r="2.1" fill="#4c4fa6"/><circle cx="312.1" cy="850.1" r="2.1" fill="#3dae8f"/><circle cx="142.6" cy="923.9" r="2.1" fill="#4c4fa6"/><circle cx="414.2" cy="881.5" r="2.1" fill="#954a9b"/><circle cx="163" cy="688" r="2.1" fill="#29a9e0"/><circle cx="317.9" cy="832.1" r="2.1" fill="#3dae8f"/><circle cx="348.4" cy="993.6" r="2.1" fill="#954a9b"/><circle cx="256.9" cy="898.9" r="2.1" fill="#3dae8f"/><circle cx="377.9" cy="961.7" r="2.1" fill="#954a9b"/><circle cx="263.1" cy="927.9" r="2.1" fill="#3dae8f"/><circle cx="293.9" cy="858.2" r="2.1" fill="#3dae8f"/><circle cx="226.3" cy="840.2" r="2.1" fill="#29a9e0"/><circle cx="467.7" cy="901.3" r="2.1" fill="#e5177e"/><circle cx="90.9" cy="724.4" r="2.1" fill="#c9d82c"/><circle cx="64.1" cy="803" r="2.1" fill="#4c4fa6"/><circle cx="98.7" cy="732.8" r="2.1" fill="#c9d82c"/><circle cx="149.4" cy="850.8" r="2.1" fill="#4c4fa6"/><circle cx="286.6" cy="832.3" r="2.1" fill="#3dae8f"/><circle cx="207.6" cy="944.5" r="2.1" fill="#3dae8f"/><circle cx="164.1" cy="789.3" r="2.1" fill="#4c4fa6"/><circle cx="312.8" cy="919.8" r="2.1" fill="#954a9b"/><circle cx="271.6" cy="819.1" r="2.1" fill="#3dae8f"/><circle cx="478.3" cy="873.2" r="2.1" fill="#6cbd45"/><circle cx="263.8" cy="972.7" r="2.1" fill="#954a9b"/><circle cx="432.4" cy="831.2" r="2.1" fill="#6cbd45"/><circle cx="276.5" cy="777.1" r="2.1" fill="#3dae8f"/><circle cx="83.5" cy="728" r="2.1" fill="#c9d82c"/><circle cx="312.4" cy="908.6" r="2.1" fill="#3dae8f"/><circle cx="325.6" cy="861" r="2.1" fill="#6cbd45"/><circle cx="310.9" cy="848.3" r="2.1" fill="#4c4fa6"/><circle cx="487.4" cy="888.8" r="2.1" fill="#e5177e"/><circle cx="430.7" cy="872.1" r="2.1" fill="#6cbd45"/><circle cx="205.1" cy="883.2" r="2.1" fill="#4c4fa6"/><circle cx="432.5" cy="833.4" r="2.1" fill="#6cbd45"/><circle cx="291.7" cy="994.2" r="2.1" fill="#954a9b"/><circle cx="232.9" cy="834.2" r="2.1" fill="#4c4fa6"/><circle cx="510" cy="859.9" r="2.1" fill="#e5177e"/><circle cx="229.8" cy="933.9" r="2.1" fill="#3dae8f"/><circle cx="368.1" cy="839.9" r="2.1" fill="#6cbd45"/><circle cx="371.6" cy="979.6" r="2.1" fill="#6cbd45"/><circle cx="180.4" cy="789.9" r="2.1" fill="#4c4fa6"/><circle cx="327" cy="796.4" r="2.1" fill="#3dae8f"/><circle cx="69.1" cy="879.4" r="2.1" fill="#4c4fa6"/><circle cx="251.9" cy="871" r="2.1" fill="#3dae8f"/><circle cx="365.8" cy="903.6" r="2.1" fill="#6cbd45"/><circle cx="183.9" cy="889.9" r="2.1" fill="#4c4fa6"/><circle cx="188.3" cy="728" r="2.1" fill="#c9d82c"/><circle cx="508.8" cy="878.4" r="2.1" fill="#e5177e"/><circle cx="26.5" cy="837.2" r="2.1" fill="#4c4fa6"/><circle cx="273.1" cy="766.7" r="2.1" fill="#c9d82c"/><circle cx="82.9" cy="823.7" r="2.1" fill="#4c4fa6"/><circle cx="430.1" cy="953.4" r="2.1" fill="#954a9b"/><circle cx="208.6" cy="842.4" r="2.1" fill="#4c4fa6"/><circle cx="174.6" cy="784.3" r="2.1" fill="#29a9e0"/><circle cx="307.7" cy="777.2" r="2.1" fill="#3dae8f"/><circle cx="196.6" cy="764.4" r="2.1" fill="#29a9e0"/><circle cx="301.2" cy="762.7" r="2.1" fill="#3dae8f"/><circle cx="137.7" cy="724.8" r="2.1" fill="#c9d82c"/><circle cx="297.3" cy="859.7" r="2.1" fill="#3dae8f"/><circle cx="433.2" cy="851.6" r="2.1" fill="#e5177e"/><circle cx="305.7" cy="860.6" r="2.1" fill="#3dae8f"/><circle cx="152.9" cy="852.8" r="2.1" fill="#4c4fa6"/><circle cx="290.2" cy="780.1" r="2.1" fill="#c9d82c"/><circle cx="284.9" cy="872.6" r="2.1" fill="#3dae8f"/><circle cx="391.6" cy="846.3" r="2.1" fill="#e5177e"/><circle cx="312" cy="849.5" r="2.1" fill="#6cbd45"/><circle cx="290" cy="999.7" r="2.1" fill="#954a9b"/><circle cx="383.7" cy="809.9" r="2.1" fill="#6cbd45"/><circle cx="515.1" cy="964.5" r="2.1" fill="#6cbd45"/><circle cx="330.8" cy="800.6" r="2.1" fill="#6cbd45"/><circle cx="130.3" cy="872.8" r="2.1" fill="#4c4fa6"/><circle cx="344.9" cy="825.8" r="2.1" fill="#6cbd45"/><circle cx="345.6" cy="868" r="2.1" fill="#3dae8f"/><circle cx="371.9" cy="974.9" r="2.1" fill="#954a9b"/><circle cx="355.5" cy="993.4" r="2.1" fill="#954a9b"/><circle cx="472.7" cy="865.9" r="2.1" fill="#e5177e"/><circle cx="317.9" cy="944.9" r="2.1" fill="#954a9b"/><circle cx="340.8" cy="992.9" r="2.1" fill="#954a9b"/><circle cx="351.6" cy="880.3" r="2.1" fill="#6cbd45"/><circle cx="325.6" cy="899.5" r="2.1" fill="#6cbd45"/><circle cx="317.1" cy="976.8" r="2.1" fill="#954a9b"/><circle cx="208.7" cy="930.5" r="2.1" fill="#3dae8f"/><circle cx="386.9" cy="908.6" r="2.1" fill="#954a9b"/><circle cx="358.8" cy="959.9" r="2.1" fill="#954a9b"/><circle cx="44.4" cy="814.7" r="2.1" fill="#4c4fa6"/><circle cx="450.6" cy="905.3" r="2.1" fill="#6cbd45"/><circle cx="310.6" cy="822.1" r="2.1" fill="#3dae8f"/><circle cx="344.9" cy="877.5" r="2.1" fill="#6cbd45"/><circle cx="511" cy="853.7" r="2.1" fill="#e5177e"/><circle cx="490" cy="957.9" r="2.1" fill="#6cbd45"/><circle cx="282" cy="818.9" r="2.1" fill="#3dae8f"/><circle cx="532.8" cy="868.3" r="2.1" fill="#e5177e"/><circle cx="70.1" cy="799.6" r="2.1" fill="#4c4fa6"/><circle cx="399.6" cy="854.7" r="2.1" fill="#e5177e"/><circle cx="438.1" cy="833.1" r="2.1" fill="#6cbd45"/><circle cx="338.6" cy="990.8" r="2.1" fill="#954a9b"/><circle cx="97" cy="862.4" r="2.1" fill="#4c4fa6"/><circle cx="276.1" cy="975.3" r="2.1" fill="#954a9b"/><circle cx="334.7" cy="939.6" r="2.1" fill="#954a9b"/><circle cx="384" cy="1002.7" r="2.1" fill="#954a9b"/><circle cx="168.6" cy="907.5" r="2.1" fill="#4c4fa6"/><circle cx="144.1" cy="769.3" r="2.1" fill="#29a9e0"/><circle cx="363.7" cy="945.5" r="2.1" fill="#954a9b"/><circle cx="466.3" cy="966.5" r="2.1" fill="#6cbd45"/><circle cx="533.8" cy="841.1" r="2.1" fill="#e5177e"/><circle cx="366.9" cy="951.3" r="2.1" fill="#954a9b"/><circle cx="257.3" cy="829.4" r="2.1" fill="#3dae8f"/><circle cx="200.1" cy="757.5" r="2.1" fill="#c9d82c"/><circle cx="229.8" cy="797.7" r="2.1" fill="#4c4fa6"/><circle cx="175.6" cy="754.9" r="2.1" fill="#c9d82c"/><circle cx="173.7" cy="931.3" r="2.1" fill="#4c4fa6"/><circle cx="318.6" cy="795.1" r="2.1" fill="#29a9e0"/><circle cx="387" cy="843.1" r="2.1" fill="#e5177e"/><circle cx="226.7" cy="737.6" r="2.1" fill="#c9d82c"/><circle cx="220.4" cy="776" r="2.1" fill="#29a9e0"/><circle cx="302.6" cy="835.8" r="2.1" fill="#29a9e0"/><circle cx="278.3" cy="792.1" r="2.1" fill="#3dae8f"/><circle cx="438.3" cy="872.1" r="2.1" fill="#6cbd45"/><circle cx="227.1" cy="934.4" r="2.1" fill="#3dae8f"/><circle cx="286.7" cy="991.1" r="2.1" fill="#954a9b"/><circle cx="273.2" cy="945" r="2.1" fill="#3dae8f"/><circle cx="311.3" cy="825.9" r="2.1" fill="#3dae8f"/><circle cx="202.9" cy="791.6" r="2.1" fill="#4c4fa6"/><circle cx="202.5" cy="736.2" r="2.1" fill="#c9d82c"/><circle cx="168.8" cy="753.6" r="2.1" fill="#c9d82c"/><circle cx="318" cy="704" r="2.1" fill="#e2231a"/><circle cx="238.2" cy="893.5" r="2.1" fill="#3dae8f"/><circle cx="128.9" cy="794.4" r="2.1" fill="#4c4fa6"/><circle cx="255" cy="785.7" r="2.1" fill="#29a9e0"/><circle cx="406.4" cy="853.7" r="2.1" fill="#e5177e"/><circle cx="277.6" cy="738.6" r="2.1" fill="#c9d82c"/><circle cx="347.7" cy="829.3" r="2.1" fill="#6cbd45"/><circle cx="512" cy="864.4" r="2.1" fill="#e5177e"/><circle cx="228.1" cy="803.1" r="2.1" fill="#4c4fa6"/><circle cx="87.7" cy="732.7" r="2.1" fill="#c9d82c"/><circle cx="518" cy="966.7" r="2.1" fill="#6cbd45"/><circle cx="259.4" cy="852.4" r="2.1" fill="#29a9e0"/><circle cx="329.5" cy="877.4" r="2.1" fill="#6cbd45"/><circle cx="332.5" cy="806.9" r="2.1" fill="#6cbd45"/><circle cx="114" cy="847" r="2.1" fill="#4c4fa6"/><circle cx="279.1" cy="808.5" r="2.1" fill="#3dae8f"/><circle cx="60" cy="917" r="2.1" fill="#f58a1f"/><circle cx="227.6" cy="738.5" r="2.1" fill="#c9d82c"/><circle cx="206.1" cy="922.2" r="2.1" fill="#4c4fa6"/><circle cx="454.8" cy="843.6" r="2.1" fill="#6cbd45"/><circle cx="227.8" cy="754.9" r="2.1" fill="#c9d82c"/><circle cx="430.9" cy="854.1" r="2.1" fill="#6cbd45"/><circle cx="286.3" cy="899" r="2.1" fill="#954a9b"/><circle cx="57.6" cy="792.9" r="2.1" fill="#4c4fa6"/><circle cx="501.7" cy="963.8" r="2.1" fill="#6cbd45"/><circle cx="254.2" cy="965.8" r="2.1" fill="#954a9b"/><circle cx="189.4" cy="912.2" r="2.1" fill="#4c4fa6"/><circle cx="206.9" cy="919.3" r="2.1" fill="#4c4fa6"/><circle cx="380.2" cy="894.7" r="2.1" fill="#6cbd45"/><circle cx="312.5" cy="838.4" r="2.1" fill="#3dae8f"/><circle cx="230.8" cy="879.1" r="2.1" fill="#4c4fa6"/><circle cx="161.8" cy="806.1" r="2.1" fill="#4c4fa6"/><circle cx="254" cy="961.9" r="2.1" fill="#954a9b"/><circle cx="103.9" cy="866" r="2.1" fill="#4c4fa6"/><circle cx="429.6" cy="881" r="2.1" fill="#e5177e"/><circle cx="244.4" cy="871.3" r="2.1" fill="#4c4fa6"/><circle cx="220.6" cy="925.9" r="2.1" fill="#3dae8f"/><circle cx="344.2" cy="941.8" r="2.1" fill="#954a9b"/><circle cx="213.3" cy="711.5" r="2.1" fill="#c9d82c"/><circle cx="467.8" cy="919.4" r="2.1" fill="#954a9b"/><circle cx="201.5" cy="905" r="2.1" fill="#4c4fa6"/><circle cx="334.2" cy="852.4" r="2.1" fill="#6cbd45"/><circle cx="282.2" cy="855.4" r="2.1" fill="#3dae8f"/><circle cx="318.4" cy="736.5" r="2.1" fill="#c9d82c"/><circle cx="171.9" cy="894.3" r="2.1" fill="#4c4fa6"/><circle cx="153.1" cy="829.7" r="2.1" fill="#4c4fa6"/><circle cx="279.9" cy="879.2" r="2.1" fill="#3dae8f"/><circle cx="388" cy="830.9" r="2.1" fill="#3dae8f"/><circle cx="286.9" cy="1001.5" r="2.1" fill="#954a9b"/><circle cx="389.2" cy="923.1" r="2.1" fill="#e5177e"/><circle cx="213.1" cy="821.7" r="2.1" fill="#4c4fa6"/><circle cx="393.4" cy="956" r="2.1" fill="#954a9b"/><circle cx="83.4" cy="847.6" r="2.1" fill="#4c4fa6"/><circle cx="493.8" cy="862.8" r="2.1" fill="#6cbd45"/><circle cx="290.2" cy="802.1" r="2.1" fill="#3dae8f"/><circle cx="535.9" cy="882.1" r="2.1" fill="#e5177e"/><circle cx="265" cy="989" r="2.1" fill="#954a9b"/><circle cx="168.9" cy="853.3" r="2.1" fill="#4c4fa6"/><circle cx="428.9" cy="871" r="2.1" fill="#e5177e"/><circle cx="291.3" cy="786.9" r="2.1" fill="#3dae8f"/><circle cx="455" cy="870.4" r="2.1" fill="#e5177e"/><circle cx="402.2" cy="880.1" r="2.1" fill="#954a9b"/><circle cx="331.5" cy="797" r="2.1" fill="#3dae8f"/><circle cx="208.9" cy="726" r="2.1" fill="#c9d82c"/><circle cx="72.5" cy="827.5" r="2.1" fill="#4c4fa6"/><circle cx="146.5" cy="847.2" r="2.1" fill="#4c4fa6"/><circle cx="401.7" cy="895.5" r="2.1" fill="#6cbd45"/><circle cx="458.8" cy="847.9" r="2.1" fill="#e5177e"/><circle cx="446.7" cy="862.2" r="2.1" fill="#e5177e"/><circle cx="192.9" cy="851.2" r="2.1" fill="#29a9e0"/><circle cx="286.9" cy="862.8" r="2.1" fill="#3dae8f"/><circle cx="219.8" cy="782.7" r="2.1" fill="#29a9e0"/><circle cx="225.7" cy="791.5" r="2.1" fill="#29a9e0"/><circle cx="79.5" cy="823.8" r="2.1" fill="#4c4fa6"/><circle cx="333" cy="936.4" r="2.1" fill="#954a9b"/><circle cx="296.5" cy="805.7" r="2.1" fill="#3dae8f"/><circle cx="124.3" cy="890.9" r="2.1" fill="#4c4fa6"/><circle cx="381.9" cy="1006.7" r="2.1" fill="#954a9b"/><circle cx="210.5" cy="898.1" r="2.1" fill="#4c4fa6"/><circle cx="268.8" cy="760.5" r="2.1" fill="#c9d82c"/><circle cx="147.7" cy="881.7" r="2.1" fill="#4c4fa6"/><circle cx="65" cy="878.5" r="2.1" fill="#4c4fa6"/><circle cx="428.8" cy="853.8" r="2.1" fill="#e5177e"/><circle cx="149.9" cy="771.1" r="2.1" fill="#29a9e0"/><circle cx="143.5" cy="806.9" r="2.1" fill="#4c4fa6"/><circle cx="201.2" cy="801.9" r="2.1" fill="#4c4fa6"/><circle cx="74.2" cy="854" r="2.1" fill="#4c4fa6"/><circle cx="395.5" cy="845.2" r="2.1" fill="#e5177e"/><circle cx="238" cy="909.5" r="2.1" fill="#3dae8f"/><circle cx="290.8" cy="784" r="2.1" fill="#29a9e0"/><circle cx="250.3" cy="916.5" r="2.1" fill="#3dae8f"/><circle cx="74.9" cy="811.6" r="2.1" fill="#4c4fa6"/><circle cx="511.6" cy="890.3" r="2.1" fill="#e5177e"/><circle cx="387.4" cy="829.9" r="2.1" fill="#6cbd45"/><circle cx="197.4" cy="736.8" r="2.1" fill="#c9d82c"/><circle cx="161" cy="694" r="2.1" fill="#29a9e0"/><circle cx="420.6" cy="966.1" r="2.1" fill="#954a9b"/><circle cx="340.7" cy="959.4" r="2.1" fill="#954a9b"/><circle cx="136.4" cy="770.3" r="2.1" fill="#29a9e0"/><circle cx="234.9" cy="948.7" r="2.1" fill="#3dae8f"/><circle cx="345.9" cy="972.6" r="2.1" fill="#954a9b"/><circle cx="310.2" cy="847" r="2.1" fill="#3dae8f"/><circle cx="111" cy="871.1" r="2.1" fill="#4c4fa6"/><circle cx="539.2" cy="875.4" r="2.1" fill="#e5177e"/><circle cx="17.6" cy="821.1" r="2.1" fill="#4c4fa6"/><circle cx="375.7" cy="968.4" r="2.1" fill="#954a9b"/><circle cx="217.9" cy="910.4" r="2.1" fill="#3dae8f"/><circle cx="373.7" cy="828.9" r="2.1" fill="#6cbd45"/><circle cx="379.2" cy="988" r="2.1" fill="#954a9b"/><circle cx="168" cy="711.3" r="2.1" fill="#c9d82c"/><circle cx="94" cy="832.5" r="2.1" fill="#4c4fa6"/><circle cx="492.7" cy="829.4" r="2.1" fill="#e5177e"/><circle cx="129.9" cy="717.6" r="2.1" fill="#c9d82c"/><circle cx="432.5" cy="887.8" r="2.1" fill="#e5177e"/><circle cx="198.1" cy="857.5" r="2.1" fill="#4c4fa6"/><circle cx="374.5" cy="949" r="2.1" fill="#954a9b"/><circle cx="322.7" cy="942.1" r="2.1" fill="#954a9b"/><circle cx="160" cy="699" r="2.1" fill="#29a9e0"/><circle cx="290.2" cy="903.8" r="2.1" fill="#3dae8f"/><circle cx="230.1" cy="804.3" r="2.1" fill="#4c4fa6"/><circle cx="406.1" cy="807.4" r="2.1" fill="#6cbd45"/><circle cx="55.5" cy="812.3" r="2.1" fill="#4c4fa6"/><circle cx="491.6" cy="886.9" r="2.1" fill="#e5177e"/><circle cx="370.9" cy="839.9" r="2.1" fill="#3dae8f"/><circle cx="278.3" cy="774.5" r="2.1" fill="#3dae8f"/><circle cx="277.2" cy="907.9" r="2.1" fill="#3dae8f"/><circle cx="499.3" cy="849.7" r="2.1" fill="#e5177e"/><circle cx="31.2" cy="824.2" r="2.1" fill="#4c4fa6"/><circle cx="290.7" cy="790.4" r="2.1" fill="#29a9e0"/><circle cx="351.4" cy="852.5" r="2.1" fill="#e5177e"/><circle cx="212.9" cy="882" r="2.1" fill="#4c4fa6"/><circle cx="268.6" cy="773" r="2.1" fill="#c9d82c"/><circle cx="290.6" cy="795.6" r="2.1" fill="#29a9e0"/><circle cx="216.5" cy="912.6" r="2.1" fill="#4c4fa6"/><circle cx="390.1" cy="866.6" r="2.1" fill="#6cbd45"/><circle cx="279.7" cy="792" r="2.1" fill="#29a9e0"/><circle cx="251.6" cy="849.9" r="2.1" fill="#3dae8f"/><circle cx="79.1" cy="863.1" r="2.1" fill="#4c4fa6"/><circle cx="270.3" cy="741.2" r="2.1" fill="#c9d82c"/><circle cx="326" cy="998.3" r="2.1" fill="#954a9b"/><circle cx="348.6" cy="801" r="2.1" fill="#6cbd45"/><circle cx="252.3" cy="877.2" r="2.1" fill="#4c4fa6"/><circle cx="320.7" cy="873" r="2.1" fill="#6cbd45"/><circle cx="486.5" cy="852.5" r="2.1" fill="#e5177e"/><circle cx="442.1" cy="840.4" r="2.1" fill="#e5177e"/><circle cx="428" cy="961.5" r="2.1" fill="#954a9b"/><circle cx="472.6" cy="832.3" r="2.1" fill="#e5177e"/><circle cx="191" cy="733.1" r="2.1" fill="#c9d82c"/><circle cx="324.8" cy="893.8" r="2.1" fill="#6cbd45"/><circle cx="69.1" cy="744.4" r="2.1" fill="#c9d82c"/><circle cx="269.2" cy="841.5" r="2.1" fill="#29a9e0"/><circle cx="232.9" cy="943.4" r="2.1" fill="#3dae8f"/><circle cx="467" cy="875.1" r="2.1" fill="#e5177e"/><circle cx="206.1" cy="842.4" r="2.1" fill="#4c4fa6"/><circle cx="46.3" cy="789.6" r="2.1" fill="#4c4fa6"/><circle cx="129.1" cy="867.4" r="2.1" fill="#4c4fa6"/><circle cx="248.1" cy="864.8" r="2.1" fill="#4c4fa6"/><circle cx="234.3" cy="931.7" r="2.1" fill="#3dae8f"/><circle cx="160.3" cy="776.3" r="2.1" fill="#29a9e0"/><circle cx="301.6" cy="938.3" r="2.1" fill="#954a9b"/><circle cx="233.8" cy="737.6" r="2.1" fill="#c9d82c"/><circle cx="185.1" cy="823.1" r="2.1" fill="#4c4fa6"/><circle cx="256.6" cy="775.7" r="2.1" fill="#c9d82c"/><circle cx="240.6" cy="746.2" r="2.1" fill="#c9d82c"/><circle cx="310.2" cy="907.1" r="2.1" fill="#954a9b"/><circle cx="340.4" cy="869.1" r="2.1" fill="#6cbd45"/><circle cx="289" cy="923.1" r="2.1" fill="#3dae8f"/><circle cx="525.1" cy="843.8" r="2.1" fill="#e5177e"/><circle cx="274.4" cy="737.9" r="2.1" fill="#c9d82c"/><circle cx="100.6" cy="720" r="2.1" fill="#c9d82c"/><circle cx="38" cy="824.8" r="2.1" fill="#4c4fa6"/><circle cx="222.5" cy="847.1" r="2.1" fill="#4c4fa6"/><circle cx="326.6" cy="802.2" r="2.1" fill="#3dae8f"/><circle cx="489.1" cy="835.8" r="2.1" fill="#e5177e"/><circle cx="75.6" cy="866" r="2.1" fill="#4c4fa6"/><circle cx="473.6" cy="857.9" r="2.1" fill="#e5177e"/><circle cx="238.9" cy="913.2" r="2.1" fill="#3dae8f"/><circle cx="413.1" cy="882.4" r="2.1" fill="#6cbd45"/><circle cx="265.5" cy="798.2" r="2.1" fill="#3dae8f"/><circle cx="434.8" cy="867.9" r="2.1" fill="#e5177e"/><circle cx="392.2" cy="839.6" r="2.1" fill="#e5177e"/><circle cx="275.5" cy="923.2" r="2.1" fill="#954a9b"/><circle cx="210.3" cy="764.8" r="2.1" fill="#c9d82c"/><circle cx="254.9" cy="821.1" r="2.1" fill="#4c4fa6"/><circle cx="267.7" cy="814.4" r="2.1" fill="#3dae8f"/><circle cx="311.4" cy="804.4" r="2.1" fill="#6cbd45"/><circle cx="370.2" cy="888.7" r="2.1" fill="#6cbd45"/><circle cx="300" cy="812.4" r="2.1" fill="#29a9e0"/><circle cx="218" cy="867.7" r="2.1" fill="#4c4fa6"/><circle cx="352.9" cy="881.7" r="2.1" fill="#3dae8f"/><circle cx="288.3" cy="911.5" r="2.1" fill="#3dae8f"/><circle cx="270.6" cy="798.4" r="2.1" fill="#29a9e0"/><circle cx="329.3" cy="814.5" r="2.1" fill="#6cbd45"/><circle cx="66" cy="908" r="2.1" fill="#f58a1f"/><circle cx="483.5" cy="885.8" r="2.1" fill="#e5177e"/><circle cx="276.2" cy="896.6" r="2.1" fill="#3dae8f"/><circle cx="464" cy="978.8" r="2.1" fill="#954a9b"/><circle cx="340.1" cy="935.6" r="2.1" fill="#954a9b"/><circle cx="270.3" cy="776.7" r="2.1" fill="#29a9e0"/><circle cx="361.9" cy="831.2" r="2.1" fill="#6cbd45"/><circle cx="282.9" cy="887.1" r="2.1" fill="#3dae8f"/><circle cx="370.7" cy="834.2" r="2.1" fill="#6cbd45"/><circle cx="260.2" cy="938.8" r="2.1" fill="#3dae8f"/><circle cx="118.9" cy="734.2" r="2.1" fill="#c9d82c"/><circle cx="429" cy="977.7" r="2.1" fill="#954a9b"/><circle cx="320.4" cy="876.2" r="2.1" fill="#3dae8f"/><circle cx="267.5" cy="931.4" r="2.1" fill="#3dae8f"/><circle cx="56.5" cy="865.8" r="2.1" fill="#4c4fa6"/><circle cx="146.7" cy="925.9" r="2.1" fill="#4c4fa6"/><circle cx="421" cy="832.6" r="2.1" fill="#6cbd45"/><circle cx="388.5" cy="844.8" r="2.1" fill="#e5177e"/><circle cx="53.1" cy="856" r="2.1" fill="#4c4fa6"/><circle cx="402.8" cy="888.4" r="2.1" fill="#e5177e"/><circle cx="362.8" cy="811" r="2.1" fill="#6cbd45"/><circle cx="215.8" cy="953.8" r="2.1" fill="#3dae8f"/><circle cx="263.6" cy="830.9" r="2.1" fill="#c9d82c"/><circle cx="193" cy="741.9" r="2.1" fill="#c9d82c"/><circle cx="447.3" cy="842.4" r="2.1" fill="#e5177e"/><circle cx="277.5" cy="783.3" r="2.1" fill="#3dae8f"/><circle cx="297.1" cy="992.9" r="2.1" fill="#954a9b"/><circle cx="453.3" cy="841.5" r="2.1" fill="#6cbd45"/><circle cx="302.1" cy="970.7" r="2.1" fill="#954a9b"/><circle cx="357.1" cy="864.3" r="2.1" fill="#6cbd45"/><circle cx="268.3" cy="724.9" r="2.1" fill="#c9d82c"/><circle cx="286.9" cy="756.2" r="2.1" fill="#c9d82c"/><circle cx="453.9" cy="858.1" r="2.1" fill="#6cbd45"/><circle cx="236.7" cy="804.1" r="2.1" fill="#4c4fa6"/><circle cx="429.9" cy="863.7" r="2.1" fill="#e5177e"/><circle cx="270.6" cy="989" r="2.1" fill="#954a9b"/><circle cx="164.9" cy="817.8" r="2.1" fill="#4c4fa6"/><circle cx="463.8" cy="835.1" r="2.1" fill="#e5177e"/><circle cx="406.5" cy="952.1" r="2.1" fill="#954a9b"/><circle cx="343.5" cy="752.2" r="2.1" fill="#3dae8f"/><circle cx="289.3" cy="795" r="2.1" fill="#c9d82c"/><circle cx="182.9" cy="719.7" r="2.1" fill="#c9d82c"/><circle cx="356.9" cy="982.9" r="2.1" fill="#954a9b"/><circle cx="268.1" cy="785.1" r="2.1" fill="#3dae8f"/><circle cx="217.4" cy="910.7" r="2.1" fill="#4c4fa6"/><circle cx="94.1" cy="732.7" r="2.1" fill="#c9d82c"/><circle cx="54.7" cy="849.9" r="2.1" fill="#4c4fa6"/><circle cx="306.4" cy="833.9" r="2.1" fill="#3dae8f"/><circle cx="232.2" cy="903.6" r="2.1" fill="#4c4fa6"/><circle cx="504.6" cy="838.5" r="2.1" fill="#e5177e"/><circle cx="505.7" cy="835.8" r="2.1" fill="#e5177e"/><circle cx="168.9" cy="922.4" r="2.1" fill="#4c4fa6"/><circle cx="293.4" cy="831" r="2.1" fill="#4c4fa6"/><circle cx="360.7" cy="946.9" r="2.1" fill="#954a9b"/><circle cx="137.9" cy="827.8" r="2.1" fill="#4c4fa6"/><circle cx="418.7" cy="849.1" r="2.1" fill="#6cbd45"/><circle cx="307" cy="905.2" r="2.1" fill="#3dae8f"/><circle cx="333.7" cy="948.1" r="2.1" fill="#954a9b"/><circle cx="487.2" cy="872.9" r="2.1" fill="#e5177e"/><circle cx="271" cy="920.6" r="2.1" fill="#3dae8f"/><circle cx="143" cy="798.9" r="2.1" fill="#4c4fa6"/><circle cx="154.6" cy="810.8" r="2.1" fill="#4c4fa6"/><circle cx="323.4" cy="867.6" r="2.1" fill="#3dae8f"/><circle cx="221.4" cy="719.2" r="2.1" fill="#c9d82c"/><circle cx="150.3" cy="778.5" r="2.1" fill="#29a9e0"/><circle cx="155.7" cy="856.1" r="2.1" fill="#4c4fa6"/><circle cx="234.6" cy="947.6" r="2.1" fill="#3dae8f"/><circle cx="240.8" cy="825" r="2.1" fill="#4c4fa6"/><circle cx="492" cy="893.4" r="2.1" fill="#e5177e"/><circle cx="328.9" cy="774.8" r="2.1" fill="#3dae8f"/><circle cx="454.1" cy="846.9" r="2.1" fill="#e5177e"/><circle cx="388.6" cy="918.4" r="2.1" fill="#954a9b"/><circle cx="444.8" cy="827.5" r="2.1" fill="#6cbd45"/><circle cx="499.5" cy="959.2" r="2.1" fill="#6cbd45"/><circle cx="310.1" cy="943.5" r="2.1" fill="#954a9b"/><circle cx="238.8" cy="946.2" r="2.1" fill="#3dae8f"/><circle cx="197.6" cy="907" r="2.1" fill="#4c4fa6"/><circle cx="497.4" cy="842.2" r="2.1" fill="#e5177e"/><circle cx="432.3" cy="988.2" r="2.1" fill="#954a9b"/><circle cx="79.4" cy="752.1" r="2.1" fill="#c9d82c"/><circle cx="373.3" cy="945.6" r="2.1" fill="#954a9b"/><circle cx="368.5" cy="990.9" r="2.1" fill="#954a9b"/><circle cx="377.8" cy="921.6" r="2.1" fill="#954a9b"/><circle cx="430.7" cy="855.1" r="2.1" fill="#e5177e"/><circle cx="40.5" cy="803.6" r="2.1" fill="#4c4fa6"/><circle cx="339.2" cy="851.4" r="2.1" fill="#6cbd45"/><circle cx="286.5" cy="803.5" r="2.1" fill="#3dae8f"/><circle cx="467.3" cy="821.3" r="2.1" fill="#e5177e"/><circle cx="180.9" cy="898.8" r="2.1" fill="#4c4fa6"/><circle cx="138.2" cy="826.5" r="2.1" fill="#4c4fa6"/><circle cx="317.9" cy="813.4" r="2.1" fill="#3dae8f"/><circle cx="368.4" cy="920.5" r="2.1" fill="#954a9b"/><circle cx="234.3" cy="906.6" r="2.1" fill="#3dae8f"/><circle cx="217.5" cy="834.3" r="2.1" fill="#4c4fa6"/><circle cx="200.3" cy="840.4" r="2.1" fill="#4c4fa6"/><circle cx="337.2" cy="755.5" r="2.1" fill="#3dae8f"/><circle cx="211.6" cy="791" r="2.1" fill="#29a9e0"/><circle cx="259.2" cy="980.8" r="2.1" fill="#954a9b"/><circle cx="119.6" cy="744.6" r="2.1" fill="#c9d82c"/><circle cx="477.8" cy="858" r="2.1" fill="#e5177e"/><circle cx="60.7" cy="846.5" r="2.1" fill="#4c4fa6"/><circle cx="222.5" cy="720.3" r="2.1" fill="#c9d82c"/><circle cx="98.4" cy="789.4" r="2.1" fill="#4c4fa6"/><circle cx="145.3" cy="891.8" r="2.1" fill="#4c4fa6"/><circle cx="452.1" cy="831" r="2.1" fill="#6cbd45"/><circle cx="260.9" cy="893" r="2.1" fill="#3dae8f"/><circle cx="296.4" cy="996.7" r="2.1" fill="#954a9b"/><circle cx="305.3" cy="797.7" r="2.1" fill="#3dae8f"/><circle cx="304.5" cy="762.9" r="2.1" fill="#3dae8f"/><circle cx="254" cy="945" r="2.1" fill="#3dae8f"/><circle cx="230" cy="918.1" r="2.1" fill="#3dae8f"/><circle cx="319.7" cy="866.4" r="2.1" fill="#6cbd45"/><circle cx="335.5" cy="872.9" r="2.1" fill="#29a9e0"/><circle cx="527" cy="973.9" r="2.1" fill="#6cbd45"/><circle cx="303.5" cy="912.3" r="2.1" fill="#3dae8f"/><circle cx="200.7" cy="848.1" r="2.1" fill="#4c4fa6"/><circle cx="255.1" cy="829.4" r="2.1" fill="#4c4fa6"/><circle cx="300.3" cy="769.5" r="2.1" fill="#3dae8f"/><circle cx="104.1" cy="738.1" r="2.1" fill="#c9d82c"/><circle cx="340.7" cy="982.8" r="2.1" fill="#954a9b"/><circle cx="163.6" cy="912.5" r="2.1" fill="#4c4fa6"/><circle cx="426.2" cy="958.2" r="2.1" fill="#954a9b"/><circle cx="400.4" cy="845.5" r="2.1" fill="#6cbd45"/><circle cx="413.8" cy="847.4" r="2.1" fill="#e5177e"/><circle cx="523.1" cy="971.9" r="2.1" fill="#6cbd45"/><circle cx="394.5" cy="874.2" r="2.1" fill="#e5177e"/><circle cx="166.4" cy="891.5" r="2.1" fill="#4c4fa6"/><circle cx="257.9" cy="822.2" r="2.1" fill="#4c4fa6"/><circle cx="45.4" cy="820.9" r="2.1" fill="#4c4fa6"/><circle cx="441.4" cy="939.9" r="2.1" fill="#954a9b"/><circle cx="475.6" cy="954.8" r="2.1" fill="#6cbd45"/><circle cx="333.7" cy="763.8" r="2.1" fill="#3dae8f"/><circle cx="346" cy="982.9" r="2.1" fill="#954a9b"/><circle cx="517.4" cy="885.4" r="2.1" fill="#6cbd45"/><circle cx="175.6" cy="794.5" r="2.1" fill="#4c4fa6"/><circle cx="495.2" cy="834.8" r="2.1" fill="#e5177e"/><circle cx="304.5" cy="835" r="2.1" fill="#29a9e0"/><circle cx="509.7" cy="843.5" r="2.1" fill="#e5177e"/><circle cx="242.8" cy="778.9" r="2.1" fill="#29a9e0"/><circle cx="161.9" cy="752.7" r="2.1" fill="#c9d82c"/><circle cx="373.1" cy="976.4" r="2.1" fill="#954a9b"/><circle cx="329.4" cy="798.7" r="2.1" fill="#3dae8f"/><circle cx="202.8" cy="800" r="2.1" fill="#4c4fa6"/><circle cx="151.4" cy="918.3" r="2.1" fill="#4c4fa6"/><circle cx="181.2" cy="802" r="2.1" fill="#29a9e0"/><circle cx="201.5" cy="858.1" r="2.1" fill="#4c4fa6"/><circle cx="494.5" cy="908.5" r="2.1" fill="#e5177e"/><circle cx="214.1" cy="900.4" r="2.1" fill="#4c4fa6"/><circle cx="205.3" cy="730.7" r="2.1" fill="#c9d82c"/><circle cx="82" cy="846.9" r="2.1" fill="#4c4fa6"/><circle cx="353.4" cy="961.3" r="2.1" fill="#954a9b"/><circle cx="305.8" cy="866" r="2.1" fill="#3dae8f"/><circle cx="282.3" cy="799.8" r="2.1" fill="#29a9e0"/><circle cx="100.9" cy="779.3" r="2.1" fill="#4c4fa6"/><circle cx="276.9" cy="827.7" r="2.1" fill="#3dae8f"/><circle cx="134.2" cy="860.1" r="2.1" fill="#4c4fa6"/><circle cx="126.1" cy="856.1" r="2.1" fill="#4c4fa6"/><circle cx="421.4" cy="880.4" r="2.1" fill="#6cbd45"/><circle cx="342.5" cy="944.4" r="2.1" fill="#954a9b"/><circle cx="269.5" cy="871.4" r="2.1" fill="#3dae8f"/><circle cx="267.3" cy="834.3" r="2.1" fill="#3dae8f"/><circle cx="412.5" cy="849.9" r="2.1" fill="#6cbd45"/><circle cx="492.7" cy="855.5" r="2.1" fill="#e5177e"/><circle cx="343.3" cy="951.4" r="2.1" fill="#954a9b"/><circle cx="172.9" cy="784.9" r="2.1" fill="#29a9e0"/><circle cx="169.7" cy="891.4" r="2.1" fill="#4c4fa6"/><circle cx="413.2" cy="920.3" r="2.1" fill="#954a9b"/><circle cx="491.9" cy="918.1" r="2.1" fill="#e5177e"/><circle cx="103" cy="737.1" r="2.1" fill="#c9d82c"/><circle cx="461.5" cy="980" r="2.1" fill="#954a9b"/><circle cx="309.4" cy="988.8" r="2.1" fill="#954a9b"/><circle cx="223" cy="850" r="2.1" fill="#4c4fa6"/><circle cx="231.5" cy="750.9" r="2.1" fill="#c9d82c"/><circle cx="167" cy="809.3" r="2.1" fill="#4c4fa6"/><circle cx="295.5" cy="925.4" r="2.1" fill="#3dae8f"/><circle cx="92.4" cy="794" r="2.1" fill="#4c4fa6"/><circle cx="415.2" cy="964.5" r="2.1" fill="#6cbd45"/><circle cx="294.3" cy="892.6" r="2.1" fill="#4c4fa6"/><circle cx="324" cy="703" r="2.1" fill="#e2231a"/><circle cx="194.4" cy="886.9" r="2.1" fill="#4c4fa6"/><circle cx="133" cy="810.5" r="2.1" fill="#4c4fa6"/><circle cx="69.3" cy="795.2" r="2.1" fill="#4c4fa6"/><circle cx="149" cy="726.1" r="2.1" fill="#c9d82c"/><circle cx="253.6" cy="892.7" r="2.1" fill="#3dae8f"/><circle cx="214.4" cy="916.1" r="2.1" fill="#4c4fa6"/><circle cx="291.2" cy="943.3" r="2.1" fill="#954a9b"/><circle cx="332.3" cy="853.4" r="2.1" fill="#e5177e"/><circle cx="307.7" cy="966.1" r="2.1" fill="#954a9b"/><circle cx="200.5" cy="930.1" r="2.1" fill="#3dae8f"/><circle cx="398" cy="837.4" r="2.1" fill="#6cbd45"/><circle cx="191" cy="878.3" r="2.1" fill="#4c4fa6"/><circle cx="334" cy="774.7" r="2.1" fill="#3dae8f"/><circle cx="345.1" cy="876.1" r="2.1" fill="#6cbd45"/><circle cx="456.1" cy="824.1" r="2.1" fill="#e5177e"/><circle cx="151.7" cy="911.7" r="2.1" fill="#4c4fa6"/><circle cx="123.1" cy="837.3" r="2.1" fill="#4c4fa6"/><circle cx="154.2" cy="747.2" r="2.1" fill="#c9d82c"/><circle cx="322.6" cy="822.7" r="2.1" fill="#6cbd45"/><circle cx="363.8" cy="801.2" r="2.1" fill="#6cbd45"/><circle cx="204.3" cy="806.5" r="2.1" fill="#4c4fa6"/><circle cx="294.8" cy="945.2" r="2.1" fill="#954a9b"/><circle cx="294" cy="913.6" r="2.1" fill="#6cbd45"/><circle cx="47.4" cy="795.1" r="2.1" fill="#4c4fa6"/><circle cx="127.5" cy="743" r="2.1" fill="#c9d82c"/><circle cx="132.3" cy="865" r="2.1" fill="#4c4fa6"/><circle cx="283.3" cy="778.3" r="2.1" fill="#3dae8f"/><circle cx="189.9" cy="823" r="2.1" fill="#4c4fa6"/><circle cx="36" cy="816.8" r="2.1" fill="#4c4fa6"/><circle cx="157.6" cy="876" r="2.1" fill="#4c4fa6"/><circle cx="262.6" cy="908.2" r="2.1" fill="#3dae8f"/><circle cx="270.7" cy="953.1" r="2.1" fill="#954a9b"/><circle cx="252.3" cy="788.2" r="2.1" fill="#c9d82c"/><circle cx="496" cy="877.2" r="2.1" fill="#e5177e"/><circle cx="202.2" cy="741.1" r="2.1" fill="#c9d82c"/><circle cx="406.9" cy="824.3" r="2.1" fill="#6cbd45"/><circle cx="286.4" cy="937.2" r="2.1" fill="#3dae8f"/><circle cx="135.9" cy="739.8" r="2.1" fill="#c9d82c"/><circle cx="310" cy="1004.1" r="2.1" fill="#954a9b"/><circle cx="343.3" cy="768.8" r="2.1" fill="#3dae8f"/><circle cx="427.4" cy="825.4" r="2.1" fill="#6cbd45"/><circle cx="493.1" cy="890.2" r="2.1" fill="#6cbd45"/><circle cx="175.6" cy="873.7" r="2.1" fill="#4c4fa6"/><circle cx="496.4" cy="831.6" r="2.1" fill="#e5177e"/><circle cx="447.9" cy="877.9" r="2.1" fill="#e5177e"/><circle cx="224.5" cy="943.3" r="2.1" fill="#3dae8f"/><circle cx="518.9" cy="843.4" r="2.1" fill="#6cbd45"/><circle cx="164.5" cy="844.4" r="2.1" fill="#4c4fa6"/><circle cx="376.5" cy="811.2" r="2.1" fill="#e5177e"/><circle cx="374.2" cy="934.9" r="2.1" fill="#954a9b"/><circle cx="218.6" cy="767.3" r="2.1" fill="#c9d82c"/><circle cx="166" cy="692" r="2.1" fill="#29a9e0"/><circle cx="448.9" cy="843" r="2.1" fill="#e5177e"/><circle cx="422.4" cy="867.1" r="2.1" fill="#6cbd45"/><circle cx="447.5" cy="887.2" r="2.1" fill="#e5177e"/><circle cx="432.2" cy="883.5" r="2.1" fill="#e5177e"/><circle cx="342.4" cy="776.5" r="2.1" fill="#3dae8f"/><circle cx="423.9" cy="990.9" r="2.1" fill="#954a9b"/><circle cx="174.2" cy="876.6" r="2.1" fill="#4c4fa6"/><circle cx="146.8" cy="897.8" r="2.1" fill="#4c4fa6"/><circle cx="455.6" cy="841.9" r="2.1" fill="#e5177e"/><circle cx="376.9" cy="958.2" r="2.1" fill="#954a9b"/><circle cx="267.8" cy="820.8" r="2.1" fill="#3dae8f"/><circle cx="147.5" cy="893.8" r="2.1" fill="#4c4fa6"/><circle cx="420" cy="864.7" r="2.1" fill="#e5177e"/><circle cx="504.6" cy="898.1" r="2.1" fill="#e5177e"/><circle cx="169.3" cy="814.4" r="2.1" fill="#4c4fa6"/><circle cx="516.1" cy="864" r="2.1" fill="#e5177e"/><circle cx="31.1" cy="849.4" r="2.1" fill="#4c4fa6"/><circle cx="430.7" cy="992.9" r="2.1" fill="#954a9b"/><circle cx="320" cy="708" r="2.1" fill="#e2231a"/><circle cx="285.4" cy="836.8" r="2.1" fill="#c9d82c"/><circle cx="199.4" cy="913.2" r="2.1" fill="#4c4fa6"/><circle cx="228.6" cy="931.4" r="2.1" fill="#3dae8f"/><circle cx="361.6" cy="810.1" r="2.1" fill="#6cbd45"/><circle cx="102.9" cy="744" r="2.1" fill="#c9d82c"/><circle cx="179.1" cy="897.2" r="2.1" fill="#4c4fa6"/><circle cx="120.6" cy="762.6" r="2.1" fill="#29a9e0"/><circle cx="228.7" cy="907.9" r="2.1" fill="#3dae8f"/><circle cx="113.1" cy="822.8" r="2.1" fill="#4c4fa6"/><circle cx="348.3" cy="866.8" r="2.1" fill="#6cbd45"/><circle cx="301" cy="847.9" r="2.1" fill="#3dae8f"/><circle cx="371.7" cy="805.3" r="2.1" fill="#6cbd45"/><circle cx="331.9" cy="972.2" r="2.1" fill="#954a9b"/><circle cx="146.3" cy="903.6" r="2.1" fill="#4c4fa6"/><circle cx="215.8" cy="922.8" r="2.1" fill="#3dae8f"/><circle cx="229.7" cy="855.6" r="2.1" fill="#4c4fa6"/><circle cx="180.8" cy="837.2" r="2.1" fill="#4c4fa6"/><circle cx="380.3" cy="936.7" r="2.1" fill="#e5177e"/><circle cx="257.3" cy="894.4" r="2.1" fill="#954a9b"/><circle cx="437.8" cy="881.9" r="2.1" fill="#e5177e"/><circle cx="218.9" cy="855.2" r="2.1" fill="#4c4fa6"/><circle cx="173.1" cy="806.2" r="2.1" fill="#4c4fa6"/><circle cx="402.7" cy="946.3" r="2.1" fill="#954a9b"/><circle cx="275.1" cy="761.4" r="2.1" fill="#c9d82c"/><circle cx="303.2" cy="996.1" r="2.1" fill="#954a9b"/><circle cx="445" cy="885.2" r="2.1" fill="#e5177e"/><circle cx="206.4" cy="930.3" r="2.1" fill="#3dae8f"/><circle cx="181.3" cy="712.8" r="2.1" fill="#c9d82c"/><circle cx="335.7" cy="894.9" r="2.1" fill="#6cbd45"/><circle cx="398.8" cy="929.6" r="2.1" fill="#954a9b"/><circle cx="494" cy="903.1" r="2.1" fill="#e5177e"/><circle cx="485.8" cy="825.8" r="2.1" fill="#e5177e"/><circle cx="303.1" cy="864.5" r="2.1" fill="#3dae8f"/><circle cx="142.7" cy="855.6" r="2.1" fill="#4c4fa6"/><circle cx="162.2" cy="782.6" r="2.1" fill="#29a9e0"/><circle cx="294.2" cy="791.4" r="2.1" fill="#3dae8f"/><circle cx="125.3" cy="780.6" r="2.1" fill="#4c4fa6"/><circle cx="141.8" cy="791.8" r="2.1" fill="#4c4fa6"/><circle cx="98.8" cy="841" r="2.1" fill="#4c4fa6"/><circle cx="198.2" cy="901.2" r="2.1" fill="#4c4fa6"/><circle cx="150.5" cy="797.9" r="2.1" fill="#4c4fa6"/><circle cx="364.7" cy="986.8" r="2.1" fill="#954a9b"/><circle cx="265" cy="895.7" r="2.1" fill="#3dae8f"/><circle cx="487.2" cy="912.5" r="2.1" fill="#e5177e"/><circle cx="62.1" cy="870.4" r="2.1" fill="#4c4fa6"/><circle cx="435.8" cy="845.8" r="2.1" fill="#6cbd45"/><circle cx="196.3" cy="812.3" r="2.1" fill="#4c4fa6"/><circle cx="482.7" cy="900.3" r="2.1" fill="#e5177e"/><circle cx="165.2" cy="918.8" r="2.1" fill="#4c4fa6"/><circle cx="251.3" cy="939.3" r="2.1" fill="#3dae8f"/><circle cx="162.9" cy="869.8" r="2.1" fill="#4c4fa6"/><circle cx="303.1" cy="907.8" r="2.1" fill="#3dae8f"/><circle cx="219" cy="749.2" r="2.1" fill="#c9d82c"/><circle cx="387" cy="833.2" r="2.1" fill="#6cbd45"/><circle cx="309.5" cy="870.2" r="2.1" fill="#954a9b"/><circle cx="290.8" cy="942.6" r="2.1" fill="#954a9b"/><circle cx="355.4" cy="999.8" r="2.1" fill="#954a9b"/><circle cx="162.1" cy="819.2" r="2.1" fill="#4c4fa6"/><circle cx="54.1" cy="807.4" r="2.1" fill="#4c4fa6"/><circle cx="296.3" cy="966.3" r="2.1" fill="#954a9b"/><circle cx="281.9" cy="791.8" r="2.1" fill="#29a9e0"/><circle cx="498.8" cy="876.1" r="2.1" fill="#e5177e"/><circle cx="248.7" cy="944.9" r="2.1" fill="#3dae8f"/><circle cx="229.5" cy="721" r="2.1" fill="#c9d82c"/><circle cx="268.9" cy="777.2" r="2.1" fill="#c9d82c"/><circle cx="288.7" cy="990.4" r="2.1" fill="#954a9b"/><circle cx="325.9" cy="867" r="2.1" fill="#3dae8f"/><circle cx="394.4" cy="865.3" r="2.1" fill="#6cbd45"/><circle cx="284.9" cy="980.7" r="2.1" fill="#954a9b"/><circle cx="271" cy="841.4" r="2.1" fill="#3dae8f"/><circle cx="379" cy="984.1" r="2.1" fill="#954a9b"/><circle cx="323.1" cy="827.6" r="2.1" fill="#6cbd45"/><circle cx="268.7" cy="787.9" r="2.1" fill="#29a9e0"/><circle cx="229.2" cy="938.3" r="2.1" fill="#3dae8f"/><circle cx="102.7" cy="884" r="2.1" fill="#4c4fa6"/><circle cx="218.4" cy="750.3" r="2.1" fill="#c9d82c"/><circle cx="71" cy="854" r="2.1" fill="#29a9e0"/><circle cx="314.6" cy="952.8" r="2.1" fill="#954a9b"/><circle cx="292.2" cy="859.1" r="2.1" fill="#3dae8f"/><circle cx="229.7" cy="800.9" r="2.1" fill="#4c4fa6"/><circle cx="108.1" cy="858" r="2.1" fill="#4c4fa6"/><circle cx="472.4" cy="827.5" r="2.1" fill="#e5177e"/><circle cx="230.3" cy="789.6" r="2.1" fill="#29a9e0"/><circle cx="479" cy="822.4" r="2.1" fill="#e5177e"/><circle cx="105.7" cy="836.7" r="2.1" fill="#4c4fa6"/><circle cx="302" cy="728.1" r="2.1" fill="#c9d82c"/><circle cx="145.7" cy="799.8" r="2.1" fill="#4c4fa6"/><circle cx="354.1" cy="993.7" r="2.1" fill="#954a9b"/><circle cx="93.9" cy="752.5" r="2.1" fill="#c9d82c"/><circle cx="291.2" cy="775.7" r="2.1" fill="#3dae8f"/><circle cx="267.4" cy="811" r="2.1" fill="#c9d82c"/><circle cx="207.6" cy="872.8" r="2.1" fill="#4c4fa6"/><circle cx="303.7" cy="780.1" r="2.1" fill="#3dae8f"/><circle cx="309.1" cy="854.4" r="2.1" fill="#3dae8f"/><circle cx="201.7" cy="726.3" r="2.1" fill="#c9d82c"/><circle cx="109" cy="849.8" r="2.1" fill="#4c4fa6"/><circle cx="471.9" cy="965.2" r="2.1" fill="#954a9b"/><circle cx="383.8" cy="948.5" r="2.1" fill="#954a9b"/><circle cx="469.7" cy="875.7" r="2.1" fill="#e5177e"/><circle cx="413" cy="881.8" r="2.1" fill="#954a9b"/><circle cx="285.6" cy="778.7" r="2.1" fill="#c9d82c"/><circle cx="160" cy="684" r="2.1" fill="#29a9e0"/><circle cx="406.2" cy="844.6" r="2.1" fill="#e5177e"/><circle cx="201.8" cy="840.4" r="2.1" fill="#4c4fa6"/><circle cx="140" cy="736.1" r="2.1" fill="#c9d82c"/><circle cx="322.6" cy="957.6" r="2.1" fill="#6cbd45"/><circle cx="263.8" cy="775.4" r="2.1" fill="#c9d82c"/><circle cx="429.3" cy="944.1" r="2.1" fill="#954a9b"/><circle cx="545.4" cy="876.4" r="2.1" fill="#e5177e"/><circle cx="189.2" cy="747.9" r="2.1" fill="#c9d82c"/><circle cx="445.9" cy="884.5" r="2.1" fill="#e5177e"/><circle cx="61" cy="910" r="2.1" fill="#f58a1f"/><circle cx="361.1" cy="767.4" r="2.1" fill="#3dae8f"/><circle cx="70.1" cy="865.7" r="2.1" fill="#4c4fa6"/><circle cx="175.4" cy="762.3" r="2.1" fill="#29a9e0"/><circle cx="306.6" cy="846.1" r="2.1" fill="#3dae8f"/><circle cx="369" cy="855.4" r="2.1" fill="#6cbd45"/><circle cx="42.5" cy="857.4" r="2.1" fill="#4c4fa6"/><circle cx="449.3" cy="836.7" r="2.1" fill="#6cbd45"/><circle cx="265.4" cy="874.8" r="2.1" fill="#3dae8f"/><circle cx="386.6" cy="806.4" r="2.1" fill="#6cbd45"/><circle cx="293.4" cy="993.9" r="2.1" fill="#954a9b"/><circle cx="169.9" cy="761.4" r="2.1" fill="#29a9e0"/><circle cx="26.8" cy="833.5" r="2.1" fill="#4c4fa6"/><circle cx="391.3" cy="944.5" r="2.1" fill="#954a9b"/><circle cx="228" cy="862.3" r="2.1" fill="#4c4fa6"/><circle cx="27.9" cy="853.4" r="2.1" fill="#4c4fa6"/><circle cx="363.9" cy="808.8" r="2.1" fill="#6cbd45"/><circle cx="47.3" cy="857.2" r="2.1" fill="#4c4fa6"/><circle cx="302.9" cy="873.3" r="2.1" fill="#954a9b"/><circle cx="274.3" cy="786" r="2.1" fill="#3dae8f"/><circle cx="228.8" cy="717.9" r="2.1" fill="#c9d82c"/><circle cx="393.1" cy="853.7" r="2.1" fill="#e5177e"/><circle cx="407.8" cy="880.4" r="2.1" fill="#6cbd45"/><circle cx="457" cy="847.9" r="2.1" fill="#e5177e"/><circle cx="279.5" cy="774.4" r="2.1" fill="#3dae8f"/><circle cx="343.1" cy="864.4" r="2.1" fill="#6cbd45"/><circle cx="251.9" cy="781.5" r="2.1" fill="#29a9e0"/><circle cx="329.2" cy="818.9" r="2.1" fill="#6cbd45"/><circle cx="162.8" cy="710.9" r="2.1" fill="#c9d82c"/><circle cx="278.5" cy="794.9" r="2.1" fill="#29a9e0"/><circle cx="447.8" cy="839.2" r="2.1" fill="#e5177e"/><circle cx="147.5" cy="857" r="2.1" fill="#4c4fa6"/><circle cx="325.7" cy="977.3" r="2.1" fill="#954a9b"/><circle cx="157.3" cy="864" r="2.1" fill="#4c4fa6"/><circle cx="386.7" cy="888.4" r="2.1" fill="#6cbd45"/><circle cx="204.1" cy="793.1" r="2.1" fill="#4c4fa6"/><circle cx="72.4" cy="836.5" r="2.1" fill="#4c4fa6"/><circle cx="429.4" cy="824.5" r="2.1" fill="#6cbd45"/><circle cx="231.8" cy="836" r="2.1" fill="#29a9e0"/><circle cx="303.5" cy="898.5" r="2.1" fill="#3dae8f"/><circle cx="377" cy="823.5" r="2.1" fill="#6cbd45"/><circle cx="264.2" cy="934.4" r="2.1" fill="#3dae8f"/><circle cx="282.9" cy="747.4" r="2.1" fill="#c9d82c"/><circle cx="70.8" cy="739.3" r="2.1" fill="#c9d82c"/><circle cx="273" cy="825.9" r="2.1" fill="#c9d82c"/><circle cx="153.4" cy="904.2" r="2.1" fill="#4c4fa6"/><circle cx="279.8" cy="980.1" r="2.1" fill="#954a9b"/><circle cx="338.6" cy="842.5" r="2.1" fill="#3dae8f"/><circle cx="105" cy="781.4" r="2.1" fill="#4c4fa6"/><circle cx="196.2" cy="936.8" r="2.1" fill="#3dae8f"/><circle cx="96.1" cy="803.3" r="2.1" fill="#4c4fa6"/><circle cx="188.3" cy="884.2" r="2.1" fill="#4c4fa6"/><circle cx="144.1" cy="835" r="2.1" fill="#4c4fa6"/><circle cx="149.4" cy="731.7" r="2.1" fill="#c9d82c"/><circle cx="109.1" cy="736.1" r="2.1" fill="#c9d82c"/><circle cx="142.2" cy="905.9" r="2.1" fill="#4c4fa6"/><circle cx="87.1" cy="730.8" r="2.1" fill="#c9d82c"/><circle cx="187.2" cy="916" r="2.1" fill="#4c4fa6"/><circle cx="367.9" cy="813.4" r="2.1" fill="#3dae8f"/><circle cx="354" cy="801.8" r="2.1" fill="#6cbd45"/><circle cx="354" cy="863.4" r="2.1" fill="#6cbd45"/><circle cx="157.9" cy="904.4" r="2.1" fill="#4c4fa6"/><circle cx="374.9" cy="952.3" r="2.1" fill="#954a9b"/><circle cx="379.5" cy="925.8" r="2.1" fill="#954a9b"/><circle cx="453.6" cy="875.1" r="2.1" fill="#e5177e"/><circle cx="167.3" cy="853.6" r="2.1" fill="#4c4fa6"/><circle cx="350.3" cy="1007" r="2.1" fill="#954a9b"/><circle cx="269.1" cy="725.4" r="2.1" fill="#c9d82c"/><circle cx="304.5" cy="820.6" r="2.1" fill="#3dae8f"/><circle cx="200.5" cy="745.4" r="2.1" fill="#c9d82c"/><circle cx="203.7" cy="729.9" r="2.1" fill="#c9d82c"/><circle cx="189.7" cy="847.7" r="2.1" fill="#4c4fa6"/><circle cx="69.6" cy="840.9" r="2.1" fill="#4c4fa6"/><circle cx="275" cy="878.1" r="2.1" fill="#3dae8f"/><circle cx="265" cy="822.5" r="2.1" fill="#29a9e0"/><circle cx="260.7" cy="888.5" r="2.1" fill="#3dae8f"/><circle cx="443.3" cy="889.7" r="2.1" fill="#e5177e"/><circle cx="369.5" cy="990.6" r="2.1" fill="#954a9b"/><circle cx="336" cy="899.7" r="2.1" fill="#3dae8f"/><circle cx="185.8" cy="885.3" r="2.1" fill="#4c4fa6"/><circle cx="295.5" cy="971.4" r="2.1" fill="#954a9b"/><circle cx="455.3" cy="840.2" r="2.1" fill="#6cbd45"/><circle cx="224" cy="795" r="2.1" fill="#4c4fa6"/><circle cx="319.5" cy="829.4" r="2.1" fill="#3dae8f"/><circle cx="166.9" cy="784.9" r="2.1" fill="#29a9e0"/><circle cx="254.1" cy="919.1" r="2.1" fill="#4c4fa6"/><circle cx="92" cy="820.9" r="2.1" fill="#4c4fa6"/><circle cx="90" cy="833.9" r="2.1" fill="#4c4fa6"/><circle cx="377" cy="874.1" r="2.1" fill="#6cbd45"/><circle cx="492.3" cy="907.6" r="2.1" fill="#e5177e"/><circle cx="498.4" cy="864.2" r="2.1" fill="#e5177e"/><circle cx="530.5" cy="861.7" r="2.1" fill="#e5177e"/><circle cx="102.6" cy="860.1" r="2.1" fill="#4c4fa6"/><circle cx="199.8" cy="795.7" r="2.1" fill="#4c4fa6"/><circle cx="383.3" cy="803.8" r="2.1" fill="#6cbd45"/><circle cx="51.8" cy="781.9" r="2.1" fill="#4c4fa6"/><circle cx="388.5" cy="980.5" r="2.1" fill="#954a9b"/><circle cx="223.7" cy="930" r="2.1" fill="#3dae8f"/><circle cx="262.2" cy="759.8" r="2.1" fill="#c9d82c"/><circle cx="348.8" cy="919.6" r="2.1" fill="#6cbd45"/><circle cx="97.3" cy="875.1" r="2.1" fill="#4c4fa6"/><circle cx="208.3" cy="891.8" r="2.1" fill="#4c4fa6"/><circle cx="281.6" cy="831.5" r="2.1" fill="#3dae8f"/><circle cx="443.3" cy="870.8" r="2.1" fill="#e5177e"/><circle cx="84.1" cy="841.4" r="2.1" fill="#4c4fa6"/><circle cx="225.8" cy="784.6" r="2.1" fill="#29a9e0"/><circle cx="182.7" cy="911.6" r="2.1" fill="#4c4fa6"/><circle cx="191.6" cy="836.8" r="2.1" fill="#4c4fa6"/><circle cx="437.9" cy="837" r="2.1" fill="#e5177e"/><circle cx="168.8" cy="795.1" r="2.1" fill="#4c4fa6"/><circle cx="302.7" cy="992.8" r="2.1" fill="#954a9b"/><circle cx="110.6" cy="876" r="2.1" fill="#4c4fa6"/><circle cx="139.9" cy="740.8" r="2.1" fill="#c9d82c"/><circle cx="128.3" cy="887.1" r="2.1" fill="#4c4fa6"/><circle cx="371.2" cy="875.7" r="2.1" fill="#6cbd45"/><circle cx="119.7" cy="899" r="2.1" fill="#4c4fa6"/><circle cx="487.5" cy="885.8" r="2.1" fill="#e5177e"/><circle cx="165.3" cy="904.6" r="2.1" fill="#4c4fa6"/><circle cx="137.6" cy="800.4" r="2.1" fill="#4c4fa6"/><circle cx="309" cy="954.7" r="2.1" fill="#4c4fa6"/><circle cx="253.5" cy="922.4" r="2.1" fill="#3dae8f"/><circle cx="284.2" cy="871.9" r="2.1" fill="#954a9b"/><circle cx="430.4" cy="867.8" r="2.1" fill="#e5177e"/><circle cx="190.1" cy="908.6" r="2.1" fill="#4c4fa6"/><circle cx="169.5" cy="916.8" r="2.1" fill="#4c4fa6"/><circle cx="74.5" cy="871.3" r="2.1" fill="#4c4fa6"/><circle cx="356.1" cy="795.8" r="2.1" fill="#6cbd45"/><circle cx="528.2" cy="890" r="2.1" fill="#e5177e"/><circle cx="271.9" cy="898.4" r="2.1" fill="#3dae8f"/><circle cx="243.3" cy="872.5" r="2.1" fill="#3dae8f"/><circle cx="272.1" cy="853.1" r="2.1" fill="#954a9b"/><circle cx="393.6" cy="1006.1" r="2.1" fill="#954a9b"/><circle cx="380.7" cy="968.8" r="2.1" fill="#954a9b"/><circle cx="300.5" cy="910.9" r="2.1" fill="#3dae8f"/><circle cx="122.4" cy="786.9" r="2.1" fill="#4c4fa6"/><circle cx="272.6" cy="928.2" r="2.1" fill="#3dae8f"/><circle cx="141.4" cy="759.8" r="2.1" fill="#29a9e0"/><circle cx="49.3" cy="859.7" r="2.1" fill="#4c4fa6"/><circle cx="156.7" cy="828.6" r="2.1" fill="#4c4fa6"/><circle cx="164.6" cy="728.1" r="2.1" fill="#c9d82c"/><circle cx="460.9" cy="841" r="2.1" fill="#e5177e"/><circle cx="317.6" cy="891.5" r="2.1" fill="#3dae8f"/><circle cx="304.2" cy="888.9" r="2.1" fill="#954a9b"/><circle cx="374.7" cy="870.1" r="2.1" fill="#6cbd45"/><circle cx="204" cy="770.9" r="2.1" fill="#29a9e0"/><circle cx="296.3" cy="856.7" r="2.1" fill="#3dae8f"/><circle cx="183.7" cy="797.7" r="2.1" fill="#4c4fa6"/><circle cx="65" cy="918" r="2.1" fill="#f58a1f"/><circle cx="314.8" cy="946.7" r="2.1" fill="#954a9b"/><circle cx="174" cy="907.6" r="2.1" fill="#4c4fa6"/><circle cx="515.1" cy="881.7" r="2.1" fill="#e5177e"/><circle cx="350.1" cy="952.3" r="2.1" fill="#954a9b"/><circle cx="249.5" cy="849" r="2.1" fill="#4c4fa6"/><circle cx="177.4" cy="796.5" r="2.1" fill="#4c4fa6"/><circle cx="241.7" cy="800.6" r="2.1" fill="#29a9e0"/><circle cx="208.1" cy="891" r="2.1" fill="#4c4fa6"/><circle cx="173.2" cy="908.3" r="2.1" fill="#4c4fa6"/><circle cx="318.1" cy="823.9" r="2.1" fill="#c9d82c"/><circle cx="441.7" cy="828.9" r="2.1" fill="#6cbd45"/><circle cx="192" cy="908.3" r="2.1" fill="#4c4fa6"/><circle cx="127.5" cy="863.1" r="2.1" fill="#4c4fa6"/><circle cx="150.4" cy="873.2" r="2.1" fill="#4c4fa6"/><circle cx="122.8" cy="827.2" r="2.1" fill="#4c4fa6"/><circle cx="236.5" cy="840.3" r="2.1" fill="#4c4fa6"/><circle cx="241.6" cy="798" r="2.1" fill="#c9d82c"/><circle cx="382.9" cy="891.8" r="2.1" fill="#6cbd45"/><circle cx="333.7" cy="815" r="2.1" fill="#3dae8f"/><circle cx="555.5" cy="871.6" r="2.1" fill="#e5177e"/><circle cx="197.3" cy="926.6" r="2.1" fill="#3dae8f"/><circle cx="538.4" cy="870.5" r="2.1" fill="#e5177e"/><circle cx="46.5" cy="812.4" r="2.1" fill="#4c4fa6"/><circle cx="310.2" cy="807.8" r="2.1" fill="#3dae8f"/><circle cx="430.4" cy="865.3" r="2.1" fill="#6cbd45"/></g>
<path d="M153 675.3 C170 676.5 188 678.8 205 682.5 C230 688 258 697 283 707 C300 714 316 723 325 734 C331 741 330 748 324 753.5 C316 759 300 765 284 776 C272 785 264 797 260 810 C256 825 257 842 253 858 C248 878 238 896 224 908 C208 922 190 934 172 938 C160 941 148 942 140 935 C132 926 127 914 118 904 C108 893 95 884 80 879 C62 874 40 872 22 864 C10 858 4 848 3.5 835 C3 815 10 795 22 776 C35 754 52 733 70 713 C85 697 102 685 122 679 C132 676 143 675 153 675.3 Z" fill="none" stroke="#111" stroke-width="1.25"/>
<path d="M329 745 C329 749 327.5 751.5 324 753.5 C316 759 300 765 284 776 C272 785 264 797 260 810 C256 825 257 842 253 858 C248 878 238 896 224 908 C208 922 190 934 172 938" fill="none" stroke="#111" stroke-width="1.8" stroke-linecap="round"/>
<path d="M316 759.5 C305 765 296 769 284 776 C272 785 264 797 260 810 C256 825 257 842 253 858 C248 878 238 896 224 908 C213 917 203 924 190 931" fill="none" stroke="#111" stroke-width="2.4" stroke-linecap="round"/>
<path d="M308 803.8 C316 795 328 787 345 782 C360 778.5 376 777.5 392 779.5 C410 782 428 790 449 801 C468 810 490 814 510 819 C532 825 551 838 560 852 C566.5 864 565 880 555 889 C544 898 525 903 510 907 C502 909 498 914 502 921 C508 930 522 935 538 944 C552 952 562 958 560 965 C556 972 540 973 525 976 C510 979 500 984 492 993 C485 1003 481 1014 474 1021 C467 1027 456 1027 446 1025.5 C430 1023 414 1019 398 1016 C380 1013 360 1013 340 1015 C320 1017 300 1019 283 1015 C265 1011 252 1001 244 988 C238 977 236 963 239 953 C243 943 252 938 266 933 C282 927 298 920 307 908 C314 898 315 884 312 872 C309 858 303 846 300 834 C298 822 300 812 308 803.8 Z" fill="none" stroke="#111" stroke-width="2.0"/>
<circle cx="117.7" cy="932" r="11.6" fill="#fff" stroke="#3a5dab" stroke-width="2.8"/>
<text transform="translate(117.7 939.2) scale(1 1.035)" font-size="20" text-anchor="middle" >1</text>
<circle cx="144.1" cy="867.7" r="11.6" fill="#fff" stroke="#4c4fa6" stroke-width="2.8"/>
<text transform="translate(144.1 874.9) scale(1 1.035)" font-size="20" text-anchor="middle" >2</text>
<circle cx="208.4" cy="797.7" r="11.6" fill="#fff" stroke="#29a9e0" stroke-width="2.8"/>
<text transform="translate(208.4 804.9) scale(1 1.035)" font-size="20" text-anchor="middle" >3</text>
<circle cx="466.7" cy="865.2" r="11.6" fill="#fff" stroke="#e5177e" stroke-width="2.8"/>
<text transform="translate(466.7 872.4) scale(1 1.035)" font-size="20" text-anchor="middle" >4</text>
<circle cx="334.2" cy="893.5" r="11.6" fill="#fff" stroke="#6cbd45" stroke-width="2.8"/>
<text transform="translate(334.2 900.7) scale(1 1.035)" font-size="20" text-anchor="middle" >5</text>
<circle cx="329.2" cy="704.7" r="10.5" fill="#fff" stroke="#e2231a" stroke-width="2.8"/>
<text transform="translate(329.2 711.9) scale(1 1.035)" font-size="20" text-anchor="middle" >6</text>
<circle cx="87.6" cy="902.5" r="11.6" fill="#fff" stroke="#f58a1f" stroke-width="2.8"/>
<text transform="translate(87.6 909.7) scale(1 1.035)" font-size="20" text-anchor="middle" >7</text>
<circle cx="170" cy="738.9" r="11.6" fill="#fff" stroke="#c9d82c" stroke-width="2.8"/>
<text transform="translate(170 746.1) scale(1 1.035)" font-size="20" text-anchor="middle" >8</text>
<circle cx="349.8" cy="972.6" r="11.6" fill="#fff" stroke="#954a9b" stroke-width="2.8"/>
<text transform="translate(349.8 979.8) scale(1 1.035)" font-size="20" text-anchor="middle" >9</text>
<circle cx="493.5" cy="959.7" r="11.6" fill="#fff" stroke="#6cbd45" stroke-width="2.8"/>
<text transform="translate(493.5 966.9) scale(1 1.035)" font-size="19" text-anchor="middle" letter-spacing="-1">10</text>
<circle cx="288.5" cy="863.5" r="11.6" fill="#fff" stroke="#3dae8f" stroke-width="2.8"/>
<text transform="translate(288.5 870.7) scale(1 1.035)" font-size="19" text-anchor="middle" letter-spacing="-1">11</text>
<text transform="translate(46.4 1043.2) scale(1 1.035)" font-size="20.9" text-anchor="start" >hu-dHSCs</text>
<line x1="152.5" y1="1041.4" x2="466" y2="1041.4" stroke="#231f20" stroke-width="1.8" />
<path d="M461.5 1033.5 L477.8 1041.4 L461.5 1049.3 L465.5 1041.4 Z" fill="#231f20"/>
<text transform="translate(484.5 1042.8) scale(1 1.035)" font-size="20.9" text-anchor="start" >hu-aHSCs</text>
<text transform="translate(889.3 663) scale(1 1.035)" font-size="20.9" text-anchor="start" >GSEA of hu-aHSCs versus hu-dHSCs</text>
<line x1="1132.8" y1="703" x2="1132.8" y2="1146.7" stroke="#ebebeb" stroke-width="1" />
<line x1="1157" y1="703" x2="1157" y2="1146.7" stroke="#ebebeb" stroke-width="1" />
<line x1="1181.1" y1="703" x2="1181.1" y2="1146.7" stroke="#ebebeb" stroke-width="1" />
<line x1="1205.3" y1="703" x2="1205.3" y2="1146.7" stroke="#ebebeb" stroke-width="1" />
<line x1="1229.4" y1="703" x2="1229.4" y2="1146.7" stroke="#ebebeb" stroke-width="1" />
<line x1="1253.6" y1="703" x2="1253.6" y2="1146.7" stroke="#ebebeb" stroke-width="1" />
<line x1="1277.8" y1="703" x2="1277.8" y2="1146.7" stroke="#ebebeb" stroke-width="1" />
<line x1="1301.9" y1="703" x2="1301.9" y2="1146.7" stroke="#ebebeb" stroke-width="1" />
<line x1="1326" y1="703" x2="1326" y2="1146.7" stroke="#ebebeb" stroke-width="1" />
<line x1="1350.2" y1="703" x2="1350.2" y2="1146.7" stroke="#ebebeb" stroke-width="1" />
<line x1="1128" y1="721.8" x2="1350.6" y2="721.8" stroke="#ebebeb" stroke-width="1" />
<line x1="1128" y1="752.9" x2="1350.6" y2="752.9" stroke="#ebebeb" stroke-width="1" />
<line x1="1128" y1="784.9" x2="1350.6" y2="784.9" stroke="#ebebeb" stroke-width="1" />
<line x1="1128" y1="816.1" x2="1350.6" y2="816.1" stroke="#ebebeb" stroke-width="1" />
<line x1="1128" y1="848.6" x2="1350.6" y2="848.6" stroke="#ebebeb" stroke-width="1" />
<line x1="1128" y1="879.5" x2="1350.6" y2="879.5" stroke="#ebebeb" stroke-width="1" />
<line x1="1128" y1="910.5" x2="1350.6" y2="910.5" stroke="#ebebeb" stroke-width="1" />
<line x1="1128" y1="941.5" x2="1350.6" y2="941.5" stroke="#ebebeb" stroke-width="1" />
<line x1="1128" y1="973" x2="1350.6" y2="973" stroke="#ebebeb" stroke-width="1" />
<line x1="1128" y1="1004.1" x2="1350.6" y2="1004.1" stroke="#ebebeb" stroke-width="1" />
<line x1="1128" y1="1035.2" x2="1350.6" y2="1035.2" stroke="#ebebeb" stroke-width="1" />
<line x1="1128" y1="1066.2" x2="1350.6" y2="1066.2" stroke="#ebebeb" stroke-width="1" />
<line x1="1128" y1="1097.5" x2="1350.6" y2="1097.5" stroke="#ebebeb" stroke-width="1" />
<line x1="1128" y1="1128.7" x2="1350.6" y2="1128.7" stroke="#ebebeb" stroke-width="1" />
<rect x="1253.6" y="707.9" width="87.2" height="27.9" fill="#e62236"/>
<line x1="1118.9" y1="721.8" x2="1128" y2="721.8" stroke="#555" stroke-width="1.6" />
<text transform="translate(1105.8 711) scale(1 1.035)" font-size="20.9" text-anchor="end" >The citric acid (TCA) cycle and</text>
<text transform="translate(1105.8 731.4) scale(1 1.035)" font-size="20.9" text-anchor="end" >respiratory electron transport</text>
<rect x="1253.6" y="739.1" width="83.1" height="27.5" fill="#e62236"/>
<line x1="1118.9" y1="752.9" x2="1128" y2="752.9" stroke="#555" stroke-width="1.6" />
<text transform="translate(1105.8 758.2) scale(1 1.035)" font-size="20.9" text-anchor="end" >Respiratory electron transport, ATP synthesis</text>
<rect x="1253.6" y="771" width="81.5" height="27.7" fill="#863a86"/>
<line x1="1118.9" y1="784.9" x2="1128" y2="784.9" stroke="#555" stroke-width="1.6" />
<text transform="translate(1105.8 790.2) scale(1 1.035)" font-size="20.9" text-anchor="end" >G1/S transition</text>
<rect x="1253.6" y="802.4" width="81.5" height="27.5" fill="#e62236"/>
<line x1="1118.9" y1="816.1" x2="1128" y2="816.1" stroke="#555" stroke-width="1.6" />
<text transform="translate(1105.8 821.5) scale(1 1.035)" font-size="20.9" text-anchor="end" >Processing of capped intron-containing pre-mRNA</text>
<rect x="1253.6" y="834.6" width="80.8" height="28" fill="#e0146f"/>
<line x1="1118.9" y1="848.6" x2="1128" y2="848.6" stroke="#555" stroke-width="1.6" />
<text transform="translate(1105.8 854) scale(1 1.035)" font-size="20.9" text-anchor="end" >Mitotic G1–G1/S phases</text>
<rect x="1253.6" y="865.5" width="79.2" height="28.1" fill="#833d88"/>
<line x1="1118.9" y1="879.5" x2="1128" y2="879.5" stroke="#555" stroke-width="1.6" />
<text transform="translate(1105.8 884.9) scale(1 1.035)" font-size="20.9" text-anchor="end" >DNA replication pre-initiation</text>
<rect x="1253.6" y="896.7" width="79.2" height="27.7" fill="#833d88"/>
<line x1="1118.9" y1="910.5" x2="1128" y2="910.5" stroke="#555" stroke-width="1.6" />
<text transform="translate(1105.8 915.9) scale(1 1.035)" font-size="20.9" text-anchor="end" >M/G1 transition</text>
<rect x="1253.6" y="927.6" width="78.9" height="27.9" fill="#853c88"/>
<line x1="1118.9" y1="941.5" x2="1128" y2="941.5" stroke="#555" stroke-width="1.6" />
<text transform="translate(1105.8 946.9) scale(1 1.035)" font-size="20.9" text-anchor="end" >S phase</text>
<rect x="1253.6" y="958.8" width="76.4" height="28.3" fill="#943387"/>
<line x1="1118.9" y1="973" x2="1128" y2="973" stroke="#555" stroke-width="1.6" />
<text transform="translate(1105.8 978.4) scale(1 1.035)" font-size="20.9" text-anchor="end" >mRNA splicing</text>
<rect x="1253.6" y="990.2" width="75.4" height="27.8" fill="#e3186c"/>
<line x1="1118.9" y1="1004.1" x2="1128" y2="1004.1" stroke="#555" stroke-width="1.6" />
<text transform="translate(1105.8 1009.5) scale(1 1.035)" font-size="20.9" text-anchor="end" >mRNA splicing – major pathway</text>
<rect x="1253.6" y="1021.1" width="69.8" height="28.1" fill="#e62236"/>
<line x1="1118.9" y1="1035.2" x2="1128" y2="1035.2" stroke="#555" stroke-width="1.6" />
<text transform="translate(1105.8 1040.6) scale(1 1.035)" font-size="20.9" text-anchor="end" >Gene expression (transcription)</text>
<rect x="1170.4" y="1052" width="83.2" height="28.3" fill="#d21179"/>
<line x1="1118.9" y1="1066.2" x2="1128" y2="1066.2" stroke="#555" stroke-width="1.6" />
<text transform="translate(1105.8 1071.6) scale(1 1.035)" font-size="20.9" text-anchor="end" >Endoplasmic reticulum to Golgi anterograde transport</text>
<rect x="1166.4" y="1083.4" width="87.2" height="28.1" fill="#c8157e"/>
<line x1="1118.9" y1="1097.5" x2="1128" y2="1097.5" stroke="#555" stroke-width="1.6" />
<text transform="translate(1105.8 1102.9) scale(1 1.035)" font-size="20.9" text-anchor="end" >Interferon signalling</text>
<rect x="1138" y="1114.5" width="115.6" height="28.4" fill="#d81274"/>
<line x1="1118.9" y1="1128.7" x2="1128" y2="1128.7" stroke="#555" stroke-width="1.6" />
<text transform="translate(1105.8 1134.1) scale(1 1.035)" font-size="20.9" text-anchor="end" >MHC class II antigen presentation</text>
<path d="M1128 703 H1350.6 V1146.7 H1128 Z" fill="none" stroke="#666" stroke-width="1.6"/>
<line x1="1128" y1="1146.7" x2="1350.6" y2="1146.7" stroke="#444" stroke-width="1.6" />
<line x1="1128" y1="703" x2="1128" y2="1146.7" stroke="#7a7a7a" stroke-width="1.6" />
<line x1="1157" y1="1147.2" x2="1157" y2="1155.6" stroke="#555" stroke-width="1.6" />
<text transform="translate(1153.8 1185) scale(1 1.035)" font-size="20.9" text-anchor="middle" >−2</text>
<line x1="1205.3" y1="1147.2" x2="1205.3" y2="1155.6" stroke="#555" stroke-width="1.6" />
<text transform="translate(1200.8 1185) scale(1 1.035)" font-size="20.9" text-anchor="middle" >−1</text>
<line x1="1253.6" y1="1147.2" x2="1253.6" y2="1155.6" stroke="#555" stroke-width="1.6" />
<text transform="translate(1255.8 1185) scale(1 1.035)" font-size="20.9" text-anchor="middle" >0</text>
<line x1="1301.9" y1="1147.2" x2="1301.9" y2="1155.6" stroke="#555" stroke-width="1.6" />
<text transform="translate(1303.6 1185) scale(1 1.035)" font-size="20.9" text-anchor="middle" >1</text>
<line x1="1350.2" y1="1147.2" x2="1350.2" y2="1155.6" stroke="#555" stroke-width="1.6" />
<text transform="translate(1349 1185) scale(1 1.035)" font-size="20.9" text-anchor="middle" >2</text>
<text transform="translate(1239.3 1230.3) scale(1 1.035)" font-size="20.9" text-anchor="middle" >NES</text>
<text transform="translate(649.3 884.6) scale(1 1.035)" font-size="20.9">Adjusted <tspan font-style="italic">P</tspan></text>
<defs><linearGradient id="cb" x1="0" y1="0" x2="0" y2="1"><stop offset="0" stop-color="#3d5ca9"/><stop offset="0.16" stop-color="#594b9c"/><stop offset="0.38" stop-color="#8c348a"/><stop offset="0.6" stop-color="#d0117f"/><stop offset="0.82" stop-color="#e81e5a"/><stop offset="1" stop-color="#e71d2d"/></linearGradient></defs>
<rect x="650" y="894.5" width="25.3" height="126.5" fill="url(#cb)"/>
<line x1="650" y1="915.2" x2="655" y2="915.2" stroke="#fff" stroke-width="1.3" />
<line x1="670.3" y1="915.2" x2="675.3" y2="915.2" stroke="#fff" stroke-width="1.3" />
<text transform="translate(687.7 924.6) scale(1 1.035)" font-size="20.9">5 × 10<tspan dy="-10.5" font-size="14.5">−3</tspan></text>
<line x1="650" y1="943.2" x2="655" y2="943.2" stroke="#fff" stroke-width="1.3" />
<line x1="670.3" y1="943.2" x2="675.3" y2="943.2" stroke="#fff" stroke-width="1.3" />
<text transform="translate(687.7 952.6) scale(1 1.035)" font-size="20.9">4 × 10<tspan dy="-10.5" font-size="14.5">−3</tspan></text>
<line x1="650" y1="970.6" x2="655" y2="970.6" stroke="#fff" stroke-width="1.3" />
<line x1="670.3" y1="970.6" x2="675.3" y2="970.6" stroke="#fff" stroke-width="1.3" />
<text transform="translate(687.7 980) scale(1 1.035)" font-size="20.9">3 × 10<tspan dy="-10.5" font-size="14.5">−3</tspan></text>
<line x1="650" y1="998.2" x2="655" y2="998.2" stroke="#fff" stroke-width="1.3" />
<line x1="670.3" y1="998.2" x2="675.3" y2="998.2" stroke="#fff" stroke-width="1.3" />
<text transform="translate(687.7 1007.6) scale(1 1.035)" font-size="20.9">2 × 10<tspan dy="-10.5" font-size="14.5">−3</tspan></text>
<text transform="translate(1646 662.9) scale(1 1.035)" font-size="20.9" text-anchor="middle" >GPRC5C expression</text>
<rect x="1492.5" y="731.4" width="308.9" height="276.8" fill="none" stroke="#666" stroke-width="1.4"/>
<line x1="1482.5" y1="742.1" x2="1492.5" y2="742.1" stroke="#666" stroke-width="1.4" />
<text transform="translate(1469.2 749.4) scale(1 1.035)" font-size="20.2" text-anchor="end" >0.07</text>
<line x1="1482.5" y1="815.4" x2="1492.5" y2="815.4" stroke="#666" stroke-width="1.4" />
<text transform="translate(1469.2 822.7) scale(1 1.035)" font-size="20.2" text-anchor="end" >0.05</text>
<line x1="1482.5" y1="888.4" x2="1492.5" y2="888.4" stroke="#666" stroke-width="1.4" />
<text transform="translate(1469.2 895.7) scale(1 1.035)" font-size="20.2" text-anchor="end" >0.03</text>
<line x1="1482.5" y1="961.4" x2="1492.5" y2="961.4" stroke="#666" stroke-width="1.4" />
<text transform="translate(1469.2 968.7) scale(1 1.035)" font-size="20.2" text-anchor="end" >0.01</text>
<path d="M1503.2 760 C1513 775 1525 794 1537 809.5 C1549 825 1561 838 1573 848.5 C1588 862 1602 875 1615.7 882.5 C1628 889 1642 889.5 1651.4 890.5 C1660 891.3 1668 890 1674 891.5 C1688 895 1702 901 1715.7 908 C1729 916 1741 925 1751.4 934.5 C1766 948 1778 962 1790 979" fill="none" stroke="#1a1a1a" stroke-width="2.6" stroke-linecap="round"/>
<text transform="translate(1403 870) rotate(-90) scale(1 1.035)" font-size="20.9" text-anchor="middle">Normalized expression</text>
<text transform="translate(1511.4 1032.5) scale(1 1.035)" font-size="20.9" text-anchor="start" >hu-dHSCs</text>
<line x1="1624" y1="1028.2" x2="1672" y2="1028.2" stroke="#231f20" stroke-width="1.8" />
<path d="M1665.5 1021 L1682 1028.2 L1665.5 1035.4 L1669.5 1028.2 Z" fill="#231f20"/>
<text transform="translate(1694.3 1036) scale(1 1.035)" font-size="20.9" text-anchor="start" >hu-aHSCs</text>
<text transform="translate(1925.4 663) scale(1 1.035)" font-size="20.9" text-anchor="start" >GPRC5C expression</text>
<line x1="1939.3" y1="756" x2="1939.3" y2="1004.5" stroke="#666" stroke-width="1.5" />
<line x1="1926.6" y1="1004.5" x2="2103.1" y2="1004.5" stroke="#333" stroke-width="1.5" />
<line x1="1926.6" y1="1004.5" x2="1939.3" y2="1004.5" stroke="#666" stroke-width="1.5" />
<text transform="translate(1915 1011.9) scale(1 1.035)" font-size="20.9" text-anchor="end" >0</text>
<line x1="1926.6" y1="921.7" x2="1939.3" y2="921.7" stroke="#666" stroke-width="1.5" />
<text transform="translate(1915 929.1) scale(1 1.035)" font-size="20.9" text-anchor="end" >200</text>
<line x1="1926.6" y1="838.9" x2="1939.3" y2="838.9" stroke="#666" stroke-width="1.5" />
<text transform="translate(1915 846.3) scale(1 1.035)" font-size="20.9" text-anchor="end" >400</text>
<line x1="1926.6" y1="756.1" x2="1939.3" y2="756.1" stroke="#666" stroke-width="1.5" />
<text transform="translate(1915 763.5) scale(1 1.035)" font-size="20.9" text-anchor="end" >600</text>
<rect x="1963.1" y="839.7" width="45.4" height="164.8" fill="#e87d5b" stroke="#1a1a1a" stroke-width="2.2"/>
<rect x="2033.9" y="934.9" width="45.3" height="69.6" fill="#f5c597" stroke="#1a1a1a" stroke-width="2.2"/>
<line x1="1985.8" y1="839.7" x2="1985.8" y2="807.7" stroke="#1a1a1a" stroke-width="2.2" />
<line x1="1973" y1="807.7" x2="1999" y2="807.7" stroke="#1a1a1a" stroke-width="2.2" />
<line x1="2056.6" y1="934.9" x2="2056.6" y2="892.8" stroke="#1a1a1a" stroke-width="2.2" />
<line x1="2043.6" y1="892.8" x2="2069.6" y2="892.8" stroke="#1a1a1a" stroke-width="2.2" />
<circle cx="1986.2" cy="797.7" r="7.8" fill="#e8623c" stroke="#1a1a1a" stroke-width="2"/>
<circle cx="1985.4" cy="832" r="7.8" fill="#e8623c" stroke="#1a1a1a" stroke-width="2"/>
<circle cx="1970.3" cy="867" r="7.8" fill="#e8623c" stroke="#1a1a1a" stroke-width="2"/>
<circle cx="2001.3" cy="861" r="7.8" fill="#e8623c" stroke="#1a1a1a" stroke-width="2"/>
<circle cx="2056.6" cy="885.2" r="7.8" fill="#f2ad68" stroke="#1a1a1a" stroke-width="2"/>
<circle cx="2056.6" cy="914.2" r="7.8" fill="#f2ad68" stroke="#1a1a1a" stroke-width="2"/>
<circle cx="2041.5" cy="969.1" r="7.8" fill="#f2ad68" stroke="#1a1a1a" stroke-width="2"/>
<circle cx="2071.3" cy="967.9" r="7.8" fill="#f2ad68" stroke="#1a1a1a" stroke-width="2"/>
<line x1="1983" y1="782.2" x2="2051.8" y2="782.2" stroke="#1a1a1a" stroke-width="1.5" />
<text transform="translate(1965.1 771.9) scale(1 1.035)" font-size="20.9"><tspan font-style="italic">P</tspan> = 0.0108</text>
<line x1="1985.4" y1="1004.5" x2="1985.4" y2="1015.6" stroke="#666" stroke-width="1.5" />
<line x1="2056.6" y1="1004.5" x2="2056.6" y2="1015.6" stroke="#666" stroke-width="1.5" />
<text transform="translate(1994.2 1037.5) rotate(-45) scale(1 1.035)" font-size="20.9" text-anchor="end">LT-HSCs</text>
<text transform="translate(2064.6 1037.5) rotate(-45) scale(1 1.035)" font-size="20.9" text-anchor="end">ST-HSCs</text>
<text transform="translate(1856 882.4) rotate(-90) scale(1 1.035)" font-size="20.9" text-anchor="middle">Normalized counts</text>
</svg></body></html>
